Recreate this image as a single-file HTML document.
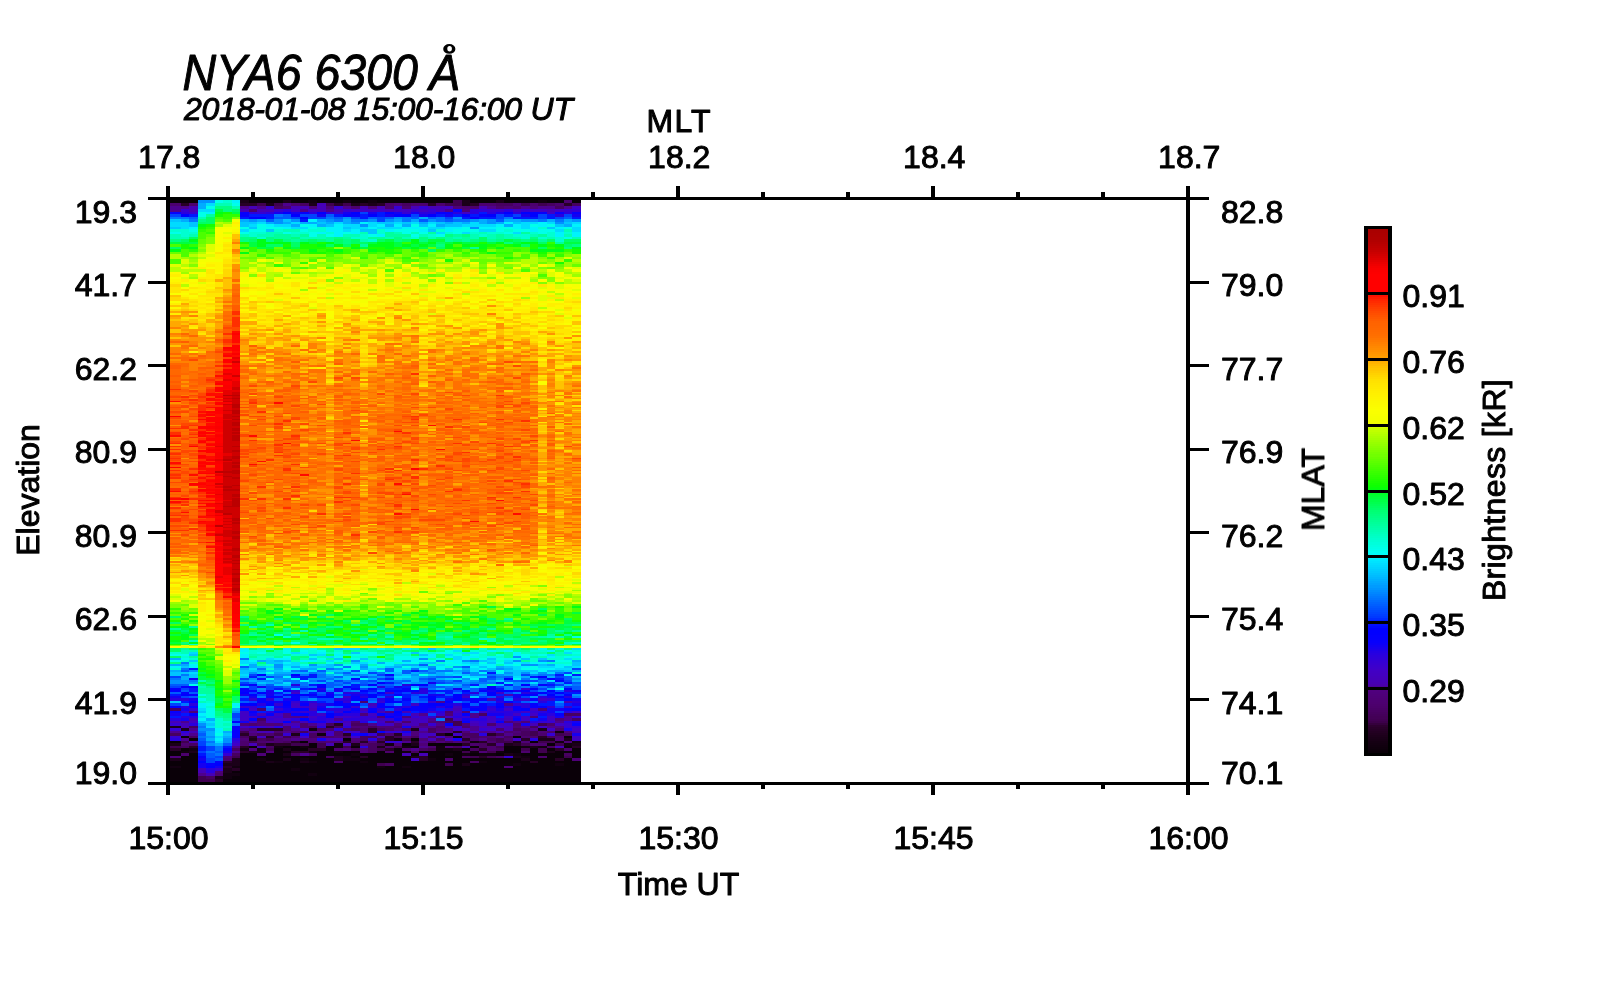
<!DOCTYPE html>
<html><head><meta charset="utf-8"><title>NYA6 6300 keogram</title>
<style>
html,body{margin:0;padding:0;background:#fff;}
body{width:1600px;height:1000px;overflow:hidden;}
svg{display:block;font-family:"Liberation Sans",sans-serif;}
text{fill:#000;stroke:#000;stroke-width:1px;stroke-linejoin:round;}
</style></head><body>
<svg width="1600" height="1000" viewBox="0 0 1600 1000">
<rect width="1600" height="1000" fill="#fff"/>
<g shape-rendering="crispEdges">
<clipPath id="hc"><rect x="170" y="200" width="411" height="582"/></clipPath>
<g clip-path="url(#hc)"><g transform="translate(168,200) scale(0.250441,0.5)" fill="none" stroke-width="34.2">
<path stroke="#0a0008" d="M34 0v6M0 0v6M34 1081v5M0 1081v5M34 1101v10M0 1101v10M34 1121v10M0 1121v10M34 1136v28M0 1136v28M68 0v6M68 1071v5M68 1096v5M68 1111v53M102 0v6M102 1076v5M102 1106v58M238 1157v7M272 1141v5M272 1151v13M306 1106v58M340 0v6M340 1091v5M340 1106v58M374 0v6M374 1111v5M374 1121v43M408 0v6M408 1106v15M408 1126v38M442 0v6M442 1096v25M442 1126v38M476 1091v5M476 1101v5M476 1111v5M476 1121v43M510 0v6M510 1091v10M510 1111v25M510 1141v23M544 0v6M544 1081v5M544 1096v5M544 1111v5M544 1126v38M578 1086v10M578 1111v10M578 1126v20M578 1151v13M612 0v6M612 1101v63M646 0v6M646 1091v20M646 1116v48M680 0v6M680 1106v5M680 1126v38M714 1076v5M714 1101v10M714 1121v43M748 0v6M748 1091v5M748 1101v5M748 1111v5M748 1121v43M782 0v6M782 1106v5M782 1116v5M782 1126v38M816 1106v58M850 0v6M850 1101v25M850 1136v28M884 0v6M884 1106v20M884 1131v33M918 0v6M918 1096v68M952 0v6M952 1086v5M952 1111v20M952 1136v28M986 0v6M986 1076v5M986 1091v5M986 1106v5M986 1121v43M1020 0v6M1020 1101v5M1020 1121v43M1054 0v6M1054 1086v5M1054 1101v15M1054 1121v43M1088 0v6M1088 1086v5M1088 1101v63M1122 0v6M1122 1066v5M1122 1086v5M1122 1101v5M1122 1111v5M1122 1121v5M1122 1131v33M1156 1071v5M1156 1086v5M1156 1101v63M1190 1096v5M1190 1116v10M1190 1131v33M1224 0v6M1224 1091v5M1224 1106v5M1224 1116v5M1224 1126v38M1258 0v6M1258 1116v5M1258 1126v38M1292 0v6M1292 1116v48M1326 1106v5M1326 1116v48M1360 0v6M1360 1091v15M1360 1116v15M1360 1136v28M1394 0v6M1394 1071v5M1394 1091v15M1394 1116v10M1394 1131v33M1428 0v6M1428 1106v5M1428 1121v43M1462 0v6M1462 1081v5M1462 1096v25M1462 1126v38M1496 1106v5M1496 1116v48M1530 0v6M1530 1086v5M1530 1096v5M1530 1106v58M1564 0v6M1564 1101v15M1564 1121v5M1564 1131v33M1598 1071v5M1598 1091v5M1598 1101v5M1598 1116v48M1632 0v6M1632 1096v20M1632 1121v43"/>
<path stroke="#120010" d="M34 1131v5M0 1131v5M68 1101v5M102 1096v5M238 1146v11M272 1131v5M272 1146v5M306 1096v5M374 1096v10M374 1116v5M442 1091v5M442 1121v5M510 1136v5M544 1091v5M544 1116v5M578 0v6M578 1056v5M578 1101v5M578 1121v5M578 1146v5M612 1066v5M680 1086v10M680 1101v5M714 0v6M714 1111v10M748 1106v5M748 1116v5M782 1121v5M816 0v6M850 1131v5M884 1086v5M918 1076v5M952 1091v5M952 1101v5M952 1131v5M1054 1116v5M1088 1091v10M1122 1096v5M1122 1106v5M1190 1106v5M1224 1081v5M1224 1101v5M1258 1106v5M1258 1121v5M1292 1106v5M1326 1101v5M1394 1106v5M1394 1126v5M1428 1091v5M1428 1111v5M1496 0v6M1496 1091v5M1564 1061v5M1564 1081v5M1564 1126v5M1598 1086v5M1632 1081v5"/>
<path stroke="#1b0019" d="M34 1051v5M0 1051v5M34 1086v5M0 1086v5M34 1116v5M0 1116v5M68 1056v5M102 1101v5M204 1151v6M238 1126v5M238 1136v10M272 1116v15M306 0v6M340 1076v5M340 1101v5M408 6v6M408 1086v5M408 1121v5M476 0v6M476 1096v5M476 1106v5M476 1116v5M510 1066v5M544 1121v5M578 6v6M680 1111v10M748 6v6M748 1086v5M816 6v6M850 1091v5M986 1056v5M986 1086v5M986 1111v5M1156 1096v5M1190 0v12M1190 1126v5M1326 0v6M1360 1086v5M1360 1106v5M1394 1081v5M1394 1111v5M1428 1116v5M1462 1091v5M1496 1056v5M1496 1076v5M1530 1076v5M1530 1101v5M1598 1076v5M1632 1086v5"/>
<path stroke="#280027" d="M34 1096v5M0 1096v5M68 6v6M102 1091v5M204 1157v7M238 1121v5M238 1131v5M272 1136v5M306 6v6M306 1066v5M306 1091v5M306 1101v5M340 6v6M340 1071v5M374 1056v5M408 1056v5M408 1071v5M442 1056v5M442 1086v5M476 1086v5M510 1081v5M510 1101v5M544 1101v5M578 1096v5M612 1096v5M646 1051v5M680 6v6M680 1046v5M714 1066v5M714 1081v5M782 6v6M782 1081v5M782 1111v5M816 1056v10M850 6v6M850 1081v5M884 1071v10M884 1096v5M918 1066v5M986 1081v5M1020 1111v10M1054 6v6M1088 1066v5M1156 1061v5M1190 1076v5M1190 1086v5M1224 6v6M1258 1081v5M1258 1096v5M1258 1111v5M1292 1066v5M1292 1086v5M1394 1086v5M1428 1076v5M1462 1121v5M1496 1071v5M1564 1096v5M1564 1116v5M1598 6v6M1632 1091v5"/>
<path stroke="#400050" d="M34 1091v5M0 1091v5M68 1081v5M136 1151v13M170 1157v7M272 1111v5M306 1061v5M340 1081v5M374 6v6M374 1086v5M408 1076v5M408 1096v5M442 6v6M442 1066v5M476 1071v5M510 1086v5M544 1086v5M612 1086v10M646 6v6M714 6v6M714 1091v5M748 1096v5M850 1066v5M850 1086v5M850 1096v5M850 1126v5M918 1071v5M918 1091v5M952 1076v5M1054 1096v5M1122 6v6M1122 1036v5M1122 1126v5M1156 0v12M1156 1041v10M1190 1101v5M1224 1111v5M1292 1101v5M1292 1111v5M1326 1066v5M1326 1076v10M1326 1091v5M1360 1081v5M1428 6v6M1428 1086v5M1428 1096v5M1462 1061v10M1496 6v6M1496 1046v5M1496 1081v5M1496 1096v10M1530 1081v5M1564 1066v5M1564 1086v5M1598 1111v5"/>
<path stroke="#470060" d="M34 1016v5M0 1016v5M34 1066v5M0 1066v5M68 1091v5M102 1051v5M102 1071v5M102 1086v5M170 1151v6M272 1096v5M272 1106v5M306 1071v5M374 1036v5M374 1066v5M374 1076v5M408 1091v5M442 12v6M476 1081v5M510 1106v5M544 6v6M544 1061v5M578 1051v5M578 1066v10M578 1106v5M612 1056v5M646 1046v5M646 1111v5M680 1051v5M680 1121v5M714 1071v5M748 1046v5M748 1056v5M782 1046v5M782 1071v10M816 1051v5M816 1071v5M816 1086v20M850 1056v5M850 1076v5M884 1126v5M952 6v6M986 1071v5M986 1101v5M1020 1096v5M1054 1056v10M1054 1081v5M1088 1076v5M1122 1041v5M1122 1081v5M1156 1091v5M1190 1066v5M1190 1081v5M1190 1111v5M1224 1066v10M1224 1096v5M1224 1121v5M1258 1026v5M1258 1086v10M1292 1076v5M1326 6v6M1326 1096v5M1326 1111v5M1360 6v6M1360 1071v5M1394 1056v5M1428 1061v10M1462 1051v5M1530 6v6M1530 1071v5M1530 1091v5M1564 12v6M1598 1026v5M1598 1066v5M1598 1106v5M1632 6v6M1632 1026v5M1632 1036v5"/>
<path stroke="#4c006e" d="M34 6v6M0 6v6M68 1086v5M68 1106v5M102 6v6M204 1146v5M238 1116v5M306 1081v10M340 18v5M340 1046v5M374 1016v5M374 1081v5M408 1066v5M442 1061v5M442 1076v10M476 12v6M476 1051v10M510 6v6M510 1061v5M510 1071v5M544 1046v10M578 1081v5M612 1071v5M612 1081v5M646 1056v5M646 1071v5M680 1061v10M680 1096v5M714 1056v5M748 12v6M748 1041v5M748 1081v5M782 1001v5M782 1056v5M884 6v12M884 1041v5M884 1056v5M884 1066v5M884 1091v5M884 1101v5M918 1051v5M952 12v6M952 1041v5M952 1056v5M952 1096v5M986 6v6M1020 6v6M1054 1071v5M1054 1091v5M1088 6v6M1088 1051v5M1122 1021v5M1122 1116v5M1190 12v6M1190 1051v5M1190 1071v5M1224 12v6M1224 1076v5M1224 1086v5M1258 6v6M1258 1071v5M1292 6v6M1292 1046v5M1292 1071v5M1292 1081v5M1292 1091v10M1326 12v6M1326 1056v5M1360 1061v5M1360 1076v5M1394 12v6M1394 1046v5M1394 1066v5M1428 1056v5M1428 1071v5M1428 1101v5M1462 6v6M1462 1071v5M1462 1086v5M1496 1066v5M1496 1086v5M1496 1111v5M1530 1046v5M1530 1061v5M1564 6v6M1564 1056v5M1564 1071v5M1598 0v6M1598 1096v5"/>
<path stroke="#4e0078" d="M34 1111v5M0 1111v5M102 1021v5M204 1141v5M238 1111v5M306 1046v5M306 1076v5M340 1056v5M340 1066v5M340 1096v5M374 1041v10M374 1106v5M408 1046v5M408 1081v5M408 1101v5M442 1046v5M476 1076v5M544 1076v5M578 12v6M578 1076v5M612 1061v5M646 12v6M646 1081v5M680 1071v5M680 1081v5M714 1096v5M748 1051v5M748 1076v5M782 1026v5M782 1051v5M782 1061v5M782 1086v5M782 1096v10M816 12v6M816 1081v5M850 1031v5M850 1051v5M884 1051v5M918 6v6M918 1046v5M918 1086v5M952 1031v5M952 1071v5M986 1061v10M1020 1046v5M1020 1076v5M1020 1086v5M1054 1041v5M1088 1031v5M1088 1041v5M1088 1056v5M1088 1081v5M1122 1026v5M1122 1056v5M1122 1071v5M1122 1091v5M1156 12v6M1156 1081v5M1190 18v5M1190 1021v5M1190 1046v5M1190 1061v5M1258 1101v5M1360 12v6M1360 1041v5M1360 1131v5M1394 6v6M1394 1051v5M1394 1061v5M1428 1041v5M1428 1081v5M1462 12v6M1462 1031v5M1496 1016v5M1496 1061v5M1564 1036v5M1564 1076v5M1598 1061v5M1598 1081v5M1632 1116v5"/>
<path stroke="#4e008e" d="M34 12v11M0 12v11M34 1061v5M0 1061v5M68 12v6M68 1041v5M68 1076v5M102 1056v5M102 1066v5M136 1146v5M272 1091v5M272 1101v5M306 12v6M306 1056v5M340 1061v5M374 12v6M442 1071v5M476 6v6M476 1026v10M476 1061v5M510 1031v5M510 1041v5M510 1056v5M510 1076v5M544 18v5M544 1031v5M544 1106v5M578 1046v5M578 1061v5M646 18v5M680 1036v5M714 12v6M816 1046v5M884 1021v5M918 1056v5M952 1081v5M986 1051v5M986 1096v5M1020 1026v5M1020 1051v5M1020 1061v5M1020 1081v5M1020 1091v5M1054 1036v5M1054 1051v5M1088 1001v5M1088 1046v5M1088 1061v5M1122 18v5M1122 1061v5M1224 1026v10M1224 1051v10M1258 1061v5M1258 1076v5M1292 12v6M1292 1061v5M1326 1071v5M1326 1086v5M1360 1006v5M1360 1066v5M1394 1041v5M1428 12v6M1428 1051v5M1462 1056v5M1496 12v6M1530 12v6M1530 1051v5M1564 1041v5M1564 1051v5M1598 12v6M1598 1031v10"/>
<path stroke="#4600b7" d="M34 1041v5M0 1041v5M68 1046v10M102 12v11M102 1036v5M102 1061v5M102 1081v5M136 1136v10M170 1146v5M306 18v5M340 12v6M340 1041v5M340 1086v5M374 18v5M374 1026v5M374 1061v5M374 1091v5M408 18v5M408 1051v5M408 1061v5M476 1046v5M510 12v6M510 1046v5M544 12v6M544 1041v5M578 1016v5M612 6v17M646 1076v5M646 1086v5M680 18v5M680 1076v5M714 1041v5M714 1086v5M782 12v6M782 1016v5M816 1006v5M850 12v6M850 1021v5M850 1036v5M850 1071v5M884 18v5M918 1041v5M952 1021v5M952 1036v5M952 1046v5M952 1106v5M986 12v6M986 1026v5M986 1036v15M1020 1056v5M1020 1066v10M1020 1106v5M1054 12v6M1054 1076v5M1088 12v11M1122 1076v5M1156 1016v5M1190 1056v5M1190 1091v5M1224 1046v5M1224 1061v5M1258 12v6M1258 1051v5M1292 996v5M1292 1051v5M1326 1046v5M1326 1061v5M1360 988v4M1360 1036v5M1360 1051v10M1462 1046v5M1530 18v5M1564 1091v5M1598 1001v5M1632 1061v5"/>
<path stroke="#4100c5" d="M68 1066v5M102 1041v5M272 1086v5M306 1021v20M306 1051v5M340 1016v5M340 1031v5M374 1071v5M408 1031v5M408 1041v5M442 1026v5M442 1036v5M476 1036v5M510 18v5M510 984v4M510 1006v10M544 1056v5M544 1071v5M578 18v5M578 1006v10M578 1031v5M612 1026v5M612 1046v5M646 1061v10M680 1031v5M714 992v4M714 1031v5M714 1046v5M748 18v5M748 1061v5M748 1071v5M782 18v5M816 18v5M816 1026v5M816 1036v5M850 18v5M850 1041v5M884 984v4M884 1046v5M918 18v5M952 18v5M986 1006v5M986 1116v5M1020 18v5M1020 1031v15M1054 1021v5M1054 1066v5M1088 1071v5M1122 12v6M1122 1031v5M1156 1011v5M1156 1021v5M1156 1036v5M1156 1056v5M1156 1066v5M1190 23v5M1190 992v4M1224 1041v5M1258 1021v5M1292 1031v15M1292 1056v5M1326 984v4M1326 1051v5M1360 1016v5M1360 1031v5M1394 18v5M1394 1026v5M1394 1076v5M1428 1021v5M1428 1031v10M1462 18v5M1462 1016v5M1462 1026v5M1496 18v5M1496 996v5M1496 1051v5M1530 23v5M1530 1031v10M1530 1056v5M1564 18v5M1564 1046v5M1598 1011v5M1632 12v6M1632 1021v5M1632 1056v5M1632 1071v10"/>
<path stroke="#3600d2" d="M34 1046v5M0 1046v5M34 1056v5M0 1056v5M34 1071v5M0 1071v5M68 18v5M68 1021v5M102 23v5M102 1016v5M204 1136v5M238 1106v5M272 1081v5M306 1011v5M340 996v5M340 1011v5M374 23v5M374 1051v5M408 12v6M408 996v5M408 1036v5M442 18v5M442 1006v5M442 1016v5M442 1031v5M442 1041v5M476 1066v5M510 1001v5M510 1051v5M544 1011v5M544 1021v5M578 1036v5M646 1036v10M680 12v6M680 23v5M680 1021v5M714 18v5M714 1001v5M714 1061v5M748 1011v5M748 1031v5M782 1021v5M782 1031v10M816 1011v5M816 1031v5M816 1066v5M850 1001v5M850 1046v5M884 1036v5M884 1061v5M884 1081v5M918 12v6M918 1061v5M918 1081v5M952 23v5M952 1066v5M986 18v5M986 1031v5M1020 12v6M1054 18v5M1054 1001v5M1054 1031v5M1054 1046v5M1088 1026v5M1122 1051v5M1156 1026v5M1156 1051v5M1190 1031v5M1258 18v5M1258 1031v5M1258 1041v10M1258 1056v5M1292 18v5M1292 1016v5M1326 18v5M1326 992v4M1360 1046v5M1360 1111v5M1394 1006v5M1428 18v5M1428 976v4M1428 996v5M1462 1021v5M1496 1041v5M1530 996v5M1530 1011v5M1530 1041v5M1530 1066v5M1598 18v5M1598 1046v10M1632 18v5M1632 1031v5M1632 1051v5"/>
<path stroke="#2a00de" d="M34 996v5M0 996v5M34 1036v5M0 1036v5M34 1076v5M0 1076v5M68 23v5M68 996v5M68 1011v5M68 1031v5M68 1061v5M102 1006v5M102 1031v5M102 1046v5M170 1136v10M272 1076v5M340 23v5M340 1051v5M374 1006v5M408 23v5M408 1021v5M442 1051v5M476 18v5M510 968v4M510 980v4M510 1021v5M510 1036v5M578 23v5M578 1001v5M578 1021v10M612 976v4M612 1006v5M612 1031v10M612 1051v5M646 23v5M646 1016v5M680 996v5M680 1016v5M680 1041v5M680 1056v5M714 984v4M714 996v5M714 1016v5M714 1026v5M714 1036v5M714 1051v5M748 984v4M748 1026v5M748 1036v5M782 992v4M782 1041v5M782 1091v5M816 1076v5M850 972v4M850 996v5M850 1016v5M884 992v4M918 1016v5M952 968v4M952 1011v5M986 984v4M1020 23v5M1020 976v12M1054 23v5M1088 1011v5M1088 1021v5M1122 1016v5M1156 23v5M1156 1006v5M1156 1031v5M1190 988v4M1224 18v10M1224 984v4M1224 1036v5M1258 1036v5M1258 1066v5M1292 23v5M1292 1011v5M1292 1021v5M1326 1001v5M1326 1021v5M1326 1036v5M1360 18v5M1360 1011v5M1360 1021v10M1394 23v5M1394 996v5M1394 1021v5M1428 984v4M1428 1006v10M1462 1041v5M1462 1076v5M1496 992v4M1496 1001v5M1496 1021v5M1530 1026v5M1564 28v5M1598 23v5M1598 980v4M1598 992v4M1598 1021v5M1598 1041v5M1632 1001v5"/>
<path stroke="#1500f1" d="M34 992v4M0 992v4M34 1026v5M0 1026v5M68 1016v5M68 1036v5M102 956v4M102 996v5M136 1116v5M136 1126v10M204 1131v5M238 1101v5M306 988v4M306 1041v5M340 992v4M340 1026v5M374 972v4M374 1031v5M408 980v12M442 23v5M442 1001v5M442 1011v5M476 996v5M476 1016v10M510 23v5M544 1001v5M544 1066v5M578 1041v5M612 28v5M612 980v4M612 1011v5M612 1041v5M612 1076v5M646 984v4M646 1006v5M680 976v8M680 1026v5M714 23v5M748 988v4M748 1021v5M748 1066v5M782 988v4M816 23v5M884 28v5M884 1026v5M918 23v5M918 972v4M918 1011v5M918 1031v5M952 1051v5M952 1061v5M986 23v5M1020 28v5M1020 1021v5M1054 964v4M1054 988v4M1054 1016v5M1088 988v4M1122 28v5M1122 996v5M1122 1006v5M1156 976v4M1156 1076v5M1190 996v5M1190 1036v5M1224 1011v5M1292 980v4M1292 1026v5M1326 23v5M1326 996v5M1326 1016v5M1326 1026v5M1394 980v4M1394 988v8M1394 1031v5M1428 28v5M1428 1046v5M1462 984v4M1496 1026v5M1496 1036v5M1530 992v4M1530 1016v10M1564 1016v5M1564 1031v5M1598 1056v5M1632 28v5M1632 980v4M1632 996v5M1632 1006v5M1632 1041v5M1632 1066v5"/>
<path stroke="#0600fd" d="M34 23v5M0 23v5M34 976v4M0 976v4M34 1021v5M0 1021v5M68 972v4M68 984v4M102 988v4M102 1011v5M136 1111v5M170 1126v5M204 1121v5M238 1096v5M272 1051v25M306 23v10M306 980v4M340 968v4M340 980v4M340 1021v5M374 996v10M408 992v4M408 1001v5M408 1026v5M442 992v4M442 1021v5M476 988v4M476 1011v5M510 992v9M510 1016v5M510 1026v5M544 23v5M544 1006v5M544 1016v5M578 976v4M578 988v4M612 968v4M612 1016v5M646 988v4M714 28v5M714 1006v5M748 28v5M748 976v4M748 992v9M748 1016v5M782 996v5M782 1066v5M816 1016v5M850 1006v10M850 1061v5M884 948v4M884 980v4M884 996v5M918 988v4M918 1026v5M918 1036v5M952 976v8M952 996v5M986 1011v10M1020 1006v15M1054 1011v5M1088 23v5M1122 23v5M1122 1011v5M1156 18v5M1190 1011v5M1190 1041v5M1224 33v5M1224 996v10M1258 28v5M1258 980v4M1258 996v5M1258 1006v15M1326 1006v5M1326 1041v5M1394 1011v10M1394 1036v5M1462 996v5M1462 1006v10M1496 23v5M1496 968v4M1496 1011v5M1530 956v4M1564 23v5M1564 1026v5M1598 1016v5M1632 23v5M1632 1046v5"/>
<path stroke="#00f" d="M34 980v4M0 980v4M34 1011v5M0 1011v5M68 28v5M68 988v4M102 972v4M102 1001v5M102 1026v5M136 1121v5M170 1131v5M204 1126v5M272 1041v5M306 976v4M306 984v4M306 1006v5M306 1016v5M340 33v5M340 988v4M340 1006v5M340 1036v5M374 33v5M374 948v4M374 984v4M408 1006v5M476 23v5M476 980v4M476 1001v10M476 1041v5M510 28v5M510 948v4M510 988v4M544 33v5M544 988v4M544 1026v5M544 1036v5M612 23v5M612 972v4M612 992v4M646 992v4M646 1026v10M680 1001v10M714 972v4M714 1011v5M714 1021v5M748 23v5M748 956v4M748 1006v5M782 980v4M816 28v5M816 968v4M816 976v4M816 988v8M816 1021v5M850 964v4M850 984v4M850 1026v5M884 23v5M884 1001v5M884 1011v5M884 1031v5M918 28v5M918 980v4M918 1001v5M918 1021v5M952 28v5M952 1016v5M986 968v4M986 980v4M1020 968v4M1054 28v5M1054 992v9M1054 1006v5M1088 1006v5M1122 1001v5M1122 1046v5M1156 988v13M1190 28v5M1190 980v4M1190 1006v5M1190 1026v5M1224 1016v5M1292 28v5M1292 972v8M1292 984v8M1326 980v4M1326 1011v5M1360 23v5M1360 956v4M1360 980v4M1360 1001v5M1428 23v5M1428 968v4M1428 980v4M1428 988v4M1428 1016v5M1462 23v10M1462 976v4M1462 988v4M1496 952v4M1496 984v4M1530 980v4M1530 988v4M1564 960v4M1564 984v4M1564 992v4M1598 976v4M1598 988v4M1598 996v5M1632 1016v5"/>
<path stroke="#0018ff" d="M34 988v4M0 988v4M34 1031v5M0 1031v5M68 1001v5M68 1026v5M102 28v5M102 936v4M102 976v8M136 1091v10M136 1106v5M238 1091v5M306 33v5M306 968v4M306 996v5M340 28v5M340 952v4M374 28v5M374 956v4M374 1011v5M374 1021v5M408 28v10M442 976v4M442 984v4M510 952v4M544 38v5M544 952v8M544 976v4M578 948v8M578 968v4M578 984v4M578 992v4M612 1001v5M646 1021v5M680 28v5M714 988v4M748 968v8M782 28v10M782 984v4M816 980v4M850 23v10M850 988v4M884 956v4M884 964v4M884 976v4M884 988v4M918 976v4M918 984v4M952 972v4M952 988v8M952 1001v10M952 1026v5M986 940v4M986 1021v5M1020 992v4M1054 980v4M1088 28v5M1088 980v4M1088 992v4M1088 1016v5M1122 980v8M1122 992v4M1156 28v5M1190 33v5M1190 984v4M1190 1016v5M1224 28v5M1224 968v4M1258 23v5M1258 33v5M1258 976v4M1292 33v5M1292 944v4M1292 1006v5M1326 964v4M1326 976v4M1326 988v4M1326 1031v5M1360 28v5M1360 968v4M1394 33v5M1394 1001v5M1428 33v5M1428 1026v5M1462 33v5M1462 952v4M1462 1036v5M1496 1006v5M1496 1031v5M1530 28v10M1530 968v4M1530 984v4M1530 1001v10M1564 948v4M1564 956v4M1564 996v5M1598 964v4M1598 984v4M1598 1006v5M1632 33v5M1632 948v4M1632 984v4M1632 1011v5"/>
<path stroke="#0043ff" d="M34 28v5M0 28v5M34 952v4M0 952v4M34 972v4M0 972v4M34 1006v5M0 1006v5M68 976v4M68 992v4M136 1081v10M136 1101v5M170 1091v10M170 1116v10M204 1111v5M272 1026v10M306 956v4M306 964v4M340 948v4M340 972v8M340 984v4M340 1001v5M374 988v4M408 952v4M408 972v8M442 972v4M442 988v4M442 996v5M476 976v4M510 33v5M510 972v4M544 28v5M544 992v4M578 28v10M612 33v5M612 960v4M612 988v4M612 996v5M646 996v10M680 960v4M680 988v4M714 964v4M714 976v4M748 33v5M748 940v4M782 23v5M782 952v4M782 968v4M782 976v4M782 1006v5M816 944v4M816 960v4M816 984v4M816 1041v5M850 33v10M850 948v4M850 956v4M850 976v4M884 972v4M884 1006v5M884 1016v5M918 996v5M952 984v4M986 28v5M986 988v4M1020 972v4M1020 996v5M1054 956v4M1054 984v4M1054 1026v5M1088 964v4M1122 33v5M1156 952v4M1156 960v4M1156 980v4M1190 1001v5M1224 988v4M1258 992v4M1292 952v4M1292 1001v5M1326 28v10M1326 972v4M1360 984v4M1360 992v4M1394 28v5M1428 948v4M1428 960v4M1428 992v4M1462 960v4M1462 972v4M1462 980v4M1496 28v10M1496 956v4M1496 976v4M1530 964v4M1530 972v4M1564 33v5M1564 952v4M1564 968v4M1564 988v4M1564 1011v5M1564 1021v5M1598 28v5M1598 944v4M1598 960v4M1598 972v4M1632 936v4"/>
<path stroke="#005cff" d="M34 968v4M0 968v4M34 984v4M0 984v4M68 940v4M68 968v4M68 980v4M102 33v5M102 984v4M102 992v4M136 1066v5M136 1076v5M170 1106v10M204 1101v5M204 1116v5M238 1086v5M272 1036v5M306 932v4M306 992v4M306 1001v5M408 38v5M408 968v4M408 1016v5M442 33v5M476 28v10M476 992v4M544 940v4M544 972v4M544 980v4M544 996v5M612 940v4M612 984v4M612 1021v5M646 28v5M646 964v12M680 33v5M680 952v4M680 968v4M680 1011v5M714 944v4M714 980v4M748 960v4M782 960v8M816 33v5M816 996v5M850 968v4M850 992v4M884 33v5M884 936v8M884 952v4M884 968v4M918 964v4M952 940v8M952 960v4M986 33v5M986 992v9M1020 38v5M1020 928v4M1020 940v4M1020 956v4M1020 988v4M1020 1001v5M1054 33v5M1054 960v4M1054 968v8M1088 952v4M1088 960v4M1088 972v4M1088 996v5M1122 38v5M1122 952v4M1122 964v4M1122 976v4M1122 988v4M1190 932v4M1190 944v4M1190 968v4M1224 976v8M1224 1006v5M1224 1021v5M1258 956v8M1258 984v4M1258 1001v5M1292 956v4M1292 992v4M1326 38v5M1360 952v4M1360 960v4M1394 960v4M1394 972v8M1428 1001v5M1496 988v4M1564 980v4M1564 1006v5M1598 33v5M1598 952v8M1632 964v4M1632 972v8"/>
<path stroke="#0076ff" d="M34 33v5M0 33v5M34 956v4M0 956v4M68 33v5M68 924v4M68 936v4M68 948v4M68 1006v5M102 38v5M102 960v4M136 1051v5M136 1061v5M136 1071v5M170 1081v5M170 1101v5M204 1091v10M204 1106v5M272 1046v5M306 916v4M340 964v4M374 936v4M374 980v4M374 992v4M408 1011v5M442 28v5M442 952v4M476 960v4M476 972v4M476 984v4M510 940v4M510 960v8M544 948v4M544 964v8M544 984v4M578 944v4M578 960v4M578 972v4M612 948v8M646 33v5M646 936v4M646 956v4M646 980v4M646 1011v5M680 38v5M680 964v4M714 932v4M714 960v4M748 38v5M748 948v4M748 980v4M782 38v5M782 1011v5M816 952v4M816 964v4M816 1001v5M850 944v4M850 980v4M884 960v4M918 960v4M952 33v10M986 936v4M986 1001v5M1020 960v4M1054 936v4M1054 944v4M1054 952v4M1054 976v4M1088 33v10M1088 920v4M1088 940v4M1088 984v4M1088 1036v5M1122 940v4M1122 960v4M1122 972v4M1156 38v5M1156 964v4M1156 984v4M1156 1001v5M1190 38v5M1190 972v4M1224 920v4M1224 964v4M1258 940v4M1258 964v4M1258 988v4M1292 948v4M1292 964v4M1326 952v4M1360 33v5M1360 996v5M1394 984v4M1428 956v4M1428 972v4M1462 1001v5M1496 38v5M1496 948v4M1496 960v8M1496 972v4M1496 980v4M1530 920v4M1530 948v4M1564 38v5M1564 944v4M1632 968v4M1632 992v4"/>
<path stroke="#0091ff" d="M34 960v8M0 960v8M68 960v8M102 940v4M102 964v4M136 0v6M136 1046v5M136 1056v5M170 0v6M170 1056v5M170 1071v5M170 1086v5M238 1076v10M272 1021v5M306 960v4M340 38v5M340 944v4M340 956v4M374 952v4M374 960v4M374 968v4M374 976v4M408 960v4M442 38v10M442 928v8M442 948v4M442 956v4M442 964v4M476 948v4M476 956v4M510 38v5M578 928v4M578 956v4M578 980v4M578 996v5M612 944v4M612 956v4M646 38v5M646 952v4M646 976v4M680 928v4M680 936v4M680 944v4M680 972v4M680 984v4M680 992v4M714 33v5M714 948v4M714 968v4M748 43v5M748 920v4M748 964v4M748 1001v5M782 48v5M782 932v4M782 948v4M816 38v5M816 972v4M850 952v4M850 960v4M884 38v5M918 33v5M918 968v4M918 1006v5M986 948v4M986 964v4M1020 916v4M1020 944v4M1020 952v4M1020 964v4M1054 38v5M1054 932v4M1054 940v4M1156 33v5M1156 932v4M1156 972v4M1190 920v4M1190 940v4M1190 956v4M1190 964v4M1190 976v4M1224 38v5M1224 53v5M1224 944v8M1224 960v4M1258 948v4M1292 38v10M1292 940v4M1292 960v4M1326 936v4M1326 948v4M1326 956v4M1360 944v4M1360 972v8M1394 912v4M1394 920v4M1394 964v8M1428 38v5M1428 928v4M1428 944v4M1428 964v4M1462 38v5M1462 928v4M1462 948v4M1462 968v4M1462 992v4M1496 920v4M1496 944v4M1564 43v5M1564 964v4M1564 1001v5M1632 38v5M1632 956v4M1632 988v4"/>
<path stroke="#00acff" d="M34 916v4M0 916v4M34 928v4M0 928v4M34 940v4M0 940v4M68 38v5M68 928v4M68 952v8M136 6v12M170 1036v5M170 1061v10M170 1076v5M204 1086v5M238 1061v5M238 1071v5M272 1016v5M306 38v5M306 936v4M306 972v4M340 928v8M340 960v4M374 38v5M374 920v4M374 940v4M408 43v5M408 948v4M408 964v4M442 920v4M442 936v4M442 944v4M442 960v4M442 980v4M476 43v5M476 944v4M510 48v5M510 932v4M510 944v4M544 43v5M544 936v4M544 944v4M578 43v5M578 936v4M578 964v4M612 38v5M612 48v5M612 964v4M646 43v5M646 948v4M646 960v4M680 956v4M714 38v10M782 928v4M782 936v4M782 972v4M816 948v4M816 956v4M850 924v4M850 936v4M884 48v5M918 38v5M918 932v4M918 948v4M952 48v5M952 920v4M952 928v4M952 956v4M952 964v4M986 38v5M986 928v4M986 944v4M986 952v12M986 972v4M1020 33v5M1020 43v5M1088 48v5M1088 944v8M1088 956v4M1088 976v4M1122 43v5M1122 936v4M1156 940v4M1156 968v4M1190 43v5M1190 936v4M1190 960v4M1258 38v10M1258 968v8M1326 43v5M1326 932v4M1360 38v5M1360 48v5M1360 936v4M1360 948v4M1394 38v5M1428 952v4M1530 38v5M1530 928v4M1530 940v4M1530 952v4M1530 976v4M1564 940v4M1564 972v4M1598 38v5M1598 48v5M1598 968v4M1632 920v4M1632 940v4M1632 960v4"/>
<path stroke="#00c5ff" d="M34 38v5M0 38v5M34 53v5M0 53v5M34 944v8M0 944v8M34 1001v5M0 1001v5M68 932v4M68 944v4M102 43v10M102 908v4M102 920v4M102 948v8M136 1021v5M136 1041v5M170 1046v5M238 1066v5M306 43v10M306 940v8M306 952v4M340 43v5M340 53v5M340 940v4M374 932v4M374 944v4M374 964v4M408 58v5M408 920v8M408 940v4M442 924v4M442 940v4M442 968v4M476 38v5M476 920v4M476 968v4M510 976v4M578 908v4M578 916v4M578 932v4M612 43v5M612 932v4M646 48v5M646 928v8M646 940v4M680 896v4M680 916v4M680 940v4M714 53v5M714 940v4M714 952v8M748 904v4M748 924v4M748 944v4M748 952v4M782 58v5M782 916v4M816 58v10M816 940v4M850 43v5M884 43v5M884 932v4M884 944v4M918 928v4M918 944v4M918 956v4M918 992v4M952 43v5M952 948v4M986 904v4M1020 48v5M1020 908v4M1020 924v4M1020 932v4M1054 58v5M1054 896v4M1054 924v4M1054 948v4M1088 43v5M1122 48v5M1122 948v4M1122 956v4M1156 43v10M1156 944v4M1190 948v4M1224 924v4M1224 992v4M1258 920v4M1258 932v4M1292 916v4M1292 924v4M1292 936v4M1326 960v4M1326 968v4M1360 924v4M1360 932v4M1360 940v4M1394 43v5M1394 940v12M1428 916v4M1428 940v4M1462 940v4M1462 956v4M1496 916v4M1496 928v4M1530 53v5M1564 48v5M1598 43v5M1598 932v4M1598 940v4M1632 924v8M1632 952v4"/>
<path stroke="#00dbff" d="M34 43v10M0 43v10M68 43v15M102 904v4M102 944v4M136 18v5M136 1016v5M136 1031v5M170 6v6M170 18v5M170 1041v5M170 1051v5M204 1071v5M204 1081v5M306 58v5M306 920v8M306 948v4M340 48v5M340 924v4M340 936v4M374 43v5M408 916v4M408 932v4M442 48v5M476 48v5M476 928v4M476 940v4M476 964v4M510 43v5M510 53v5M510 904v4M510 924v8M544 53v5M544 932v4M578 940v4M612 908v4M612 928v4M646 912v4M646 920v4M680 43v5M680 948v4M714 48v5M714 58v5M714 896v4M748 48v10M748 896v4M782 53v5M782 924v4M782 944v4M816 43v10M816 936v4M850 53v5M884 53v5M918 43v5M918 53v5M918 936v8M918 952v4M952 936v4M952 952v4M986 43v5M986 932v4M1054 43v5M1054 53v5M1088 53v5M1088 63v5M1088 928v4M1088 968v4M1122 908v4M1122 944v4M1122 968v4M1156 900v4M1156 912v8M1156 948v4M1156 956v4M1190 48v5M1190 63v5M1190 904v4M1190 924v4M1224 43v10M1224 904v4M1224 928v4M1224 936v8M1224 952v4M1224 972v4M1258 48v5M1258 58v5M1258 952v4M1292 48v5M1292 58v5M1292 920v4M1360 920v4M1360 964v4M1394 63v5M1394 932v8M1394 952v4M1428 43v15M1428 924v4M1462 43v5M1462 944v4M1462 964v4M1496 932v4M1530 43v5M1530 908v4M1530 932v4M1530 944v4M1530 960v4M1564 58v5M1564 936v4M1598 904v4M1598 916v4M1598 936v4M1632 43v5M1632 53v10M1632 896v4M1632 932v4"/>
<path stroke="#00f3fc" d="M34 932v4M0 932v4M102 53v5M102 928v8M136 1006v10M136 1026v5M136 1036v5M170 23v5M204 1056v10M204 1076v5M272 0v6M272 1006v5M306 896v8M306 908v8M340 920v4M408 48v5M408 956v4M442 916v4M476 53v5M476 896v4M476 916v4M476 924v4M476 932v4M476 952v4M510 936v4M510 956v4M544 904v4M544 920v4M544 960v4M578 38v5M578 48v5M578 920v4M612 63v5M612 904v4M646 53v10M680 48v25M680 908v4M748 58v10M748 928v4M782 43v5M782 908v4M782 956v4M816 53v5M816 920v8M816 932v4M850 48v5M850 68v5M884 58v5M884 924v8M918 48v5M918 920v4M952 53v5M952 896v4M952 924v4M986 53v5M986 916v8M986 976v4M1020 58v5M1020 912v4M1020 936v4M1054 48v5M1054 908v8M1088 932v8M1122 53v10M1122 912v4M1122 920v4M1122 928v4M1156 53v5M1156 920v8M1156 936v4M1190 912v8M1190 928v4M1190 952v4M1224 912v4M1224 932v4M1224 956v4M1258 53v5M1258 928v4M1258 936v4M1258 944v4M1292 53v5M1292 900v4M1292 912v4M1292 928v8M1326 48v5M1326 944v4M1360 43v5M1360 900v4M1360 916v4M1360 928v4M1394 48v10M1394 904v8M1394 924v4M1394 956v4M1428 932v4M1462 53v10M1462 924v4M1496 43v10M1496 924v4M1496 936v8M1530 900v4M1530 912v4M1530 936v4M1564 53v5M1564 63v10M1564 928v8M1598 948v4M1632 48v5M1632 63v10M1632 912v4"/>
<path stroke="#00ffea" d="M34 63v5M0 63v5M34 908v4M0 908v4M34 920v4M0 920v4M68 908v4M68 916v4M102 58v5M102 968v4M136 23v10M136 988v4M136 996v5M170 12v6M170 1006v5M170 1016v20M204 0v6M204 1066v5M272 6v6M272 1011v5M306 53v5M306 63v5M306 904v4M306 928v4M340 58v5M374 48v15M374 904v4M408 53v5M408 944v4M442 53v5M442 867v4M476 63v5M476 900v8M476 912v4M476 936v4M510 883v4M544 48v5M544 58v5M544 900v4M544 928v4M578 53v5M578 63v10M578 896v4M578 912v4M612 900v4M612 916v4M646 68v5M646 924v4M680 904v4M680 912v4M680 920v4M680 932v4M714 63v5M714 928v4M714 936v4M748 908v4M748 916v4M748 932v8M782 904v4M782 940v4M816 68v5M816 904v8M850 896v4M850 928v4M850 940v4M918 58v5M918 912v8M952 58v10M952 904v4M952 912v8M952 932v4M986 48v5M986 58v5M986 68v5M986 924v4M1020 53v5M1020 63v5M1020 904v4M1020 920v4M1020 948v4M1054 920v4M1088 68v5M1088 904v4M1088 916v4M1122 900v8M1122 924v4M1156 58v10M1156 908v4M1156 928v4M1190 53v10M1224 58v5M1224 908v4M1258 904v4M1258 916v4M1258 924v4M1326 53v10M1326 908v4M1326 916v4M1326 924v4M1326 940v4M1360 53v5M1360 63v5M1394 58v5M1394 916v4M1394 928v4M1428 58v5M1428 908v8M1428 936v4M1462 48v5M1462 932v8M1496 58v10M1496 896v4M1496 908v4M1530 48v5M1530 58v5M1564 920v4M1564 976v4M1598 53v5M1598 73v5M1598 900v4M1598 912v4M1598 920v4M1598 928v4M1632 871v4M1632 904v4"/>
<path stroke="#00ffd1" d="M34 58v5M0 58v5M34 904v4M0 904v4M34 936v4M0 936v4M68 58v15M68 912v4M68 920v4M102 63v5M102 887v2M102 916v4M102 924v4M170 1001v5M170 1011v5M204 1036v20M238 0v6M238 1041v5M238 1051v5M340 63v10M340 900v8M340 916v4M374 63v5M374 73v5M374 900v4M374 912v8M408 896v4M408 912v4M408 928v4M408 936v4M442 58v5M476 871v4M510 63v5M510 908v4M544 63v5M544 896v4M544 908v4M578 58v5M578 900v8M612 53v10M612 920v4M612 936v4M646 63v5M646 944v4M680 900v4M714 908v4M748 73v5M748 912v4M782 68v10M782 912v4M782 920v4M816 78v5M816 916v4M850 58v10M850 908v4M850 916v4M850 932v4M884 904v4M918 908v4M918 924v4M952 908v4M986 73v5M986 912v4M1054 68v5M1054 904v4M1054 928v4M1088 58v5M1088 924v4M1122 63v5M1122 932v4M1156 904v4M1224 63v5M1224 900v4M1258 68v5M1258 875v4M1258 896v4M1258 908v8M1292 63v5M1326 63v5M1326 900v4M1326 912v4M1326 920v4M1360 58v5M1394 68v5M1428 68v10M1462 63v5M1462 900v4M1462 908v4M1462 916v8M1496 53v5M1496 73v5M1496 900v4M1530 63v10M1530 916v4M1530 924v4M1564 73v10M1564 896v4M1564 912v8M1564 924v4M1598 63v5M1598 924v4M1632 883v4M1632 900v4M1632 908v4M1632 916v4M1632 944v4"/>
<path stroke="#00ffb6" d="M34 68v10M0 68v10M68 73v5M68 900v8M102 68v5M102 879v4M102 900v4M136 33v5M136 960v4M136 972v4M136 1001v5M170 988v13M204 6v6M238 6v6M238 1046v5M238 1056v5M272 12v6M306 68v5M340 851v4M340 908v4M374 68v5M374 896v4M374 908v4M374 928v4M408 63v10M408 847v4M408 904v8M442 63v5M442 883v4M442 900v12M476 58v5M510 58v5M510 68v5M510 867v4M510 920v4M544 73v5M544 859v4M544 916v4M544 924v4M578 73v5M578 887v2M612 68v10M612 875v4M612 912v4M646 867v4M646 875v4M646 904v4M714 68v5M714 916v4M714 924v4M748 68v5M782 63v5M782 78v5M782 875v4M782 900v4M816 883v4M816 928v4M850 887v2M850 920v4M884 73v5M884 871v4M884 883v4M884 896v4M884 920v4M918 63v5M918 887v2M918 900v4M952 73v5M986 63v5M986 883v4M986 896v4M1020 68v5M1054 73v5M1054 916v4M1088 896v4M1122 871v4M1122 887v2M1156 73v5M1156 896v4M1190 887v2M1190 908v4M1224 68v10M1224 916v4M1258 63v5M1258 900v4M1292 68v10M1292 875v8M1292 968v4M1326 896v4M1326 928v4M1360 68v10M1360 896v4M1394 73v5M1394 887v2M1428 904v4M1462 68v5M1462 904v4M1496 904v4M1496 912v4M1530 73v5M1530 871v4M1564 871v4M1564 904v8M1598 58v5M1598 68v5M1598 883v4M1598 908v4M1632 73v5"/>
<path stroke="#00ff9c" d="M34 855v4M0 855v4M68 896v4M102 851v4M102 912v4M136 976v12M136 992v4M170 28v5M170 976v12M204 1031v5M238 1036v5M340 867v4M340 887v2M340 912v4M442 68v10M442 912v4M476 68v10M476 855v4M476 908v4M510 78v5M510 896v4M544 68v5M544 851v4M612 896v4M612 924v4M646 73v10M646 887v2M646 916v4M680 875v4M680 887v2M680 924v4M714 73v5M748 900v4M782 88v5M782 883v4M816 73v5M816 867v4M816 896v8M816 912v4M850 73v5M850 904v4M884 63v10M884 879v4M884 912v4M918 68v5M918 904v4M952 68v5M1020 900v4M1054 63v5M1054 879v4M1088 871v4M1122 73v10M1122 875v4M1156 68v5M1190 73v10M1224 93v5M1258 887v2M1292 78v5M1292 855v4M1292 904v8M1326 68v10M1360 835v4M1360 875v4M1360 904v12M1394 896v8M1428 63v5M1428 900v4M1428 920v4M1462 896v4M1462 912v4M1496 68v5M1496 78v5M1496 871v4M1530 867v4M1564 83v5M1564 859v4M1598 867v4M1598 887v2M1632 859v4"/>
<path stroke="#00ff82" d="M34 78v5M0 78v5M34 924v4M0 924v4M68 883v4M136 38v5M136 968v4M170 964v4M170 972v4M204 12v6M204 1021v10M238 12v11M238 1026v10M272 1001v5M306 73v10M306 831v4M306 847v4M306 887v2M340 73v5M340 863v4M340 879v8M340 896v4M374 867v4M374 883v6M374 924v4M408 73v10M408 871v4M442 835v4M442 879v4M442 887v2M476 78v5M476 863v4M476 883v4M510 73v5M510 871v4M510 879v4M510 900v4M510 912v8M544 78v5M544 847v4M544 879v10M544 912v4M578 871v4M578 924v4M612 78v5M646 851v4M646 896v8M680 73v5M680 851v4M714 78v10M714 904v4M714 920v4M748 847v4M748 863v4M748 883v4M782 843v4M816 835v4M850 855v4M850 879v4M850 900v4M884 867v4M884 900v4M884 908v4M884 916v4M918 73v10M918 883v4M918 896v4M952 887v2M952 900v4M986 863v4M986 879v4M1020 73v10M1020 859v4M1020 879v4M1088 73v5M1088 88v5M1088 867v4M1088 875v4M1088 900v4M1088 908v8M1122 68v5M1122 863v8M1122 896v4M1156 78v5M1156 879v4M1190 68v5M1190 859v4M1190 883v4M1190 896v4M1224 78v5M1258 863v4M1292 896v4M1326 78v5M1326 883v4M1360 83v5M1394 855v8M1394 875v4M1428 78v5M1428 863v4M1428 883v4M1462 73v5M1462 871v4M1462 883v4M1496 879v4M1530 896v4M1564 887v2M1564 900v4M1598 93v5M1598 896v4M1632 88v5M1632 847v4"/>
<path stroke="#00ff65" d="M34 93v5M0 93v5M34 831v4M0 831v4M34 843v4M0 843v4M34 896v8M0 896v8M34 912v4M0 912v4M68 78v5M68 859v4M68 887v2M102 73v5M102 867v4M102 896v4M136 43v5M170 33v15M170 960v4M204 1016v5M272 18v5M272 992v9M306 867v4M340 78v5M374 847v8M374 859v4M374 875v4M408 88v5M408 843v4M408 855v4M408 879v4M442 88v5M442 863v4M476 843v4M476 859v4M476 867v4M510 83v10M510 887v2M544 867v4M544 875v4M578 78v5M578 855v4M578 863v4M578 875v8M612 831v4M612 855v8M612 871v4M612 879v4M646 88v5M646 827v4M646 879v8M646 908v4M680 78v10M714 88v5M714 839v4M714 875v8M714 900v4M748 78v10M748 855v4M782 83v5M782 839v4M782 863v4M782 871v4M782 887v2M782 896v4M816 847v4M816 855v4M816 871v4M850 78v5M850 831v4M850 851v4M850 863v4M850 875v4M884 859v4M918 847v4M952 78v5M952 879v8M986 859v4M986 871v4M986 900v4M986 908v4M1020 831v4M1020 855v4M1020 875v4M1020 896v4M1054 98v5M1088 83v5M1088 93v5M1088 855v4M1088 863v4M1088 879v4M1122 839v4M1122 879v8M1122 916v4M1156 843v4M1156 863v4M1156 875v4M1156 883v4M1224 855v4M1224 871v4M1258 73v10M1258 851v4M1258 867v8M1292 835v4M1292 843v4M1326 867v8M1326 904v4M1360 839v4M1360 867v8M1394 78v5M1394 863v8M1394 879v8M1428 88v5M1428 871v12M1428 896v4M1462 78v5M1462 851v4M1496 83v5M1496 93v5M1496 815v4M1496 883v4M1530 78v5M1530 847v4M1530 855v12M1530 904v4M1564 863v4M1598 78v5M1598 88v5M1598 835v4M1598 847v4M1598 855v8M1598 879v4M1632 78v5M1632 879v4"/>
<path stroke="#00ff41" d="M34 83v5M0 83v5M34 859v4M0 859v4M34 867v4M0 867v4M34 883v4M0 883v4M68 83v5M68 855v4M68 863v4M102 83v5M102 875v4M136 944v4M136 952v8M136 964v4M170 956v4M170 968v4M204 18v5M204 996v10M238 1016v10M272 23v5M272 976v4M306 835v8M306 871v16M340 83v10M340 839v4M340 859v4M340 875v4M374 93v5M374 871v4M408 93v5M408 859v8M408 883v6M408 900v4M442 78v5M442 896v4M476 887v2M510 93v5M510 831v4M510 843v4M510 859v4M544 831v8M544 871v4M578 83v5M612 843v4M612 851v4M612 863v4M612 883v4M646 835v4M646 843v4M646 855v4M680 871v4M680 883v4M714 843v4M714 859v4M714 883v4M748 887v2M782 93v5M782 859v4M816 83v5M816 839v8M816 879v4M816 887v2M850 867v8M884 78v5M884 839v4M884 855v4M884 875v4M918 83v10M918 859v4M918 879v4M952 93v5M952 827v4M952 839v8M952 875v4M986 88v5M986 887v2M1020 83v5M1020 93v5M1020 863v4M1020 887v2M1054 78v5M1054 88v5M1054 843v4M1054 851v4M1054 900v4M1088 78v5M1088 831v4M1088 887v2M1122 83v5M1156 855v4M1156 867v4M1156 887v2M1190 83v5M1190 93v5M1190 843v8M1190 863v4M1190 875v8M1224 83v5M1224 859v4M1224 867v4M1224 875v12M1224 896v4M1258 831v4M1258 855v4M1292 83v5M1292 811v4M1292 839v4M1292 851v4M1292 863v4M1326 839v4M1326 863v4M1326 875v8M1360 78v5M1360 879v10M1394 83v5M1394 871v4M1428 847v4M1428 859v4M1428 887v2M1462 847v4M1462 863v4M1462 875v4M1462 887v2M1496 827v4M1496 847v4M1496 855v4M1496 875v4M1496 887v2M1530 875v12M1564 847v12M1564 879v4M1598 83v5M1598 839v8M1598 851v4M1598 871v4M1632 83v5M1632 823v4M1632 843v4M1632 855v4M1632 887v2"/>
<path stroke="#00ff16" d="M34 98v5M0 98v5M34 851v4M0 851v4M34 879v4M0 879v4M68 851v4M68 867v12M102 78v5M102 93v5M102 855v4M102 863v4M102 883v4M136 48v5M136 936v4M136 948v4M170 948v4M204 23v5M204 960v4M204 976v4M204 992v4M204 1006v5M272 960v4M272 980v4M272 988v4M306 93v5M306 103v5M340 843v4M340 871v4M374 78v15M374 863v4M374 879v4M408 83v5M408 819v8M408 867v4M442 83v5M442 815v4M442 823v4M442 831v4M442 847v4M442 859v4M442 871v4M476 83v5M476 93v5M476 875v4M510 875v4M544 83v5M544 819v4M578 98v5M578 827v4M578 843v4M578 859v4M578 883v4M612 88v5M646 83v5M646 847v4M646 863v4M646 871v4M680 88v5M680 98v5M680 827v4M680 839v4M680 855v4M714 867v4M714 887v2M748 93v5M748 835v4M748 871v4M782 835v4M782 847v4M782 855v4M816 88v5M816 98v5M816 863v4M850 83v10M850 847v4M850 859v4M884 83v15M884 831v4M884 887v2M918 839v4M918 851v4M918 863v4M952 88v5M952 863v8M986 78v10M986 93v5M986 823v4M986 843v4M986 851v4M986 867v4M986 875v4M1020 88v5M1020 819v4M1020 843v8M1020 871v4M1020 883v4M1054 83v5M1054 835v4M1054 847v4M1054 855v8M1054 883v6M1088 843v12M1122 88v10M1122 859v4M1156 83v5M1190 88v5M1190 851v8M1190 871v4M1190 900v4M1224 831v4M1224 843v4M1224 863v4M1258 88v10M1258 835v4M1258 859v4M1258 883v4M1292 103v5M1292 883v6M1326 83v5M1326 93v5M1360 815v4M1394 88v5M1394 815v4M1394 827v4M1394 843v4M1428 83v5M1462 83v5M1462 98v5M1496 88v5M1496 98v5M1496 819v4M1496 843v4M1496 867v4M1530 98v5M1564 88v5M1564 98v5M1564 827v8M1598 863v4M1632 93v5M1632 811v4M1632 867v4"/>
<path stroke="#18ff00" d="M34 839v4M0 839v4M34 863v4M0 863v4M34 871v8M0 871v8M34 887v2M0 887v2M68 88v10M68 827v4M68 835v4M68 847v4M102 839v4M102 859v4M136 53v5M136 908v4M136 916v4M136 924v12M136 940v4M170 48v5M170 916v4M170 932v4M170 940v8M170 952v4M204 28v5M204 964v12M204 980v12M204 1011v5M238 23v5M238 992v4M238 1001v5M238 1011v5M272 984v4M306 83v5M306 859v8M340 847v4M374 843v4M374 855v4M408 98v5M408 851v4M408 875v4M442 875v4M476 88v5M476 835v8M476 851v4M510 835v4M510 847v4M510 855v4M544 88v10M544 855v4M578 88v10M578 103v5M578 835v4M578 847v4M578 867v4M612 83v5M612 93v5M612 103v5M612 835v4M612 867v4M612 887v2M646 98v5M646 819v4M646 859v4M680 103v5M680 823v4M680 843v4M680 859v8M680 879v4M714 819v4M714 835v4M714 847v8M714 863v4M714 912v4M748 88v5M748 851v4M748 859v4M748 867v4M748 879v4M782 851v4M782 867v4M782 879v4M816 93v5M816 831v4M816 851v4M850 93v10M850 843v4M850 912v4M884 98v10M884 823v4M884 843v4M918 93v5M918 103v5M918 819v4M918 867v4M952 851v4M952 859v4M952 871v4M986 835v4M986 847v4M986 855v4M1020 827v4M1020 835v4M1020 867v4M1054 831v4M1054 871v8M1088 883v4M1122 118v5M1122 831v8M1122 843v4M1122 855v4M1156 93v5M1156 831v4M1156 839v4M1156 847v4M1156 871v4M1190 839v4M1190 867v4M1224 88v5M1224 887v2M1258 83v5M1258 98v5M1258 811v4M1258 839v4M1258 847v4M1292 88v5M1292 847v4M1292 867v4M1326 843v4M1326 859v4M1360 88v5M1360 113v5M1360 819v4M1360 859v4M1394 847v4M1428 835v4M1462 88v10M1462 819v8M1462 843v4M1462 855v4M1496 103v5M1496 839v4M1496 851v4M1496 859v8M1530 88v5M1530 839v4M1530 851v4M1564 93v5M1564 123v5M1564 811v4M1564 835v4M1564 867v4M1564 883v4M1598 875v4M1632 98v10M1632 839v4"/>
<path stroke="#32ff00" d="M34 815v4M0 815v4M34 823v4M0 823v4M102 88v5M102 98v5M102 823v4M102 831v4M136 58v5M136 896v4M170 53v5M170 63v5M170 912v4M170 936v4M204 944v16M238 28v10M238 976v4M238 988v4M238 1006v5M272 28v5M272 972v4M306 851v8M340 93v10M374 108v5M374 815v8M374 827v8M374 839v4M408 103v5M408 827v4M408 835v8M442 103v5M442 128v5M442 843v4M442 855v4M442 889v2M476 103v5M476 827v8M476 879v4M510 98v5M510 815v4M510 823v4M510 839v4M544 98v10M544 123v5M544 839v8M544 863v4M578 819v4M578 851v4M612 98v5M612 827v4M612 839v4M646 93v5M646 103v5M646 823v4M646 839v4M680 847v4M680 867v4M714 98v10M714 827v4M714 855v4M714 871v4M748 819v4M748 831v4M748 875v4M782 113v5M782 811v4M782 827v4M816 103v5M816 819v4M816 875v4M850 835v8M850 883v4M884 835v4M918 98v5M918 831v4M918 855v4M918 871v8M952 83v5M952 113v5M952 831v4M986 98v5M1020 103v10M1020 823v4M1020 889v2M1054 839v4M1054 863v4M1088 98v5M1088 827v4M1088 835v8M1122 847v4M1156 98v5M1156 807v4M1156 851v4M1190 103v5M1190 835v4M1224 98v5M1224 823v4M1224 847v4M1258 103v5M1258 819v4M1258 827v4M1258 843v4M1258 879v4M1292 93v5M1292 859v4M1326 88v5M1326 103v5M1326 819v8M1326 847v4M1326 855v4M1326 887v2M1360 103v5M1360 847v4M1360 855v4M1360 863v4M1394 98v5M1394 819v4M1394 831v4M1394 839v4M1428 823v4M1428 855v4M1428 867v4M1462 839v4M1462 867v4M1462 879v4M1496 108v5M1496 811v4M1496 823v4M1530 83v5M1530 93v5M1530 113v5M1530 835v4M1530 843v4M1530 887v2M1564 108v5M1564 815v12M1564 839v4M1564 889v2M1598 98v5M1598 118v5M1598 823v8M1632 827v12M1632 851v4M1632 863v4"/>
<path stroke="#4cff00" d="M34 88v5M0 88v5M34 118v10M0 118v10M34 835v4M0 835v4M34 847v4M0 847v4M68 98v15M68 823v4M68 831v4M68 843v4M68 879v4M102 843v4M136 63v15M136 904v4M136 912v4M136 920v4M170 58v5M170 896v4M170 904v4M170 924v8M204 33v5M204 936v8M238 38v5M238 972v4M238 984v4M238 996v5M272 944v4M272 964v8M306 88v5M306 819v4M306 827v4M340 831v8M374 823v4M408 113v5M408 807v4M408 831v4M442 98v5M442 807v4M442 819v4M442 839v4M476 98v5M476 108v5M476 819v4M510 827v4M544 133v5M544 815v4M578 118v5M612 113v5M612 811v4M612 823v4M612 847v4M612 889v2M646 108v5M646 133v5M680 811v4M680 831v8M714 93v5M714 823v4M714 889v2M748 98v5M748 823v8M782 103v10M782 807v4M782 815v4M782 831v4M850 103v5M850 113v5M850 823v8M884 108v5M884 138v5M884 819v4M884 863v4M918 843v4M952 118v5M952 823v4M952 835v4M952 847v4M952 855v4M986 108v5M986 118v5M986 811v4M986 827v4M986 839v4M1020 839v4M1020 851v4M1054 827v4M1054 867v4M1054 889v2M1088 859v4M1156 88v5M1156 819v4M1156 859v4M1190 108v5M1190 803v4M1190 815v12M1190 831v4M1224 839v4M1224 851v4M1258 799v4M1258 807v4M1292 823v12M1292 871v4M1326 98v5M1326 108v5M1326 827v12M1326 851v4M1326 889v2M1360 93v10M1360 108v5M1360 823v4M1360 831v4M1394 93v5M1394 113v5M1394 823v4M1394 851v4M1428 93v10M1428 108v10M1428 138v5M1428 831v4M1428 839v8M1428 851v4M1428 889v2M1462 103v5M1462 811v8M1462 831v8M1496 148v5M1496 831v4M1530 811v4M1530 823v4M1530 831v4M1564 103v5M1564 843v4M1598 831v4M1632 807v4M1632 815v8M1632 875v4"/>
<path stroke="#67ff00" d="M34 103v5M0 103v5M34 819v4M0 819v4M34 827v4M0 827v4M68 807v4M102 815v4M102 871v4M136 78v10M136 900v4M170 68v5M170 900v4M170 908v4M170 920v4M204 38v5M204 908v4M204 928v8M238 968v4M272 948v4M272 956v4M306 113v5M306 803v4M306 823v4M306 843v4M306 889v2M340 113v5M340 803v4M340 815v4M340 823v8M340 855v4M340 889v2M374 98v10M442 93v5M476 128v5M476 811v4M476 823v4M510 108v10M510 133v5M510 143v5M510 851v4M510 863v4M544 807v8M578 113v5M578 799v4M578 823v4M578 839v4M578 889v2M612 815v4M646 113v10M646 811v8M646 889v2M680 113v5M680 807v4M714 815v4M714 831v4M748 103v10M748 811v4M748 843v4M748 889v2M782 128v5M782 785v3M782 823v4M782 889v2M816 795v4M816 823v8M816 889v2M850 108v5M850 815v4M850 889v2M884 803v8M884 815v4M884 889v2M918 113v5M918 807v8M918 827v4M952 98v15M952 123v5M986 103v5M986 831v4M1020 98v5M1020 113v5M1020 128v5M1020 782v3M1054 93v5M1054 108v5M1054 148v5M1088 113v5M1088 889v2M1122 98v5M1122 811v4M1122 819v8M1122 889v2M1156 108v5M1156 811v4M1190 98v5M1224 108v5M1224 118v5M1224 815v4M1224 889v2M1258 118v10M1258 133v5M1258 823v4M1292 118v5M1292 815v4M1326 118v5M1326 811v4M1360 118v5M1360 133v5M1360 827v4M1360 843v4M1394 889v2M1428 819v4M1462 795v8M1462 859v4M1462 889v2M1496 123v5M1496 799v4M1496 807v4M1496 889v2M1530 103v5M1530 133v5M1530 815v4M1530 827v4M1564 128v5M1564 803v4M1564 875v4M1598 103v5M1598 811v4M1632 128v5"/>
<path stroke="#81ff00" d="M34 807v8M0 807v8M34 889v2M0 889v2M68 819v4M68 839v4M102 103v5M102 113v5M102 128v5M102 819v4M102 835v4M136 88v5M136 98v5M170 73v15M170 887v2M204 920v8M272 33v5M272 940v4M272 952v4M306 98v5M306 133v5M306 811v4M340 103v10M340 118v5M340 148v5M340 791v4M340 819v4M374 807v8M374 835v4M374 889v2M408 108v5M408 123v5M408 785v3M408 791v4M408 803v4M408 811v8M442 108v5M442 811v4M442 827v4M442 851v4M476 113v15M476 807v4M476 847v4M476 889v2M510 103v5M510 819v4M544 113v5M544 791v4M578 128v10M578 811v4M578 831v4M612 123v5M612 807v4M646 128v5M646 158v5M646 803v4M646 831v4M680 108v5M680 118v5M680 153v5M680 815v4M714 118v10M714 811v4M748 123v5M782 98v5M782 118v10M782 799v4M816 108v20M816 776v3M816 807v8M816 859v4M850 807v4M884 827v4M884 847v8M918 133v5M918 815v4M918 835v4M952 803v4M986 128v5M986 803v4M986 819v4M986 889v2M1020 118v5M1020 133v5M1020 803v4M1020 815v4M1054 103v5M1054 113v5M1054 133v5M1054 158v5M1054 807v20M1088 103v5M1088 148v5M1088 811v4M1088 819v4M1122 103v5M1122 163v5M1122 785v3M1122 799v4M1122 851v4M1156 103v5M1156 823v4M1190 128v5M1190 811v4M1190 827v4M1224 103v5M1224 807v8M1224 827v4M1224 835v4M1258 108v10M1258 128v5M1258 143v5M1292 98v5M1292 108v5M1292 153v5M1292 791v4M1292 803v4M1292 889v2M1326 113v5M1326 123v10M1326 788v3M1360 128v5M1394 118v5M1394 811v4M1394 835v4M1428 103v5M1428 133v5M1428 807v4M1428 815v4M1428 827v4M1462 827v4M1496 113v5M1496 133v5M1496 153v5M1496 163v5M1496 770v3M1496 788v3M1496 835v4M1530 118v5M1530 153v10M1530 803v4M1530 889v2M1564 133v5M1564 163v5M1598 108v5M1598 788v7M1598 807v4M1598 815v8M1632 113v5M1632 889v2"/>
<path stroke="#9bff00" d="M34 803v4M0 803v4M68 113v5M68 143v5M68 799v4M68 811v8M102 118v5M102 153v5M102 847v4M102 889v2M136 93v5M136 883v4M204 48v5M238 43v5M238 952v16M238 980v4M272 936v4M306 108v5M306 118v15M340 128v5M340 811v4M374 113v5M374 123v5M374 803v4M408 128v5M408 158v5M408 788v3M408 889v2M442 113v5M442 148v5M510 118v5M510 811v4M510 889v2M544 108v5M544 177v4M544 803v4M544 823v4M544 889v2M578 108v5M578 143v5M612 108v5M612 128v5M612 791v4M646 123v5M646 776v3M646 785v3M680 93v5M680 889v2M714 108v10M714 795v4M714 803v4M748 118v5M748 133v5M748 803v4M748 815v4M748 839v4M782 143v5M782 788v3M782 819v4M816 148v5M816 815v4M850 123v5M850 803v4M884 113v5M884 128v5M884 148v5M884 158v5M918 108v5M918 118v5M918 128v5M918 795v4M918 803v4M918 823v4M952 795v4M952 815v8M986 143v5M986 807v4M1020 148v10M1054 118v10M1054 795v4M1054 803v4M1088 108v5M1088 123v5M1088 799v4M1088 815v4M1088 823v4M1122 113v5M1122 123v5M1122 133v5M1122 782v3M1122 807v4M1122 827v4M1156 118v5M1156 133v5M1156 782v3M1156 815v4M1156 835v4M1190 113v5M1190 889v2M1224 799v4M1224 819v4M1258 138v5M1258 815v4M1258 889v2M1292 113v5M1292 773v3M1292 807v4M1292 819v4M1326 163v5M1360 143v5M1360 803v4M1360 851v4M1360 889v2M1394 103v10M1394 128v5M1428 193v4M1428 803v4M1462 108v5M1462 128v5M1462 158v5M1496 118v5M1496 143v5M1496 795v4M1530 108v5M1530 123v5M1530 799v4M1530 807v4M1530 819v4M1564 113v5M1564 138v5M1564 795v4M1598 123v10M1598 143v5M1598 803v4M1598 889v2M1632 108v5M1632 123v5M1632 148v5M1632 779v3M1632 791v4M1632 799v4"/>
<path stroke="#b6ff00" d="M34 108v10M0 108v10M34 133v10M0 133v10M34 791v4M0 791v4M68 128v5M68 138v5M68 168v5M68 803v4M102 108v5M102 123v5M102 138v5M102 148v5M102 791v4M102 799v8M136 103v5M136 113v5M136 138v5M136 875v4M136 887v2M170 875v8M204 43v5M204 900v8M238 932v4M306 138v5M306 799v4M306 815v4M340 782v3M340 799v4M374 133v10M374 791v4M408 143v15M408 779v3M442 118v5M442 143v5M442 770v3M442 791v4M442 803v4M476 153v5M476 788v3M476 815v4M510 123v10M510 138v5M510 773v3M510 795v4M544 118v5M544 143v5M544 785v3M578 148v5M578 785v3M578 795v4M578 807v4M578 815v4M612 143v5M612 819v4M646 143v5M646 193v4M646 779v6M646 788v3M646 807v4M680 123v10M680 163v5M680 791v8M714 807v4M748 138v5M748 158v5M748 779v3M748 791v4M748 807v4M782 767v3M782 795v4M782 803v4M816 128v5M816 138v10M816 158v10M816 177v4M816 779v3M816 788v3M816 799v8M850 118v5M850 133v5M850 799v4M850 819v4M884 811v4M918 889v2M952 138v5M952 163v5M952 764v3M952 811v4M952 889v2M986 113v5M986 148v5M986 799v4M986 815v4M1020 123v5M1020 168v5M1020 807v8M1020 895v1M1054 128v5M1054 138v5M1054 785v3M1088 133v5M1088 143v5M1088 770v3M1088 791v4M1122 108v5M1122 138v5M1122 153v5M1156 113v5M1156 128v5M1156 138v5M1156 889v2M1190 123v5M1190 163v5M1190 185v4M1224 113v5M1224 133v5M1224 153v5M1224 795v4M1258 153v5M1258 803v4M1292 123v5M1292 133v5M1292 168v5M1292 788v3M1326 133v10M1326 803v8M1326 815v4M1360 138v5M1360 153v5M1360 770v3M1360 788v3M1360 795v4M1394 138v5M1394 153v5M1394 799v12M1428 118v10M1428 799v4M1462 113v15M1462 138v5M1462 153v5M1462 770v3M1462 788v3M1462 803v4M1496 138v5M1496 213v4M1496 785v3M1496 803v4M1530 181v4M1530 785v3M1530 791v4M1564 118v5M1564 185v4M1564 197v4M1564 752v3M1564 773v3M1564 788v3M1564 799v4M1564 807v4M1598 138v5M1598 158v10M1598 785v3M1632 118v5M1632 143v5M1632 163v5M1632 764v3M1632 788v3M1632 795v4"/>
<path stroke="#deff00" d="M34 128v5M0 128v5M34 788v3M0 788v3M34 795v4M0 795v4M34 895v1M0 895v1M68 118v10M68 153v5M68 776v6M68 795v4M68 889v6M102 133v5M102 782v3M102 807v8M102 827v4M136 108v5M136 163v5M136 871v4M170 88v15M170 108v5M170 839v4M170 855v4M170 867v4M170 883v4M204 896v4M204 912v8M238 48v5M238 63v5M238 940v12M272 928v4M306 168v5M306 779v3M306 791v4M306 807v4M340 123v5M340 133v5M340 143v5M340 795v4M340 807v4M374 128v5M374 761v3M374 795v8M408 118v5M408 133v10M408 761v3M408 773v3M408 895v1M442 197v4M442 776v3M442 785v3M442 799v4M476 133v5M476 143v5M476 799v4M476 891v4M510 153v5M510 785v3M510 807v4M544 128v5M544 138v5M544 153v5M544 779v3M544 788v3M544 799v4M578 158v5M578 213v4M578 770v3M578 782v3M578 791v4M612 118v5M612 138v5M612 148v5M612 173v4M612 785v6M612 795v12M646 138v5M646 168v5M646 185v4M646 752v3M646 767v3M646 773v3M680 767v6M680 803v4M680 819v4M714 133v5M714 148v15M714 767v3M714 791v4M748 113v5M748 128v5M748 788v3M748 799v4M782 138v5M782 153v5M782 737v3M782 764v3M782 773v6M816 782v3M850 128v5M850 776v3M850 788v3M850 895v1M884 118v5M884 133v5M884 143v5M884 163v10M884 773v3M884 891v4M918 123v5M918 173v4M918 782v3M918 799v4M918 895v1M952 133v5M952 153v5M952 177v4M952 788v7M952 799v4M952 807v4M952 895v1M986 791v4M1020 138v5M1020 173v4M1020 181v4M1020 189v4M1020 767v3M1020 773v6M1020 795v4M1054 163v5M1054 181v4M1054 225v4M1054 746v3M1054 782v3M1054 799v4M1088 118v5M1088 128v5M1088 197v4M1088 767v3M1088 776v3M1088 785v3M1088 803v8M1088 891v5M1122 128v5M1122 158v5M1122 173v4M1122 773v3M1122 788v11M1122 803v4M1122 815v4M1156 123v5M1156 795v4M1156 803v4M1156 827v4M1190 118v5M1190 133v5M1190 153v5M1190 791v4M1190 799v4M1190 807v4M1224 128v5M1224 177v4M1224 782v6M1224 791v4M1224 803v4M1258 158v5M1258 779v3M1258 791v8M1292 148v5M1292 795v8M1326 158v5M1360 123v5M1360 168v5M1360 773v3M1360 791v4M1360 799v4M1360 811v4M1394 123v5M1394 143v5M1394 779v3M1394 791v8M1394 891v4M1428 128v5M1428 779v3M1428 791v4M1428 811v4M1462 133v5M1462 148v5M1462 782v6M1462 895v1M1496 173v4M1496 189v12M1496 776v3M1496 791v4M1530 128v5M1530 143v10M1530 163v5M1530 193v4M1530 795v4M1564 153v5M1564 168v9M1564 189v4M1564 217v4M1564 225v4M1564 782v3M1564 791v4M1598 113v5M1598 148v5M1598 233v4M1598 731v3M1598 773v3M1598 782v3M1598 799v4M1632 133v5M1632 158v5M1632 177v4M1632 193v4M1632 758v3M1632 776v3M1632 782v3M1632 803v4"/>
<path stroke="#f5ff00" d="M34 767v3M0 767v3M68 133v5M68 163v5M68 764v3M68 773v3M68 785v3M68 791v4M68 895v1M102 891v5M136 118v5M136 128v5M136 148v5M136 185v4M136 831v4M136 855v8M136 867v4M136 879v4M170 103v5M170 113v10M170 819v4M170 871v4M204 53v5M204 88v5M204 118v5M238 53v5M238 68v5M238 78v5M238 924v4M272 38v5M272 53v5M272 920v8M272 932v4M306 153v15M306 773v3M306 782v3M306 788v3M306 795v4M306 891v4M340 138v5M340 153v5M340 168v5M340 764v3M340 773v3M340 891v5M374 118v5M374 153v10M374 181v8M374 749v3M374 767v3M374 788v3M374 891v4M408 205v8M408 782v3M408 795v8M442 123v5M442 133v5M442 168v5M442 758v3M442 891v4M476 138v5M476 148v5M476 746v3M476 767v3M476 785v3M476 803v4M510 148v5M510 158v5M510 761v3M510 767v3M510 779v6M510 891v4M544 148v5M544 158v5M544 173v4M544 181v4M544 189v4M544 746v3M544 782v3M544 795v4M544 827v4M544 891v5M578 123v5M578 138v5M578 185v4M578 205v4M578 779v3M578 803v4M578 891v5M612 168v5M612 177v4M612 761v3M612 767v3M612 776v3M646 153v5M646 205v4M646 233v4M646 749v3M646 764v3M646 791v4M646 799v4M646 891v4M680 133v10M680 148v5M680 177v4M680 782v3M680 788v3M680 799v4M680 895v1M714 128v5M714 143v5M714 181v4M714 761v3M714 891v5M748 143v10M748 185v4M748 201v4M748 776v3M748 782v3M748 795v4M748 891v5M782 133v5M782 158v10M782 177v4M782 185v4M782 197v8M782 217v4M782 752v3M782 779v3M782 895v1M816 133v5M816 153v5M816 173v4M816 181v4M816 193v8M816 764v3M816 895v1M850 138v10M850 177v4M850 785v3M850 891v4M884 123v5M884 181v4M884 788v3M884 795v4M884 895v1M918 148v5M918 163v5M918 755v3M918 791v4M952 776v3M952 785v3M952 891v4M986 138v5M986 177v4M986 779v3M986 895v1M1020 143v5M1020 158v10M1020 779v3M1020 791v4M1054 177v4M1054 197v4M1054 776v3M1054 788v7M1054 895v1M1088 153v5M1088 168v5M1088 177v4M1088 782v3M1088 795v4M1122 148v5M1122 181v4M1122 764v3M1122 891v4M1156 143v5M1156 158v5M1156 168v9M1156 181v4M1156 779v3M1190 143v5M1190 158v5M1190 168v9M1190 189v4M1224 158v5M1224 213v4M1224 779v3M1224 788v3M1224 895v1M1258 163v5M1258 752v3M1258 773v3M1258 788v3M1258 891v4M1292 177v4M1292 201v4M1292 761v3M1292 770v3M1292 782v3M1326 185v4M1326 193v4M1326 755v3M1326 782v3M1326 895v1M1360 148v5M1360 163v5M1360 173v12M1360 189v4M1360 205v4M1360 740v3M1360 761v3M1360 785v3M1394 163v5M1394 181v4M1394 734v3M1394 761v3M1394 770v3M1394 782v3M1394 895v1M1428 153v5M1428 181v4M1428 788v3M1462 168v9M1462 758v3M1462 776v6M1462 807v4M1496 177v4M1496 185v4M1496 205v4M1496 217v4M1496 245v4M1496 728v6M1496 755v3M1496 764v6M1496 779v3M1496 891v4M1530 138v5M1530 213v4M1530 782v3M1530 895v1M1564 158v5M1564 177v4M1564 755v3M1564 779v3M1564 785v3M1598 133v5M1598 153v5M1598 177v4M1598 185v4M1598 229v4M1598 746v3M1598 776v6M1598 891v5M1632 138v5M1632 168v5M1632 217v4M1632 785v3M1632 895v1"/>
<path stroke="#fafe00" d="M34 153v5M0 153v5M34 185v4M0 185v4M34 201v4M0 201v4M34 785v3M0 785v3M34 799v4M0 799v4M34 891v4M0 891v4M68 148v5M68 173v4M68 185v4M68 788v3M102 143v5M102 158v5M102 168v5M102 189v4M102 770v3M102 788v3M102 795v4M136 123v5M136 143v5M136 823v8M136 835v8M136 851v4M136 863v4M170 133v5M170 799v4M170 823v4M170 831v4M170 843v8M170 859v8M170 889v2M204 58v30M204 93v10M204 143v5M204 867v4M238 58v5M238 912v8M238 936v4M272 912v8M306 185v8M306 785v3M306 895v1M340 158v10M340 181v8M340 193v8M340 221v4M340 785v3M374 143v5M374 168v5M374 205v4M374 770v3M408 213v4M408 734v3M408 743v6M408 770v3M408 891v4M442 153v10M442 173v4M442 221v4M442 734v3M442 761v3M442 795v4M442 895v1M476 158v5M476 173v4M476 233v4M476 761v6M476 791v8M476 895v1M510 185v4M510 197v4M510 764v3M510 788v3M510 799v8M510 895v1M544 163v10M544 201v4M544 225v4M544 265v4M544 749v9M544 767v6M578 168v5M578 177v4M578 189v8M578 209v4M578 788v3M612 133v5M612 153v5M612 181v4M612 189v4M612 197v8M612 221v4M612 277v4M612 746v3M612 782v3M612 891v5M646 173v4M646 189v4M646 221v12M646 257v4M646 731v3M646 758v3M646 770v3M646 895v1M680 189v4M680 201v4M680 249v4M680 743v3M680 773v3M680 891v4M714 163v5M714 189v4M714 197v4M714 749v3M714 773v3M714 782v3M714 788v3M748 163v5M748 173v4M748 764v3M748 770v6M748 785v3M782 148v5M782 173v4M782 189v4M782 205v8M782 749v3M782 761v3M782 770v3M782 782v3M782 791v4M782 891v4M816 189v4M816 233v4M816 758v3M816 767v9M816 785v3M850 148v10M850 163v14M850 193v4M850 205v4M850 225v8M850 737v3M850 764v6M850 773v3M850 779v3M850 791v8M850 811v4M884 153v5M884 193v4M884 245v4M884 767v3M884 776v3M884 785v3M884 799v4M918 138v10M918 185v4M918 193v4M918 221v4M918 773v3M952 128v5M952 185v4M952 767v3M952 773v3M952 779v3M986 153v15M986 193v4M986 767v6M986 785v3M986 795v4M986 891v4M1020 201v8M1020 213v4M1020 746v6M1020 758v3M1020 770v3M1020 785v6M1020 799v4M1020 891v4M1054 173v4M1054 193v4M1054 758v3M1054 764v3M1054 770v3M1054 779v3M1088 158v10M1088 173v4M1088 181v4M1088 209v4M1088 761v6M1088 779v3M1088 788v3M1122 143v5M1122 168v5M1122 185v8M1122 197v8M1122 767v3M1122 776v3M1122 895v1M1156 197v4M1156 749v3M1156 764v3M1156 776v3M1156 785v3M1156 891v4M1190 138v5M1190 148v5M1190 193v4M1190 749v3M1190 761v3M1190 776v6M1190 785v3M1190 895v1M1224 123v5M1224 201v4M1258 148v5M1258 168v5M1258 185v4M1258 197v4M1258 205v4M1258 245v4M1258 755v3M1258 764v3M1258 782v6M1258 895v1M1292 128v5M1292 138v10M1292 173v4M1292 193v4M1292 237v4M1292 752v3M1292 758v3M1292 764v6M1292 785v3M1292 891v5M1326 148v10M1326 173v4M1326 197v4M1326 764v3M1326 795v8M1326 891v4M1360 197v4M1360 209v4M1360 221v4M1360 749v3M1360 764v3M1360 782v3M1360 807v4M1360 891v5M1394 133v5M1394 158v5M1428 158v5M1428 173v8M1428 205v4M1428 773v6M1428 785v3M1428 795v4M1428 891v5M1462 143v5M1462 189v4M1462 197v4M1462 755v3M1462 773v3M1462 791v4M1496 128v5M1496 158v5M1496 229v4M1496 253v4M1496 361v8M1496 734v3M1496 740v3M1496 761v3M1496 895v1M1530 201v4M1530 217v4M1530 743v3M1530 891v4M1564 143v10M1564 181v4M1564 201v4M1564 221v4M1564 293v4M1564 731v3M1564 758v6M1564 767v3M1564 891v5M1598 168v5M1598 189v4M1598 245v4M1598 743v3M1598 752v3M1598 761v3M1598 767v6M1598 795v4M1632 153v5M1632 173v4M1632 181v4M1632 249v4M1632 257v4M1632 265v4M1632 731v6M1632 755v3M1632 770v3M1632 891v4"/>
<path stroke="#fdf700" d="M34 143v5M0 143v5M34 158v5M0 158v5M34 213v4M0 213v4M34 758v3M0 758v3M34 770v3M0 770v3M34 779v3M0 779v3M68 181v4M68 189v4M68 758v3M102 163v5M102 177v8M102 193v4M102 767v3M102 773v3M102 779v3M102 785v3M136 168v5M136 177v4M136 221v4M136 799v4M136 843v8M136 889v2M170 123v5M170 163v5M170 173v4M170 201v4M170 788v7M170 803v16M170 835v4M170 851v4M204 108v10M204 123v20M204 855v4M204 887v2M238 108v5M238 908v4M238 928v4M272 48v5M272 58v5M272 908v4M306 143v10M306 181v4M306 201v4M306 209v4M306 217v4M306 743v3M306 749v3M306 761v3M306 770v3M306 776v3M340 177v4M340 237v4M340 740v3M340 746v3M340 761v3M340 767v6M340 788v3M374 163v5M374 189v4M374 764v3M374 773v3M374 779v9M374 895v1M408 163v5M408 177v8M408 193v4M408 261v4M408 719v3M408 752v3M442 138v5M442 163v5M442 177v4M442 193v4M442 213v4M442 773v3M442 788v3M476 163v10M476 177v8M476 197v4M476 225v4M476 755v3M476 773v12M510 173v12M510 189v4M510 201v4M510 217v4M510 229v4M510 728v3M510 746v6M510 755v6M510 770v3M510 791v4M544 197v4M544 229v4M544 253v4M544 761v6M544 773v6M578 153v5M578 181v4M578 197v4M578 257v4M578 731v3M578 737v3M578 743v3M578 749v3M578 755v6M612 163v5M612 185v4M612 749v3M612 755v6M612 764v3M646 148v5M646 163v5M646 181v4M646 197v8M646 755v3M646 795v4M680 143v5M680 173v4M680 181v4M680 197v4M680 205v4M680 237v4M680 746v3M680 764v3M680 776v6M680 785v3M714 138v5M714 168v5M714 177v4M714 185v4M714 201v12M714 225v4M714 740v3M714 770v3M748 177v4M748 197v4M748 205v4M748 225v4M748 761v3M782 168v5M782 181v4M782 229v4M782 237v4M816 168v5M816 213v4M816 249v4M816 734v3M816 746v3M816 791v4M816 891v4M850 158v5M850 181v4M850 752v3M850 782v3M884 173v4M884 189v4M884 743v3M884 761v6M884 770v3M884 779v6M884 791v4M918 168v5M918 177v4M918 225v4M918 740v3M918 767v3M918 891v4M952 143v5M952 158v5M952 168v5M952 181v4M952 189v4M952 249v4M952 746v3M952 770v3M986 123v5M986 133v5M986 168v9M986 181v4M986 189v4M986 743v3M986 755v3M986 776v3M986 788v3M1020 241v4M1020 257v4M1020 301v4M1020 740v3M1054 153v5M1054 185v8M1054 249v4M1054 740v3M1054 891v4M1088 138v5M1088 185v4M1088 221v4M1088 755v6M1122 177v4M1122 205v4M1122 241v4M1122 737v12M1122 758v3M1122 770v3M1122 779v3M1156 229v4M1156 245v4M1156 758v3M1156 788v7M1156 799v4M1156 895v1M1190 177v4M1190 205v8M1190 752v3M1190 788v3M1190 795v4M1190 891v4M1224 143v5M1224 163v5M1224 173v4M1224 185v4M1224 193v8M1224 209v4M1224 233v4M1224 273v4M1224 285v4M1224 731v3M1224 770v3M1224 776v3M1258 173v4M1258 767v6M1292 158v5M1292 181v8M1292 249v4M1292 261v4M1292 779v3M1326 168v5M1326 181v4M1326 189v4M1326 241v4M1326 743v3M1326 761v3M1326 767v12M1360 158v5M1360 245v4M1360 293v4M1360 728v3M1360 737v3M1360 767v3M1394 148v5M1394 168v5M1394 189v4M1394 213v4M1394 221v4M1394 731v3M1394 746v9M1394 758v3M1394 764v3M1394 773v3M1394 788v3M1428 143v10M1428 163v5M1428 201v4M1428 213v4M1428 233v4M1428 758v3M1428 764v3M1428 770v3M1462 177v4M1462 201v4M1462 257v4M1462 719v3M1462 731v3M1462 749v3M1462 764v3M1462 891v4M1496 181v4M1496 201v4M1496 209v4M1496 225v4M1496 237v4M1496 269v4M1496 281v4M1496 289v4M1496 317v4M1496 623v3M1496 704v3M1496 737v3M1496 743v3M1496 752v3M1496 782v3M1530 168v13M1530 185v4M1530 725v9M1530 740v3M1530 746v6M1530 770v3M1530 776v3M1564 209v8M1564 245v4M1564 737v9M1564 764v3M1564 776v3M1598 173v4M1598 181v4M1598 193v4M1598 205v4M1598 221v4M1598 237v8M1598 277v4M1598 755v3M1598 764v3M1632 189v4M1632 209v4M1632 221v8M1632 237v4M1632 740v3M1632 761v3M1632 773v3"/>
<path stroke="#ffef00" d="M34 148v5M0 148v5M34 163v5M0 163v5M34 205v4M0 205v4M34 225v4M0 225v4M34 761v3M0 761v3M34 782v3M0 782v3M68 158v5M68 761v3M68 782v3M102 213v4M102 253v4M102 301v4M102 755v6M102 764v3M102 776v3M136 133v5M136 153v5M136 173v4M136 181v4M136 193v12M136 209v4M136 217v4M136 785v3M136 807v16M170 128v5M170 148v10M170 168v5M170 193v4M170 213v4M170 827v4M170 891v5M204 859v8M238 73v5M238 83v5M238 93v5M238 103v5M238 113v5M238 879v4M238 896v8M238 920v4M272 43v5M272 63v5M306 177v4M306 221v4M306 237v4M306 752v6M306 764v3M340 189v4M340 749v6M340 776v3M374 173v8M374 197v4M374 213v4M374 225v4M374 233v4M374 241v4M374 752v3M374 758v3M408 168v5M408 185v8M408 197v4M408 225v4M408 241v4M408 317v4M408 740v3M408 758v3M408 764v3M442 181v4M442 189v4M442 205v8M442 253v4M442 740v3M442 767v3M442 782v3M476 189v8M476 209v4M476 758v3M476 770v3M510 740v3M510 776v3M544 185v4M544 193v4M544 213v8M544 241v8M544 737v3M544 758v3M578 221v8M578 265v4M578 707v3M578 734v3M578 764v6M578 773v3M612 213v4M612 265v4M612 333v4M612 731v3M612 737v3M612 770v3M612 779v3M646 209v12M646 237v8M646 253v4M646 273v8M646 285v4M646 301v4M646 710v3M646 725v6M646 746v3M646 761v3M680 158v5M680 168v5M680 193v4M680 740v3M680 755v6M714 173v4M714 193v4M714 213v4M714 221v4M714 722v3M714 743v3M714 776v6M714 785v3M714 799v4M748 153v5M748 168v5M748 189v4M748 728v3M748 758v3M782 233v4M782 722v3M782 728v3M782 755v6M816 205v8M816 229v4M816 277v8M816 309v4M816 740v3M816 749v6M816 761v3M850 197v4M850 740v6M850 749v3M850 758v3M884 177v4M884 197v8M884 221v4M884 233v12M884 740v3M884 749v9M918 153v10M918 197v4M918 761v3M918 779v3M918 785v3M952 148v5M952 193v8M952 221v4M952 233v4M952 755v9M952 782v3M986 209v4M986 749v3M986 773v3M986 782v3M1020 185v4M1020 233v4M1020 273v4M1020 701v3M1020 737v3M1020 743v3M1020 752v6M1020 761v3M1054 143v5M1054 168v5M1054 201v4M1054 237v4M1054 253v4M1054 728v3M1054 749v3M1054 755v3M1054 761v3M1088 189v4M1088 734v6M1088 743v3M1088 749v3M1122 221v4M1122 229v4M1122 237v4M1122 245v4M1122 731v3M1122 761v3M1156 148v5M1156 189v4M1156 249v4M1156 743v3M1156 752v6M1156 767v3M1156 773v3M1190 197v4M1190 229v4M1190 253v4M1190 289v4M1190 755v3M1190 770v3M1190 782v3M1224 148v5M1224 168v5M1224 189v4M1224 249v4M1224 713v3M1224 725v3M1224 734v6M1224 749v3M1224 755v6M1224 764v3M1224 773v3M1224 891v4M1258 177v8M1258 193v4M1258 725v3M1258 743v3M1258 758v6M1258 776v3M1292 163v5M1292 205v4M1292 213v4M1292 221v4M1292 269v4M1292 728v3M1292 746v6M1326 205v4M1326 213v4M1326 221v4M1326 749v3M1326 779v3M1326 785v3M1326 791v4M1360 193v4M1360 225v12M1360 725v3M1360 755v6M1360 776v3M1394 177v4M1394 193v4M1394 201v4M1394 217v4M1394 237v4M1394 245v4M1394 743v3M1394 755v3M1394 776v3M1428 168v5M1428 189v4M1428 209v4M1428 217v8M1428 229v4M1428 241v4M1428 253v4M1428 269v4M1428 731v3M1428 752v3M1462 163v5M1462 185v4M1462 193v4M1462 205v8M1462 229v4M1462 237v8M1462 265v4M1462 722v3M1462 737v3M1462 743v3M1462 761v3M1462 767v3M1496 416v3M1496 692v3M1496 707v3M1496 716v3M1496 749v3M1496 758v3M1496 773v3M1530 197v4M1530 205v8M1530 225v4M1530 241v4M1530 269v4M1530 293v4M1530 737v3M1530 755v3M1530 761v9M1530 773v3M1530 779v3M1530 788v3M1564 205v4M1564 233v4M1564 241v4M1564 269v4M1564 407v3M1564 728v3M1564 746v6M1564 770v3M1598 197v4M1598 209v4M1598 225v4M1598 253v4M1598 269v4M1598 325v4M1598 725v3M1598 737v6M1598 749v3M1598 758v3M1632 185v4M1632 197v4M1632 205v4M1632 213v4M1632 233v4M1632 273v8M1632 701v3M1632 722v3M1632 737v3M1632 749v3M1632 767v3"/>
<path stroke="#ffe600" d="M34 173v12M0 173v12M34 719v3M0 719v3M34 755v3M0 755v3M34 773v6M0 773v6M68 193v4M68 201v4M68 233v4M68 746v3M68 752v3M102 173v4M102 185v4M102 197v4M102 205v4M102 225v4M102 233v4M102 249v4M102 731v3M102 749v3M136 189v4M136 205v4M136 213v4M136 225v4M136 237v4M136 265v4M136 776v3M136 803v4M170 138v10M170 158v5M170 177v4M170 185v8M170 197v4M170 209v4M170 217v8M170 233v4M170 785v3M204 103v5M204 148v10M204 163v10M204 185v8M204 847v8M204 871v16M204 889v2M238 88v5M238 98v5M238 118v10M238 133v5M238 863v4M238 904v4M272 904v4M306 197v4M306 257v4M306 265v4M306 704v3M306 722v3M306 728v9M306 758v3M340 173v4M340 249v4M340 725v3M340 755v3M340 779v3M374 193v4M374 209v4M374 217v8M374 229v4M374 245v4M374 253v4M374 313v4M374 725v3M374 743v3M374 776v3M408 173v4M408 217v4M408 233v8M408 245v8M408 293v4M408 710v3M408 716v3M408 737v3M408 749v3M408 767v3M408 776v3M442 743v3M442 752v3M442 779v3M476 185v4M476 217v8M476 241v4M476 719v3M476 743v3M476 752v3M510 163v10M510 205v4M510 221v8M510 237v4M510 249v4M510 277v4M510 731v3M544 257v4M544 281v8M544 293v4M544 722v3M544 731v3M578 201v4M578 229v4M578 237v4M578 245v8M578 269v4M578 333v4M578 710v3M578 761v3M578 776v3M612 158v5M612 205v8M612 237v4M612 305v4M612 725v3M612 734v3M612 752v3M646 177v4M646 249v4M646 265v8M646 313v8M646 361v4M646 734v3M646 740v6M680 185v4M680 217v12M680 245v4M680 257v4M714 229v4M714 261v4M714 707v3M714 758v3M714 764v3M748 193v4M748 209v8M748 245v4M748 722v3M748 731v3M748 737v3M748 749v3M782 193v4M782 213v4M782 241v8M782 261v4M782 269v4M782 289v4M782 297v8M782 317v4M782 325v4M782 357v4M782 440v3M782 449v3M782 455v3M782 569v3M782 677v3M782 719v3M782 725v3M782 740v3M782 746v3M816 201v4M816 217v4M816 225v4M816 261v4M816 701v3M816 719v3M816 725v6M816 737v3M816 743v3M816 755v3M850 185v8M850 201v4M850 209v8M850 221v4M850 237v4M850 253v4M850 722v3M850 728v3M850 746v3M850 761v3M850 770v3M884 205v8M884 725v3M884 737v3M884 758v3M918 189v4M918 289v4M918 743v3M918 752v3M918 770v3M918 776v3M952 205v4M952 229v4M952 740v3M952 749v6M986 197v4M986 213v12M986 249v4M986 710v3M986 719v3M986 731v3M986 746v3M986 752v3M1020 177v4M1020 193v4M1020 209v4M1020 217v4M1020 225v8M1020 249v8M1020 261v4M1020 281v8M1020 309v8M1020 369v4M1020 716v3M1020 728v3M1020 734v3M1020 764v3M1054 205v4M1054 213v4M1054 233v4M1054 261v4M1054 277v4M1054 285v4M1054 707v3M1054 737v3M1054 743v3M1054 767v3M1088 201v8M1088 213v8M1088 253v4M1088 719v3M1088 731v3M1088 740v3M1088 752v3M1088 773v3M1122 225v4M1122 233v4M1122 257v4M1122 734v3M1156 153v5M1156 177v4M1156 185v4M1156 193v4M1156 201v4M1156 209v4M1156 217v4M1156 225v4M1156 233v4M1156 241v4M1156 273v4M1156 728v3M1190 217v4M1190 237v8M1190 257v4M1190 734v3M1190 746v3M1190 764v6M1224 138v5M1224 181v4M1224 205v4M1224 217v8M1224 237v4M1224 698v3M1224 728v3M1224 752v3M1224 767v3M1258 189v4M1258 209v4M1258 217v12M1258 233v8M1258 253v4M1258 265v4M1258 277v4M1258 719v6M1258 734v3M1258 740v3M1292 189v4M1292 233v4M1292 253v4M1292 273v4M1292 297v4M1292 683v3M1292 737v9M1292 776v3M1326 143v5M1326 177v4M1326 217v4M1326 225v8M1326 725v3M1326 746v3M1326 758v3M1360 185v4M1360 201v4M1360 213v4M1360 257v4M1360 265v4M1360 285v4M1360 731v6M1360 746v3M1360 752v3M1360 779v3M1394 173v4M1394 185v4M1394 209v4M1394 737v6M1428 185v4M1428 197v4M1428 237v4M1428 257v4M1428 734v3M1428 749v3M1428 755v3M1428 767v3M1428 782v3M1462 181v4M1462 213v8M1462 233v4M1462 245v4M1462 253v4M1462 261v4M1462 277v4M1462 740v3M1462 746v3M1462 752v3M1496 168v5M1496 233v4M1496 249v4M1496 257v4M1496 273v8M1496 285v4M1496 301v4M1496 313v4M1496 325v8M1496 349v4M1496 431v3M1496 443v3M1496 620v3M1496 662v3M1496 671v3M1496 695v3M1496 746v3M1530 189v4M1530 233v4M1530 245v8M1530 257v4M1530 722v3M1530 734v3M1530 752v3M1530 758v3M1564 193v4M1564 237v4M1564 257v8M1564 277v8M1564 301v4M1564 309v4M1564 329v8M1564 349v4M1564 404v3M1564 425v3M1564 680v3M1564 719v3M1598 201v4M1598 217v4M1598 257v12M1598 329v4M1598 341v4M1598 704v3M1598 713v6M1632 253v4M1632 297v4M1632 321v8M1632 410v3M1632 707v3M1632 713v3M1632 719v3M1632 752v3"/>
<path stroke="#ffd800" d="M34 168v5M0 168v5M34 193v8M0 193v8M34 217v4M0 217v4M34 713v3M0 713v3M34 725v3M0 725v3M34 737v3M0 737v3M34 746v3M0 746v3M34 764v3M0 764v3M68 177v4M68 197v4M68 213v4M68 237v4M68 728v3M68 755v3M68 770v3M102 201v4M102 209v4M102 217v4M102 734v3M102 761v3M136 158v5M136 229v8M136 241v4M136 261v4M136 761v3M136 767v3M136 791v4M136 891v4M170 181v4M170 205v4M170 245v8M170 269v4M170 776v3M170 782v3M204 177v8M204 205v4M204 213v4M204 221v4M204 823v4M204 835v4M204 843v4M238 128v5M238 138v15M238 867v4M238 875v4M238 883v6M272 113v5M272 123v5M306 173v4M306 193v4M306 205v4M306 213v4M306 225v8M306 249v4M306 305v4M306 725v3M306 740v3M306 767v3M340 205v8M340 217v4M340 233v4M340 281v8M340 321v4M340 333v4M340 686v3M340 710v3M340 719v6M340 734v3M340 743v3M340 758v3M374 148v5M374 201v4M374 237v4M374 261v4M374 273v4M374 281v4M374 321v4M374 707v3M374 728v3M374 737v6M408 221v4M408 229v4M408 269v4M408 289v4M408 305v4M408 731v3M442 201v4M442 217v4M442 225v12M442 241v8M442 257v4M442 269v4M442 281v12M442 728v3M442 737v3M442 749v3M442 764v3M476 201v8M476 213v4M476 237v4M476 249v4M476 265v4M476 707v3M476 725v3M476 731v6M510 209v8M510 233v4M510 257v12M510 719v3M544 205v4M544 221v4M544 237v4M544 249v4M544 261v4M544 289v4M544 301v4M544 695v3M544 725v6M544 740v3M578 163v5M578 233v4M578 253v4M578 305v4M578 620v3M578 704v3M578 722v9M578 746v3M612 193v4M612 217v4M612 245v4M612 253v8M612 269v4M612 713v3M612 773v3M646 245v4M646 297v4M646 329v4M646 349v4M646 357v4M646 434v3M646 461v3M646 497v3M646 659v3M646 695v6M646 719v6M646 737v3M680 213v4M680 229v8M680 269v4M680 285v4M680 329v4M680 737v3M680 749v6M714 237v8M714 253v4M714 269v4M714 289v4M714 297v4M714 689v3M714 725v6M714 734v6M714 752v3M748 181v4M748 241v4M748 269v8M748 281v4M748 743v6M748 752v6M748 767v3M782 225v4M782 249v8M782 265v4M782 273v12M782 293v4M782 305v8M782 329v4M782 365v4M782 425v3M782 479v3M782 680v3M782 707v3M782 731v6M782 743v3M816 185v4M816 237v4M816 245v4M816 253v4M816 317v4M816 325v4M816 647v3M816 713v6M816 731v3M850 217v4M850 249v4M850 281v8M850 719v3M850 755v3M884 185v4M884 217v4M884 225v8M884 253v4M884 261v4M884 281v4M884 317v4M884 710v6M884 728v6M918 181v4M918 201v4M918 209v8M918 253v4M918 725v3M918 734v6M918 788v3M952 173v4M952 201v4M952 209v8M952 225v4M952 241v8M952 253v4M952 265v4M952 689v6M952 728v6M952 743v3M986 205v4M986 225v4M986 237v8M986 265v4M986 285v4M986 758v3M986 764v3M1020 197v4M1020 221v4M1020 237v4M1020 265v4M1020 277v4M1020 293v4M1020 365v4M1020 686v3M1020 698v3M1020 710v3M1054 209v4M1054 241v4M1054 273v4M1054 289v8M1054 337v4M1054 719v3M1054 725v3M1054 773v3M1088 193v4M1088 225v4M1088 233v4M1088 245v4M1088 269v4M1088 325v4M1088 695v3M1088 704v3M1088 728v3M1122 209v12M1122 261v8M1122 277v4M1122 301v4M1122 692v3M1122 713v6M1122 725v3M1122 752v6M1156 163v5M1156 205v4M1156 213v4M1156 221v4M1156 257v8M1156 716v3M1156 731v3M1156 737v3M1156 761v3M1156 770v3M1190 181v4M1190 201v4M1190 221v4M1190 233v4M1190 245v4M1190 277v4M1190 719v3M1190 737v9M1190 758v3M1190 773v3M1224 229v4M1224 241v8M1224 253v4M1224 710v3M1224 740v3M1258 201v4M1258 213v4M1258 229v4M1258 249v4M1258 273v4M1258 710v3M1258 728v3M1258 749v3M1292 217v4M1292 241v4M1292 265v4M1292 301v4M1292 317v4M1292 329v4M1292 731v6M1326 201v4M1326 209v4M1326 237v4M1326 731v12M1360 241v4M1360 249v4M1360 261v4M1360 273v4M1360 281v4M1360 380v3M1360 677v3M1360 683v3M1360 701v3M1360 716v3M1360 743v3M1394 197v4M1394 205v4M1394 229v4M1394 253v8M1394 269v12M1394 767v3M1394 785v3M1428 225v4M1428 249v4M1428 293v4M1428 725v3M1428 737v12M1462 225v4M1462 269v8M1462 281v4M1462 725v6M1496 221v4M1496 241v4M1496 265v4M1496 305v4M1496 321v4M1496 353v4M1496 380v3M1496 389v3M1496 449v3M1496 461v3M1496 521v3M1496 542v3M1496 554v3M1496 560v3M1496 617v3M1496 659v3M1496 674v3M1496 713v3M1496 719v3M1496 725v3M1530 221v4M1530 229v4M1530 237v4M1530 273v4M1530 301v4M1530 313v4M1530 337v4M1530 398v3M1530 683v3M1530 692v3M1530 707v6M1564 249v8M1564 265v4M1564 273v4M1564 285v4M1564 313v4M1564 321v4M1564 353v8M1564 383v6M1564 392v3M1564 455v3M1564 464v3M1564 476v3M1564 494v3M1564 575v3M1564 623v3M1564 632v3M1564 674v3M1564 686v3M1564 704v3M1564 710v6M1564 725v3M1564 734v3M1598 213v4M1598 249v4M1598 281v4M1598 289v8M1598 305v4M1598 428v3M1598 500v3M1598 698v3M1598 710v3M1598 734v3M1632 201v4M1632 305v4M1632 349v4M1632 357v4M1632 389v3M1632 398v3M1632 419v3M1632 725v6M1632 743v6"/>
<path stroke="#ffc300" d="M34 189v4M0 189v4M34 209v4M0 209v4M34 237v4M0 237v4M34 257v8M0 257v8M34 273v4M0 273v4M34 289v4M0 289v4M34 716v3M0 716v3M34 731v6M0 731v6M34 740v3M0 740v3M34 749v6M0 749v6M68 209v4M68 217v4M68 245v4M68 716v3M68 734v6M68 767v3M102 237v8M102 293v4M102 716v3M102 728v3M102 737v3M102 743v6M102 752v3M136 245v8M136 301v4M136 764v3M136 773v3M136 782v3M136 788v3M136 795v4M136 895v1M170 225v8M170 253v8M170 277v4M170 773v3M170 795v4M204 173v4M204 197v4M204 209v4M204 237v4M204 839v4M238 158v19M238 185v4M238 855v4M272 68v10M272 88v10M272 108v5M272 118v5M306 233v4M306 253v4M306 261v4M306 269v4M306 313v4M306 635v3M306 665v3M306 710v6M306 719v3M306 737v3M340 201v4M340 213v4M340 225v8M340 253v4M340 261v4M340 269v4M340 357v4M340 389v3M340 689v3M340 701v3M340 707v3M340 716v3M340 728v3M374 249v4M374 277v4M374 285v4M374 309v4M374 410v3M374 731v3M408 201v4M408 253v4M408 265v4M408 325v4M408 341v4M408 357v4M408 380v3M408 668v6M408 701v3M408 713v3M408 722v9M408 755v3M442 185v4M442 261v4M442 683v3M442 695v3M442 722v3M442 746v3M442 755v3M476 253v4M476 281v4M476 293v4M476 458v3M476 704v3M476 716v3M476 722v3M476 737v6M476 749v3M510 193v4M510 241v8M510 253v4M510 273v4M510 281v4M510 293v4M510 305v4M510 596v3M510 680v3M510 716v3M510 737v3M510 743v3M544 209v4M544 233v4M544 269v4M544 305v4M544 321v4M544 333v4M544 341v4M544 452v3M544 488v3M544 527v3M544 662v3M544 689v3M544 704v3M544 710v3M544 743v3M578 173v4M578 217v4M578 241v4M578 277v4M578 297v4M578 515v3M578 701v3M578 719v3M578 740v3M612 261v4M612 309v4M612 719v6M612 743v3M646 261v4M646 281v4M646 289v8M646 305v4M646 325v4M646 337v4M646 345v4M646 365v4M646 395v3M646 407v3M646 431v3M646 437v3M646 473v3M646 593v3M646 608v3M646 665v3M646 689v3M646 704v6M646 716v3M680 209v4M680 241v4M680 261v8M680 277v8M680 293v4M680 313v4M680 361v4M680 419v3M680 701v3M680 707v3M680 719v3M680 734v3M680 761v3M714 217v4M714 233v4M714 265v4M714 281v4M714 301v4M714 695v3M714 710v3M714 731v3M714 746v3M748 221v4M748 229v8M748 249v4M748 293v4M748 333v4M748 653v3M748 686v3M748 701v3M748 713v3M748 725v3M748 734v3M782 221v4M782 285v4M782 313v4M782 321v4M782 345v8M782 369v4M782 395v3M782 407v3M782 428v3M782 551v3M782 578v3M782 587v3M782 650v3M782 662v3M782 689v6M782 704v3M782 713v6M816 221v4M816 265v4M816 293v12M816 321v4M816 329v4M816 692v3M816 698v3M816 707v3M850 261v4M850 407v3M850 713v3M884 249v4M884 265v4M884 325v4M884 707v3M884 716v9M884 734v3M884 746v3M918 237v16M918 257v8M918 281v4M918 728v6M918 746v6M918 758v3M952 217v4M952 261v4M952 273v8M952 321v4M952 698v3M952 719v6M952 737v3M986 185v4M986 201v4M986 229v8M986 261v4M986 317v4M986 668v3M986 704v6M986 713v3M986 725v3M1020 289v4M1020 321v4M1020 329v12M1020 345v4M1020 353v4M1020 361v4M1020 389v3M1020 407v3M1020 422v3M1020 449v3M1020 530v3M1020 665v3M1020 671v3M1020 683v3M1020 704v3M1020 713v3M1020 722v3M1020 731v3M1054 217v8M1054 245v4M1054 257v4M1054 269v4M1054 458v3M1054 620v3M1054 704v3M1054 710v3M1054 731v3M1054 752v3M1088 237v8M1088 257v4M1088 273v4M1088 281v4M1088 293v4M1088 309v4M1088 716v3M1088 722v6M1088 746v3M1122 253v4M1122 273v4M1122 289v8M1122 305v4M1122 707v6M1122 722v3M1122 728v3M1122 749v3M1156 237v4M1156 269v4M1156 277v8M1156 289v4M1156 341v4M1156 707v3M1156 725v3M1156 746v3M1190 213v4M1190 225v4M1190 249v4M1190 265v4M1190 273v4M1190 297v4M1190 313v4M1190 329v4M1190 704v6M1190 725v9M1224 225v4M1224 277v8M1224 365v4M1224 686v3M1224 701v3M1224 716v3M1224 743v3M1224 761v3M1258 241v4M1258 261v4M1258 281v4M1258 321v4M1258 345v4M1258 446v3M1258 659v3M1258 704v3M1258 713v3M1258 737v3M1292 197v4M1292 229v4M1292 245v4M1292 257v4M1292 289v4M1292 313v4M1292 341v4M1292 644v3M1292 707v3M1292 722v6M1326 257v12M1326 281v8M1326 297v4M1326 683v3M1326 716v3M1326 752v3M1360 217v4M1360 237v4M1360 269v4M1360 297v4M1360 309v4M1360 419v3M1360 707v3M1360 719v3M1394 225v4M1394 233v4M1394 241v4M1394 249v4M1394 261v8M1394 297v8M1394 325v4M1394 656v3M1394 680v3M1394 710v9M1394 725v3M1428 245v4M1428 261v8M1428 273v4M1428 305v4M1428 317v4M1428 689v3M1428 716v3M1428 761v3M1462 221v4M1462 249v4M1462 285v4M1462 301v4M1462 313v8M1462 365v4M1462 434v3M1462 713v3M1496 293v8M1496 341v4M1496 357v4M1496 369v11M1496 383v3M1496 395v9M1496 422v3M1496 428v3M1496 452v9M1496 464v3M1496 482v3M1496 488v3M1496 497v6M1496 527v3M1496 581v6M1496 593v3M1496 599v3M1496 608v6M1496 629v3M1496 644v3M1496 656v3M1496 668v3M1496 680v9M1496 701v3M1496 722v3M1530 253v4M1530 261v4M1530 277v4M1530 289v4M1530 428v3M1530 566v3M1530 701v3M1564 229v4M1564 325v4M1564 341v8M1564 361v16M1564 395v3M1564 419v3M1564 440v3M1564 446v9M1564 488v3M1564 536v3M1564 584v3M1564 620v3M1564 626v3M1564 659v3M1564 692v3M1564 701v3M1598 285v4M1598 297v8M1598 321v4M1598 333v4M1598 345v4M1598 357v4M1598 389v3M1598 398v6M1598 443v3M1598 449v3M1598 587v3M1598 593v3M1598 602v3M1598 683v6M1598 728v3M1632 229v4M1632 241v8M1632 261v4M1632 285v8M1632 383v3M1632 449v3M1632 482v3M1632 593v3M1632 677v3M1632 692v6M1632 710v3M1632 716v3"/>
<path stroke="#ffa800" d="M34 221v4M0 221v4M34 233v4M0 233v4M34 241v12M0 241v12M34 728v3M0 728v3M68 205v4M68 225v8M68 241v4M68 253v4M68 261v4M68 273v4M68 301v4M68 707v3M68 713v3M68 725v3M68 731v3M68 743v3M102 686v3M102 710v3M102 719v3M102 725v3M102 740v3M136 253v4M136 269v4M136 285v8M136 297v4M136 755v6M136 779v3M170 237v8M170 261v8M170 285v4M170 758v3M170 770v3M170 779v3M204 158v5M204 193v4M204 201v4M204 217v4M204 225v4M204 245v12M204 819v4M204 827v8M238 153v5M238 181v4M238 189v4M238 205v4M238 843v4M238 859v4M238 871v4M272 78v5M272 163v5M272 896v8M306 241v8M306 273v4M306 289v12M306 317v4M306 446v3M306 677v3M306 686v12M340 241v8M340 257v4M340 277v4M340 313v4M340 437v3M340 581v3M340 596v3M340 704v3M340 713v3M374 257v4M374 265v8M374 289v4M374 297v4M374 476v3M374 692v3M374 704v3M374 710v3M374 719v3M374 734v3M374 746v3M374 755v3M408 273v16M408 333v8M408 353v4M408 377v3M408 389v3M408 422v3M408 455v6M408 467v3M408 476v3M408 566v3M408 653v6M408 674v6M408 683v3M408 689v6M442 237v4M442 249v4M442 277v4M442 309v4M442 329v4M442 337v8M442 662v3M442 680v3M442 707v3M476 229v4M476 245v4M476 257v8M476 269v8M476 285v8M476 309v4M476 337v4M476 353v4M476 428v3M476 452v3M476 653v3M476 686v3M476 698v6M476 713v3M510 297v8M510 443v3M510 704v3M510 710v6M510 722v6M510 734v3M510 752v3M544 273v4M544 309v4M544 349v4M544 361v8M544 373v4M544 392v3M544 443v3M544 449v3M544 473v3M544 491v3M544 530v3M544 584v3M544 650v3M544 656v3M544 701v3M544 734v3M578 261v4M578 273v4M578 281v4M578 309v4M578 317v12M578 353v4M578 365v4M578 386v6M578 407v3M578 419v3M578 476v3M578 578v3M578 674v3M578 680v3M578 686v6M578 695v6M578 716v3M578 752v3M612 225v4M612 233v4M612 249v4M612 281v4M612 289v8M612 313v4M612 321v4M612 398v3M612 488v3M612 656v3M612 692v6M612 704v3M612 740v3M646 341v4M646 353v4M646 389v3M646 401v3M646 410v3M646 416v6M646 428v3M646 458v3M646 482v3M646 566v3M646 596v3M646 614v6M646 623v3M646 629v3M646 647v3M646 674v3M646 680v3M646 686v3M680 253v4M680 273v4M680 289v4M680 345v4M680 437v3M680 521v3M680 530v3M680 677v3M680 689v3M680 716v3M680 725v3M680 731v3M714 249v4M714 257v4M714 273v4M714 329v4M714 341v4M714 353v4M714 629v3M714 665v6M714 680v3M714 704v3M714 719v3M714 755v3M748 217v4M748 237v4M748 257v4M748 265v4M748 285v8M748 297v4M748 313v4M748 325v4M748 349v4M748 428v3M748 467v3M748 698v3M748 704v6M748 716v6M782 257v4M782 333v4M782 341v4M782 373v7M782 413v3M782 458v3M782 473v3M782 482v3M782 488v3M782 509v3M782 536v3M782 563v3M782 584v3M782 590v3M782 623v3M782 671v3M782 683v3M782 695v3M782 701v3M782 710v3M816 241v4M816 257v4M816 269v4M816 285v8M816 313v4M816 345v4M816 419v3M816 446v3M816 485v3M816 509v6M816 554v3M816 653v3M816 659v3M816 671v6M816 695v3M816 710v3M816 722v3M850 241v8M850 265v8M850 289v8M850 301v8M850 325v4M850 337v4M850 349v4M850 383v3M850 395v3M850 701v9M850 716v3M850 734v3M884 213v4M884 257v4M884 269v4M884 277v4M884 333v4M884 357v4M884 509v3M884 626v3M884 689v6M918 205v4M918 217v4M918 301v4M918 309v8M918 536v3M918 686v6M918 701v3M918 707v9M918 719v6M918 764v3M952 257v4M952 281v8M952 297v12M952 656v3M952 695v3M952 707v3M952 713v6M952 734v3M986 257v4M986 293v8M986 419v3M986 677v3M986 689v3M986 695v3M986 722v3M986 728v3M986 734v3M986 761v3M1020 245v4M1020 269v4M1020 325v4M1020 349v4M1020 383v6M1020 437v3M1020 467v6M1020 509v3M1020 524v3M1020 566v3M1020 674v9M1020 692v3M1020 725v3M1054 229v4M1054 281v4M1054 305v8M1054 321v4M1054 345v4M1054 357v4M1054 373v4M1054 395v3M1054 404v3M1054 452v3M1054 470v3M1054 674v3M1054 689v3M1054 701v3M1054 716v3M1054 734v3M1088 229v4M1088 249v4M1088 261v4M1088 277v4M1088 285v4M1088 305v4M1088 313v4M1088 337v4M1088 353v8M1088 380v3M1088 653v3M1088 677v3M1088 692v3M1088 701v3M1122 193v4M1122 285v4M1122 297v4M1122 321v8M1122 373v4M1122 389v3M1122 476v3M1122 680v3M1122 695v3M1122 719v3M1156 285v4M1156 301v4M1156 317v4M1156 333v4M1156 349v4M1156 455v3M1156 566v3M1156 650v3M1156 689v3M1156 695v3M1156 734v3M1156 740v3M1190 261v4M1190 269v4M1190 309v4M1190 449v3M1190 545v3M1190 638v3M1190 680v3M1190 713v6M1224 257v4M1224 269v4M1224 297v4M1224 309v4M1224 325v4M1224 341v4M1224 413v3M1224 479v3M1224 653v3M1224 671v3M1224 683v3M1224 704v3M1258 269v4M1258 285v4M1258 297v12M1258 313v4M1258 353v4M1258 377v3M1258 503v3M1258 542v3M1258 665v3M1258 689v6M1258 698v3M1258 707v3M1258 731v3M1258 746v3M1292 277v4M1292 309v4M1292 333v4M1292 380v3M1292 431v3M1292 455v3M1292 509v3M1292 626v3M1292 695v3M1292 704v3M1292 716v3M1292 755v3M1326 233v4M1326 269v4M1326 277v4M1326 301v4M1326 329v4M1326 345v4M1326 671v3M1326 680v3M1326 689v6M1326 701v3M1326 710v3M1326 719v3M1360 253v4M1360 289v4M1360 313v4M1360 325v4M1360 333v4M1360 581v3M1360 662v3M1360 710v6M1394 285v8M1394 333v4M1394 341v8M1394 380v3M1394 395v3M1394 704v6M1394 728v3M1428 277v4M1428 289v4M1428 297v4M1428 313v4M1428 392v3M1428 488v3M1428 698v6M1428 728v3M1462 289v8M1462 309v4M1462 325v4M1462 353v8M1462 380v3M1462 389v6M1462 398v3M1462 485v3M1462 551v3M1462 575v3M1462 614v3M1462 695v3M1462 704v3M1462 716v3M1462 734v3M1496 261v4M1496 333v8M1496 392v3M1496 407v9M1496 425v3M1496 446v3M1496 476v6M1496 485v3M1496 491v3M1496 503v12M1496 518v3M1496 545v6M1496 557v3M1496 563v9M1496 578v3M1496 596v3M1496 605v3M1496 647v3M1496 665v3M1496 677v3M1496 689v3M1496 698v3M1496 710v3M1530 305v8M1530 341v4M1530 349v4M1530 377v3M1530 395v3M1530 461v3M1530 521v3M1530 539v6M1530 575v3M1530 626v3M1530 668v3M1530 689v3M1530 698v3M1530 713v6M1564 297v4M1564 305v4M1564 317v4M1564 377v3M1564 398v3M1564 410v3M1564 416v3M1564 434v3M1564 467v3M1564 473v3M1564 491v3M1564 512v3M1564 518v3M1564 524v3M1564 545v3M1564 551v3M1564 560v6M1564 569v3M1564 581v3M1564 590v3M1564 596v6M1564 617v3M1564 629v3M1564 650v6M1564 668v3M1564 695v6M1564 716v3M1564 722v3M1598 313v4M1598 361v4M1598 369v11M1598 410v6M1598 431v3M1598 461v3M1598 473v3M1598 503v3M1598 512v3M1598 521v3M1598 557v3M1598 575v9M1598 641v3M1598 650v3M1598 656v9M1598 692v6M1598 701v3M1598 707v3M1632 293v4M1632 301v4M1632 309v8M1632 341v4M1632 353v4M1632 373v4M1632 392v3M1632 416v3M1632 422v3M1632 440v6M1632 458v9M1632 476v3M1632 500v9M1632 524v3M1632 542v3M1632 548v3M1632 575v3M1632 608v3M1632 632v3M1632 641v3M1632 656v6M1632 686v3M1632 698v3M1632 704v3"/>
<path stroke="#ff9300" d="M34 229v4M0 229v4M34 269v4M0 269v4M34 285v4M0 285v4M34 309v4M0 309v4M34 317v4M0 317v4M34 404v3M0 404v3M34 449v3M0 449v3M34 488v3M0 488v3M34 665v3M0 665v3M34 671v3M0 671v3M34 707v3M0 707v3M34 743v3M0 743v3M68 221v4M68 249v4M68 257v4M68 277v4M68 285v4M68 361v4M68 369v4M68 515v3M68 611v3M68 701v3M68 719v3M68 740v3M68 749v3M102 221v4M102 245v4M102 257v12M102 273v8M102 297v4M102 309v4M102 440v3M102 653v3M102 677v3M102 704v3M136 257v4M136 273v12M136 305v4M136 746v9M136 770v3M170 273v4M170 289v12M170 317v4M170 755v3M170 761v3M170 767v3M204 229v8M204 241v4M204 265v8M204 289v4M204 815v4M204 891v5M238 177v4M238 193v8M238 217v4M238 831v4M238 839v4M238 851v4M238 889v2M272 103v5M272 128v10M272 143v15M306 281v8M306 301v4M306 321v8M306 345v4M306 434v3M306 461v3M306 530v3M306 545v3M306 680v3M306 746v3M340 265v4M340 273v4M340 293v4M340 317v4M340 325v4M340 349v8M340 361v4M340 373v4M340 620v3M340 647v3M340 665v6M340 683v3M340 698v3M340 731v3M340 737v3M374 305v4M374 337v8M374 353v4M374 365v4M374 373v4M374 380v3M374 413v3M374 551v3M374 587v6M374 635v3M374 683v3M374 701v3M374 713v6M374 722v3M408 257v4M408 313v4M408 345v4M408 373v4M408 407v3M408 431v3M408 437v6M408 479v3M408 485v3M408 572v6M408 587v6M408 602v3M408 629v6M408 698v3M408 704v3M442 265v4M442 273v4M442 293v8M442 361v4M442 373v4M442 416v3M442 596v3M442 617v6M442 653v6M442 668v3M442 677v3M442 701v3M442 710v9M442 731v3M476 277v4M476 297v8M476 321v4M476 333v4M476 365v8M476 572v3M476 581v3M476 677v3M476 689v3M476 728v3M510 269v4M510 285v4M510 313v4M510 325v4M510 337v8M510 357v4M510 440v3M510 455v3M510 602v3M510 638v3M510 656v3M510 665v3M510 671v3M510 695v9M510 707v3M544 277v4M544 313v4M544 329v4M544 337v4M544 383v6M544 398v3M544 404v3M544 455v3M544 485v3M544 509v3M544 524v3M544 566v3M544 590v3M544 599v3M544 626v3M544 641v3M544 659v3M544 671v12M544 692v3M544 713v9M578 345v4M578 377v6M578 410v3M578 422v6M578 437v3M578 446v3M578 452v3M578 461v3M578 473v3M578 479v3M578 554v3M578 590v3M578 617v3M578 635v3M578 665v3M578 671v3M578 692v3M612 229v4M612 241v4M612 285v4M612 301v4M612 317v4M612 325v4M612 365v4M612 373v4M612 383v3M612 392v3M612 416v6M612 440v3M612 446v3M612 473v3M612 494v3M612 560v3M612 578v6M612 590v3M612 596v3M612 629v3M612 647v3M612 665v3M612 671v3M612 677v3M612 689v3M612 698v3M612 716v3M612 728v3M646 309v4M646 321v4M646 333v4M646 386v3M646 392v3M646 404v3M646 422v3M646 443v3M646 452v3M646 467v3M646 476v3M646 485v3M646 491v6M646 503v3M646 509v6M646 518v6M646 542v3M646 557v6M646 569v3M646 578v9M646 590v3M646 605v3M646 611v3M646 620v3M646 632v6M646 650v3M646 662v3M646 671v3M646 701v3M646 713v3M680 297v4M680 337v4M680 383v3M680 410v3M680 461v3M680 587v3M680 617v3M680 635v3M680 647v3M680 698v3M680 704v3M680 710v6M680 728v3M714 245v4M714 309v20M714 333v4M714 357v4M714 373v4M714 392v6M714 407v3M714 434v3M714 476v3M714 503v3M714 560v3M714 617v3M714 686v3M748 253v4M748 301v4M748 309v4M748 317v4M748 329v4M748 373v4M748 470v3M748 569v3M748 575v3M748 659v3M748 710v3M748 740v3M782 337v4M782 383v6M782 392v3M782 437v3M782 446v3M782 461v3M782 470v3M782 476v3M782 491v3M782 506v3M782 521v6M782 530v6M782 560v3M782 566v3M782 572v6M782 605v6M782 614v3M782 626v3M782 635v9M782 653v9M782 665v6M782 674v3M782 686v3M782 698v3M816 273v4M816 333v8M816 349v4M816 365v4M816 373v4M816 398v3M816 404v3M816 431v3M816 458v12M816 548v6M816 587v3M816 596v3M816 608v3M816 626v3M816 638v3M816 665v3M816 677v3M816 686v3M850 233v4M850 257v4M850 273v8M850 329v4M850 341v4M850 380v3M850 410v3M850 425v3M850 482v3M850 545v3M850 551v3M850 656v3M850 668v3M850 692v3M850 698v3M850 710v3M850 725v3M850 731v3M884 273v4M884 289v4M884 305v8M884 341v4M884 361v4M884 377v3M884 386v3M884 392v3M884 401v3M884 407v6M884 419v3M884 473v6M884 545v3M884 590v3M884 659v3M884 674v9M884 704v3M918 229v4M918 265v8M918 277v4M918 293v4M918 317v4M918 337v4M918 349v4M918 527v3M918 620v3M918 692v6M952 237v4M952 293v4M952 313v4M952 361v4M952 389v3M952 407v3M952 449v3M952 488v3M952 521v6M952 539v3M952 566v3M952 614v3M952 623v3M952 686v3M952 710v3M952 725v3M986 245v4M986 277v4M986 289v4M986 301v4M986 313v4M986 341v4M986 349v4M986 369v4M986 380v3M986 422v3M986 494v3M986 512v3M986 548v3M986 635v3M986 644v3M986 650v3M986 674v3M986 692v3M986 701v3M986 716v3M986 737v3M1020 297v4M1020 305v4M1020 317v4M1020 341v4M1020 357v4M1020 373v4M1020 395v3M1020 404v3M1020 410v3M1020 416v3M1020 440v6M1020 452v3M1020 482v3M1020 503v3M1020 521v3M1020 527v3M1020 542v3M1020 551v3M1020 560v6M1020 569v3M1020 611v3M1020 647v3M1020 707v3M1020 719v3M1054 265v4M1054 329v4M1054 341v4M1054 353v4M1054 365v4M1054 392v3M1054 407v3M1054 455v3M1054 464v3M1054 527v3M1054 614v3M1054 653v3M1054 665v3M1054 686v3M1054 695v6M1054 713v3M1054 722v3M1088 265v4M1088 289v4M1088 301v4M1088 317v4M1088 416v3M1088 479v3M1088 494v3M1088 503v3M1088 512v3M1088 542v3M1088 665v9M1088 680v3M1088 686v3M1088 698v3M1088 710v6M1122 249v4M1122 269v4M1122 281v4M1122 329v8M1122 341v4M1122 349v4M1122 361v12M1122 425v3M1122 470v3M1122 575v3M1122 590v3M1122 623v3M1122 689v3M1122 701v3M1156 253v4M1156 265v4M1156 293v8M1156 305v8M1156 329v4M1156 337v4M1156 345v4M1156 380v3M1156 392v3M1156 398v3M1156 542v3M1156 569v3M1156 668v6M1156 701v3M1156 710v6M1156 719v3M1190 281v8M1190 321v4M1190 353v4M1190 365v4M1190 443v3M1190 461v3M1190 482v3M1190 587v3M1190 665v6M1190 692v6M1190 722v3M1224 261v8M1224 293v4M1224 301v8M1224 357v4M1224 416v3M1224 422v3M1224 446v3M1224 470v3M1224 476v3M1224 500v3M1224 557v3M1224 563v3M1224 575v3M1224 584v3M1224 659v6M1224 692v3M1224 719v6M1224 746v3M1258 257v4M1258 293v4M1258 325v4M1258 341v4M1258 349v4M1258 357v4M1258 365v4M1258 386v6M1258 422v3M1258 437v3M1258 449v3M1258 458v3M1258 494v3M1258 512v3M1258 533v3M1258 599v3M1258 632v3M1258 638v3M1258 653v3M1258 683v3M1258 695v3M1258 701v3M1292 209v4M1292 281v8M1292 293v4M1292 305v4M1292 321v4M1292 345v4M1292 383v3M1292 392v3M1292 413v3M1292 419v3M1292 428v3M1292 506v3M1292 680v3M1292 692v3M1292 710v3M1292 719v3M1326 245v12M1326 273v4M1326 305v4M1326 313v4M1326 369v4M1326 419v3M1326 461v3M1326 479v3M1326 596v3M1326 650v3M1326 659v3M1326 674v3M1326 686v3M1326 695v3M1326 704v3M1326 713v3M1326 722v3M1360 277v4M1360 301v8M1360 317v4M1360 329v4M1360 341v4M1360 353v8M1360 383v6M1360 410v3M1360 422v3M1360 554v3M1360 605v3M1360 614v3M1360 647v3M1360 653v3M1360 659v3M1360 668v3M1360 686v3M1360 692v3M1360 698v3M1360 722v3M1394 293v4M1394 305v4M1394 313v8M1394 357v8M1394 369v4M1394 461v3M1394 494v3M1394 500v3M1394 536v3M1394 611v3M1394 653v3M1394 695v3M1394 701v3M1394 719v3M1428 281v4M1428 325v4M1428 333v4M1428 341v4M1428 422v3M1428 467v3M1428 473v3M1428 521v3M1428 647v3M1428 707v9M1462 305v4M1462 341v4M1462 349v4M1462 373v4M1462 407v3M1462 446v3M1462 452v3M1462 497v3M1462 527v3M1462 560v6M1462 578v3M1462 641v3M1462 668v3M1462 677v3M1462 683v3M1462 692v3M1462 701v3M1462 707v6M1496 309v4M1496 345v4M1496 386v3M1496 419v3M1496 467v3M1496 473v3M1496 494v3M1496 515v3M1496 524v3M1496 530v12M1496 551v3M1496 575v3M1496 587v3M1496 602v3M1496 635v3M1496 650v6M1530 265v4M1530 285v4M1530 297v4M1530 325v12M1530 353v4M1530 361v4M1530 373v4M1530 380v3M1530 386v3M1530 404v6M1530 413v3M1530 440v3M1530 449v3M1530 455v3M1530 494v3M1530 527v6M1530 548v3M1530 599v3M1530 617v3M1530 623v3M1530 629v3M1530 644v6M1530 656v3M1530 677v3M1530 686v3M1530 704v3M1564 289v4M1564 422v3M1564 470v3M1564 479v3M1564 485v3M1564 497v3M1564 506v6M1564 515v3M1564 521v3M1564 527v3M1564 533v3M1564 542v3M1564 566v3M1564 578v3M1564 611v3M1564 635v15M1564 656v3M1564 677v3M1564 683v3M1564 689v3M1564 707v3M1598 273v4M1598 309v4M1598 337v4M1598 353v4M1598 365v4M1598 380v3M1598 395v3M1598 404v6M1598 416v3M1598 452v9M1598 476v6M1598 485v6M1598 497v3M1598 527v6M1598 539v3M1598 554v3M1598 572v3M1598 584v3M1598 605v3M1598 617v9M1598 629v6M1598 638v3M1598 677v6M1598 689v3M1632 269v4M1632 281v4M1632 317v4M1632 329v4M1632 337v4M1632 345v4M1632 361v4M1632 386v3M1632 401v3M1632 428v3M1632 434v3M1632 446v3M1632 455v3M1632 470v3M1632 485v3M1632 491v3M1632 530v3M1632 536v3M1632 551v3M1632 566v3M1632 584v3M1632 590v3M1632 599v3M1632 629v3M1632 644v3M1632 650v3M1632 665v6M1632 680v6"/>
<path stroke="#ff8100" d="M34 253v4M0 253v4M34 265v4M0 265v4M34 277v4M0 277v4M34 293v12M0 293v12M34 321v4M0 321v4M34 611v3M0 611v3M34 695v3M0 695v3M34 722v3M0 722v3M68 269v4M68 297v4M68 305v4M68 321v4M68 349v8M68 389v3M68 407v3M68 416v3M68 425v6M68 674v3M68 686v3M68 695v3M68 710v3M68 722v3M102 229v4M102 281v8M102 321v20M102 377v3M102 395v3M102 413v3M102 572v3M102 608v3M102 668v3M102 713v3M136 293v4M136 317v8M136 329v4M136 695v6M136 707v6M136 716v3M136 734v6M170 281v4M170 737v3M170 749v3M170 764v3M204 257v4M204 273v4M204 285v4M204 799v16M238 213v4M238 241v4M238 847v4M272 83v5M272 98v5M272 138v5M306 277v4M306 309v4M306 333v4M306 357v12M306 373v4M306 398v3M306 404v3M306 410v3M306 416v3M306 425v3M306 431v3M306 488v3M306 566v3M306 584v3M306 611v3M306 650v3M306 668v3M306 674v3M306 698v6M306 716v3M340 301v4M340 309v4M340 337v4M340 383v3M340 428v3M340 476v3M340 533v3M340 554v3M340 569v6M340 578v3M340 587v3M340 623v3M340 659v6M340 677v3M340 692v3M374 317v4M374 325v4M374 333v4M374 345v8M374 357v4M374 377v3M374 392v3M374 428v3M374 449v3M374 485v3M374 506v3M374 524v3M374 542v3M374 557v3M374 593v3M374 641v6M374 665v3M374 671v6M374 695v6M408 297v8M408 309v4M408 321v4M408 329v4M408 392v9M408 416v6M408 428v3M408 443v3M408 449v3M408 464v3M408 497v3M408 503v3M408 512v3M408 521v3M408 536v3M408 548v3M408 593v3M408 599v3M408 608v3M408 614v6M408 623v3M408 650v3M408 680v3M408 695v3M442 301v8M442 321v8M442 345v4M442 353v8M442 369v4M442 386v3M442 419v6M442 506v3M442 515v3M442 521v3M442 527v3M442 560v3M442 638v6M442 647v3M442 674v3M442 698v3M442 704v3M442 719v3M442 725v3M476 313v4M476 325v8M476 345v8M476 383v3M476 389v3M476 431v6M476 524v3M476 548v3M476 578v3M476 620v3M476 629v3M476 635v3M476 644v6M476 668v9M476 680v3M476 710v3M510 309v4M510 317v4M510 386v3M510 404v3M510 413v3M510 515v3M510 533v6M510 548v3M510 575v3M510 584v3M510 623v3M510 632v3M510 650v6M510 668v3M510 683v3M510 689v6M544 325v4M544 369v4M544 380v3M544 401v3M544 419v3M544 440v3M544 464v3M544 476v3M544 506v3M544 536v3M544 551v3M544 557v3M544 593v3M544 602v3M544 611v3M544 617v3M544 683v3M544 707v3M578 285v12M578 313v4M578 349v4M578 373v4M578 383v3M578 395v3M578 434v3M578 443v3M578 470v3M578 488v3M578 509v3M578 527v3M578 536v6M578 581v3M578 587v3M578 593v6M578 623v3M578 629v6M578 641v3M578 656v3M578 668v3M578 677v3M578 713v3M612 273v4M612 297v4M612 345v20M612 377v6M612 389v3M612 395v3M612 410v3M612 431v3M612 452v3M612 464v3M612 470v3M612 476v3M612 512v9M612 533v3M612 548v3M612 572v6M612 584v3M612 599v6M612 635v3M612 641v3M612 662v3M612 683v6M612 701v3M612 710v3M646 369v8M646 380v3M646 398v3M646 413v3M646 425v3M646 440v3M646 446v3M646 455v3M646 464v3M646 470v3M646 500v3M646 515v3M646 530v3M646 539v3M646 545v12M646 563v3M646 575v3M646 599v6M646 626v3M646 653v6M646 668v3M646 692v3M680 305v8M680 333v4M680 349v4M680 373v4M680 386v3M680 395v3M680 401v3M680 422v15M680 458v3M680 476v3M680 500v3M680 506v3M680 542v3M680 569v3M680 620v6M680 644v3M680 650v3M680 671v6M680 686v3M680 695v3M680 722v3M714 277v4M714 285v4M714 293v4M714 305v4M714 337v4M714 361v8M714 401v6M714 416v3M714 479v3M714 488v3M714 545v3M714 563v3M714 572v6M714 596v3M714 614v3M714 653v3M714 662v3M714 677v3M714 701v3M714 713v6M748 261v4M748 361v12M748 380v6M748 392v3M748 398v3M748 407v3M748 455v6M748 482v3M748 500v3M748 506v3M748 599v3M748 656v3M748 680v3M748 692v6M782 353v4M782 361v4M782 389v3M782 416v3M782 434v3M782 443v3M782 464v6M782 500v3M782 515v3M782 527v3M782 539v6M782 548v3M782 554v3M782 581v3M782 602v3M782 617v3M782 629v6M816 305v4M816 353v8M816 369v4M816 377v6M816 386v9M816 413v6M816 425v3M816 443v3M816 449v3M816 470v3M816 524v9M816 539v3M816 557v3M816 563v9M816 599v3M816 611v3M816 629v3M816 635v3M816 650v3M816 656v3M816 668v3M816 680v3M850 297v4M850 333v4M850 345v4M850 361v8M850 389v3M850 398v6M850 419v3M850 446v3M850 470v3M850 509v3M850 524v3M850 548v3M850 557v3M850 587v3M850 608v3M850 614v3M850 626v3M850 650v6M850 677v6M850 695v3M884 293v4M884 301v4M884 313v4M884 321v4M884 329v4M884 337v4M884 349v4M884 365v12M884 383v3M884 395v6M884 404v3M884 416v3M884 422v3M884 440v6M884 449v3M884 464v3M884 482v6M884 512v3M884 518v3M884 533v3M884 539v3M884 563v9M884 578v3M884 593v3M884 614v3M884 638v3M884 656v3M884 671v3M884 683v3M884 695v6M918 233v4M918 273v4M918 297v4M918 329v4M918 341v4M918 357v4M918 365v8M918 380v3M918 386v3M918 404v3M918 413v3M918 506v3M918 524v3M918 548v3M918 668v3M918 674v6M918 698v3M918 716v3M952 269v4M952 289v4M952 317v4M952 325v4M952 337v4M952 383v3M952 395v3M952 413v3M952 425v3M952 458v6M952 476v3M952 500v3M952 575v6M952 590v3M952 605v3M952 620v3M952 644v3M952 671v3M952 701v6M986 253v4M986 273v4M986 305v8M986 337v4M986 373v4M986 383v3M986 404v3M986 410v3M986 428v3M986 458v3M986 470v3M986 530v6M986 584v6M986 641v3M986 647v3M986 659v3M986 680v3M986 740v3M1020 377v3M1020 401v3M1020 434v3M1020 446v3M1020 458v3M1020 476v6M1020 494v3M1020 500v3M1020 506v3M1020 512v3M1020 533v3M1020 545v3M1020 554v6M1020 578v3M1020 590v3M1020 599v6M1020 608v3M1020 614v6M1020 626v6M1020 644v3M1020 650v6M1020 668v3M1020 689v3M1020 695v3M1054 313v4M1054 369v4M1054 383v9M1054 416v9M1054 446v3M1054 479v3M1054 491v3M1054 506v3M1054 515v6M1054 542v3M1054 557v3M1054 575v3M1054 596v3M1054 656v3M1054 683v3M1088 297v4M1088 321v4M1088 329v8M1088 345v8M1088 373v7M1088 392v3M1088 398v3M1088 407v3M1088 425v3M1088 431v6M1088 443v3M1088 452v3M1088 461v3M1088 467v3M1088 485v3M1088 491v3M1088 509v3M1088 521v6M1088 539v3M1088 560v3M1088 581v3M1088 608v3M1088 614v6M1088 689v3M1088 707v3M1122 309v8M1122 377v6M1122 386v3M1122 407v3M1122 446v6M1122 455v3M1122 491v3M1122 503v3M1122 524v3M1122 539v3M1122 593v3M1122 614v3M1122 641v3M1122 662v3M1122 671v3M1122 677v3M1122 683v3M1122 704v3M1156 313v4M1156 353v8M1156 410v3M1156 419v3M1156 446v3M1156 524v3M1156 548v3M1156 560v3M1156 617v3M1156 635v6M1156 659v3M1156 674v3M1156 680v3M1156 686v3M1156 698v3M1190 293v4M1190 301v4M1190 317v4M1190 325v4M1190 333v4M1190 369v4M1190 386v3M1190 395v3M1190 401v9M1190 413v3M1190 425v3M1190 440v3M1190 467v3M1190 500v3M1190 560v3M1190 614v3M1190 626v3M1190 641v3M1190 659v3M1190 686v3M1190 710v3M1224 289v4M1224 321v4M1224 329v4M1224 361v4M1224 369v17M1224 392v3M1224 407v6M1224 431v3M1224 437v6M1224 455v3M1224 467v3M1224 473v3M1224 503v3M1224 509v3M1224 530v6M1224 545v3M1224 551v6M1224 605v3M1224 611v3M1224 647v3M1224 665v6M1224 677v3M1224 689v3M1258 289v4M1258 309v4M1258 317v4M1258 329v12M1258 373v4M1258 380v3M1258 392v3M1258 398v3M1258 416v3M1258 425v3M1258 434v3M1258 476v9M1258 497v3M1258 539v3M1258 584v3M1258 593v3M1258 602v3M1258 611v3M1258 617v3M1258 635v3M1258 641v3M1258 650v3M1258 677v3M1292 225v4M1292 349v4M1292 357v4M1292 365v8M1292 386v3M1292 395v6M1292 404v3M1292 416v3M1292 452v3M1292 458v3M1292 476v3M1292 488v6M1292 530v6M1292 548v3M1292 557v3M1292 563v3M1292 590v3M1292 602v3M1292 632v3M1292 653v3M1292 665v3M1292 689v3M1292 713v3M1326 309v4M1326 317v8M1326 349v8M1326 386v3M1326 416v3M1326 443v3M1326 548v3M1326 557v3M1326 632v3M1326 662v6M1326 698v3M1326 707v3M1360 337v4M1360 345v4M1360 361v4M1360 369v4M1360 416v3M1360 425v3M1360 440v3M1360 452v3M1360 461v3M1360 467v3M1360 473v3M1360 488v3M1360 494v3M1360 533v3M1360 566v6M1360 638v3M1360 656v3M1360 680v3M1360 689v3M1394 281v4M1394 337v4M1394 349v4M1394 373v4M1394 383v3M1394 389v3M1394 398v9M1394 416v3M1394 425v3M1394 431v3M1394 443v3M1394 452v3M1394 467v9M1394 554v3M1394 560v3M1394 581v3M1394 587v3M1394 677v3M1394 686v3M1394 692v3M1394 698v3M1428 285v4M1428 301v4M1428 329v4M1428 337v4M1428 353v4M1428 365v4M1428 377v6M1428 389v3M1428 413v3M1428 443v3M1428 461v3M1428 476v3M1428 497v3M1428 503v3M1428 524v6M1428 545v3M1428 560v3M1428 578v3M1428 593v3M1428 599v6M1428 680v3M1428 695v3M1428 719v3M1462 297v4M1462 333v4M1462 361v4M1462 369v4M1462 377v3M1462 386v3M1462 395v3M1462 425v3M1462 431v3M1462 467v3M1462 476v3M1462 494v3M1462 506v6M1462 521v3M1462 539v6M1462 557v3M1462 581v6M1462 590v3M1462 611v3M1462 617v6M1462 638v3M1462 653v6M1462 680v3M1462 698v3M1496 404v3M1496 434v9M1496 470v3M1496 590v3M1496 614v3M1496 632v3M1496 638v6M1530 281v4M1530 317v8M1530 345v4M1530 357v4M1530 365v8M1530 389v6M1530 401v3M1530 416v9M1530 434v6M1530 443v6M1530 458v3M1530 464v3M1530 476v3M1530 482v3M1530 491v3M1530 518v3M1530 524v3M1530 533v3M1530 551v3M1530 584v3M1530 596v3M1530 605v3M1530 620v3M1530 638v3M1530 650v3M1530 659v6M1530 671v6M1530 680v3M1530 695v3M1530 719v3M1564 337v4M1564 380v3M1564 389v3M1564 413v3M1564 428v3M1564 437v3M1564 458v3M1564 482v3M1564 503v3M1564 530v3M1564 539v3M1564 548v3M1564 554v6M1564 572v3M1564 587v3M1564 593v3M1564 602v9M1564 662v3M1598 317v4M1598 349v4M1598 419v9M1598 434v9M1598 470v3M1598 482v3M1598 494v3M1598 518v3M1598 533v6M1598 542v12M1598 560v3M1598 566v6M1598 590v3M1598 599v3M1598 608v6M1598 635v3M1598 647v3M1598 665v3M1598 674v3M1598 719v6M1632 365v4M1632 377v3M1632 395v3M1632 404v3M1632 413v3M1632 425v3M1632 431v3M1632 437v3M1632 467v3M1632 479v3M1632 497v3M1632 509v6M1632 527v3M1632 554v12M1632 569v6M1632 581v3M1632 605v3M1632 620v3M1632 635v6M1632 671v3"/>
<path stroke="#ff7000" d="M34 407v3M0 407v3M34 473v3M0 473v3M34 494v3M0 494v3M34 500v3M0 500v3M34 557v6M0 557v6M34 572v3M0 572v3M34 680v6M0 680v6M34 689v3M0 689v3M34 710v3M0 710v3M68 289v8M68 309v4M68 333v12M68 365v4M68 373v4M68 401v3M68 431v3M68 437v3M68 458v3M68 464v6M68 479v6M68 524v3M68 533v3M68 569v3M68 578v3M68 647v3M68 653v3M68 698v3M102 305v4M102 345v12M102 365v4M102 386v3M102 518v3M102 524v3M102 563v3M102 590v3M102 599v6M102 647v3M102 659v3M102 692v9M102 707v3M102 722v3M136 325v4M136 341v4M136 373v7M136 665v3M136 689v6M136 704v3M136 719v6M136 731v3M136 743v3M170 305v12M170 321v12M170 337v4M170 349v4M170 369v4M170 731v3M170 740v3M170 746v3M170 752v3M204 261v4M204 293v4M204 317v4M238 201v4M238 209v4M238 221v8M238 233v4M238 245v4M238 799v4M238 819v8M238 891v4M272 168v9M272 181v4M272 205v4M306 349v4M306 369v4M306 377v3M306 386v6M306 395v3M306 443v3M306 449v12M306 464v3M306 473v6M306 509v3M306 515v3M306 524v6M306 539v3M306 563v3M306 569v3M306 578v3M306 599v3M306 617v3M306 647v3M306 653v3M306 659v3M306 671v3M306 707v3M340 297v4M340 305v4M340 329v4M340 341v4M340 365v4M340 392v6M340 407v3M340 422v6M340 434v3M340 443v3M340 452v9M340 464v3M340 506v3M340 512v3M340 521v3M340 566v3M340 575v3M340 590v3M340 602v3M340 608v3M340 632v3M340 653v6M340 680v3M374 293v4M374 301v4M374 329v4M374 369v4M374 383v3M374 389v3M374 398v3M374 419v3M374 425v3M374 443v3M374 452v9M374 464v3M374 470v3M374 479v3M374 509v6M374 518v3M374 530v3M374 560v3M374 569v3M374 578v3M374 599v9M374 623v3M374 629v6M374 638v3M374 689v3M408 349v4M408 369v4M408 383v3M408 401v3M408 434v3M408 452v3M408 470v3M408 482v3M408 494v3M408 500v3M408 506v6M408 524v3M408 533v3M408 557v3M408 578v3M408 584v3M408 596v3M408 611v3M408 620v3M408 638v3M408 647v3M408 662v6M408 707v3M442 313v8M442 333v4M442 349v4M442 365v4M442 377v3M442 383v3M442 395v6M442 434v3M442 458v3M442 464v3M442 476v3M442 518v3M442 530v3M442 539v3M442 563v3M442 572v6M442 602v6M442 614v3M442 635v3M442 659v3M442 671v3M442 686v6M476 305v4M476 317v4M476 357v4M476 395v3M476 407v6M476 416v3M476 455v3M476 464v6M476 473v3M476 488v3M476 494v3M476 527v3M476 566v6M476 593v3M476 617v3M476 632v3M476 659v3M476 695v3M510 329v8M510 349v8M510 365v4M510 380v6M510 428v6M510 449v6M510 464v3M510 479v3M510 500v3M510 509v3M510 524v3M510 557v3M510 563v3M510 608v9M510 620v3M510 626v3M510 644v3M510 677v3M510 686v3M544 297v4M544 317v4M544 353v8M544 377v3M544 389v3M544 410v3M544 416v3M544 425v9M544 437v3M544 467v6M544 479v3M544 494v12M544 515v3M544 542v3M544 554v3M544 560v3M544 578v6M544 620v3M544 635v6M544 647v3M544 686v3M544 698v3M578 301v4M578 329v4M578 337v8M578 357v4M578 398v9M578 413v3M578 428v6M578 440v3M578 449v3M578 467v3M578 482v3M578 491v6M578 500v3M578 512v3M578 518v6M578 542v3M578 548v3M578 569v9M578 584v3M578 599v9M578 611v6M578 644v3M578 650v3M578 662v3M612 337v8M612 369v4M612 386v3M612 404v3M612 422v6M612 443v3M612 461v3M612 482v3M612 503v3M612 509v3M612 521v3M612 530v3M612 536v12M612 551v9M612 587v3M612 611v15M612 632v3M612 653v3M612 668v3M612 674v3M612 680v3M612 707v3M646 383v3M646 449v3M646 488v3M646 506v3M646 527v3M646 533v6M646 572v3M646 587v3M646 644v3M680 301v4M680 317v8M680 365v4M680 380v3M680 407v3M680 416v3M680 449v3M680 455v3M680 479v6M680 491v3M680 497v3M680 566v3M680 578v3M680 599v3M680 611v3M680 638v3M680 653v6M680 692v3M714 345v4M714 369v4M714 377v9M714 389v3M714 410v6M714 419v3M714 431v3M714 455v3M714 461v3M714 470v3M714 482v3M714 497v3M714 524v3M714 533v3M714 548v6M714 587v6M714 656v6M714 671v6M714 683v3M748 277v4M748 321v4M748 337v8M748 389v3M748 395v3M748 410v3M748 416v3M748 446v3M748 485v6M748 518v3M748 533v3M748 548v3M748 572v3M748 581v3M748 602v3M748 629v9M748 641v3M748 662v3M748 677v3M748 683v3M748 689v3M782 380v3M782 398v9M782 419v3M782 431v3M782 497v3M782 503v3M782 512v3M782 593v3M782 599v3M782 611v3M782 620v3M782 647v3M816 361v4M816 383v3M816 395v3M816 401v3M816 407v3M816 422v3M816 428v3M816 434v3M816 440v3M816 452v6M816 473v3M816 479v3M816 494v3M816 500v3M816 518v3M816 533v6M816 560v3M816 572v3M816 581v3M816 593v3M816 602v6M816 620v3M816 641v3M816 689v3M850 313v12M850 353v8M850 373v7M850 392v3M850 413v6M850 422v3M850 437v3M850 449v6M850 461v6M850 473v3M850 488v3M850 503v6M850 527v3M850 554v3M850 572v3M850 596v3M850 605v3M850 611v3M850 638v3M850 665v3M850 686v3M884 285v4M884 297v4M884 353v4M884 389v3M884 413v3M884 425v3M884 431v6M884 452v3M884 467v3M884 497v9M884 521v3M884 530v3M884 551v3M884 572v3M884 581v3M884 596v3M884 602v3M884 617v3M884 629v3M884 644v3M884 650v6M884 686v3M918 285v4M918 321v8M918 333v4M918 345v4M918 353v4M918 373v7M918 383v3M918 401v3M918 410v3M918 422v6M918 431v6M918 446v3M918 452v3M918 473v3M918 482v3M918 488v3M918 551v3M918 572v3M918 578v6M918 629v3M918 644v3M918 665v3M918 671v3M918 680v3M952 329v4M952 341v8M952 357v4M952 369v4M952 380v3M952 401v6M952 410v3M952 416v3M952 440v3M952 446v3M952 473v3M952 485v3M952 503v6M952 542v3M952 554v6M952 572v3M952 581v3M952 593v3M952 602v3M952 608v6M952 638v3M952 653v3M952 659v3M952 674v9M986 269v4M986 281v4M986 321v8M986 353v4M986 377v3M986 392v6M986 416v3M986 446v3M986 452v3M986 488v3M986 497v3M986 503v3M986 527v3M986 542v3M986 557v3M986 563v3M986 569v3M986 605v3M986 629v6M986 638v3M986 671v3M986 686v3M986 698v3M1020 380v3M1020 392v3M1020 398v3M1020 413v3M1020 419v3M1020 455v3M1020 461v3M1020 473v3M1020 488v3M1020 497v3M1020 515v3M1020 539v3M1020 584v6M1020 596v3M1020 623v3M1020 635v3M1020 656v6M1054 297v8M1054 317v4M1054 333v4M1054 377v6M1054 410v3M1054 425v6M1054 443v3M1054 473v6M1054 485v3M1054 494v12M1054 512v3M1054 530v3M1054 554v3M1054 563v6M1054 581v6M1054 593v3M1054 599v3M1054 605v3M1054 611v3M1054 623v6M1054 644v3M1054 650v3M1054 662v3M1054 671v3M1054 677v6M1054 692v3M1088 341v4M1088 361v4M1088 369v4M1088 386v3M1088 413v3M1088 419v3M1088 428v3M1088 437v3M1088 449v3M1088 470v6M1088 482v3M1088 569v3M1088 584v3M1088 599v6M1088 611v3M1088 623v6M1088 632v3M1088 644v3M1088 659v3M1088 674v3M1088 683v3M1122 317v4M1122 353v4M1122 398v6M1122 410v6M1122 422v3M1122 431v3M1122 437v3M1122 494v9M1122 506v3M1122 527v3M1122 545v3M1122 557v3M1122 566v3M1122 578v3M1122 587v3M1122 608v3M1122 620v3M1122 629v3M1122 644v6M1122 674v3M1122 686v3M1122 698v3M1156 321v8M1156 361v19M1156 404v6M1156 413v6M1156 431v3M1156 458v3M1156 479v3M1156 488v6M1156 527v12M1156 554v6M1156 572v3M1156 584v3M1156 596v3M1156 608v3M1156 614v3M1156 632v3M1156 641v3M1156 653v6M1156 662v3M1156 677v3M1156 692v3M1156 704v3M1156 722v3M1190 305v4M1190 337v12M1190 361v4M1190 373v7M1190 383v3M1190 392v3M1190 416v9M1190 437v3M1190 446v3M1190 464v3M1190 473v3M1190 485v3M1190 491v3M1190 512v3M1190 542v3M1190 554v6M1190 563v3M1190 584v3M1190 590v9M1190 602v3M1190 608v3M1190 623v3M1190 632v3M1190 650v3M1190 662v3M1190 671v3M1190 677v3M1190 683v3M1190 689v3M1190 698v6M1224 313v4M1224 333v8M1224 345v12M1224 386v6M1224 395v6M1224 404v3M1224 428v3M1224 434v3M1224 443v3M1224 449v6M1224 485v3M1224 491v6M1224 524v3M1224 536v6M1224 560v3M1224 572v3M1224 578v3M1224 590v6M1224 602v3M1224 632v3M1224 674v3M1224 695v3M1224 707v3M1258 369v4M1258 383v3M1258 401v12M1258 419v3M1258 428v3M1258 452v3M1258 461v3M1258 467v3M1258 473v3M1258 500v3M1258 506v3M1258 515v6M1258 530v3M1258 548v6M1258 557v3M1258 566v9M1258 578v6M1258 587v3M1258 596v3M1258 605v3M1258 614v3M1258 629v3M1258 644v3M1258 656v3M1258 674v3M1258 680v3M1258 686v3M1258 716v3M1292 337v4M1292 373v7M1292 389v3M1292 401v3M1292 410v3M1292 422v3M1292 437v6M1292 461v6M1292 470v3M1292 479v6M1292 494v3M1292 500v6M1292 512v6M1292 536v3M1292 545v3M1292 569v9M1292 587v3M1292 599v3M1292 611v3M1292 635v6M1292 662v3M1292 668v6M1292 677v3M1292 701v3M1326 289v8M1326 337v8M1326 377v3M1326 383v3M1326 398v6M1326 428v9M1326 455v3M1326 467v3M1326 491v3M1326 503v3M1326 527v3M1326 539v3M1326 563v3M1326 569v3M1326 575v3M1326 608v3M1326 617v3M1326 629v3M1326 641v6M1326 653v6M1326 677v3M1360 389v3M1360 395v6M1360 404v3M1360 428v3M1360 449v3M1360 455v6M1360 464v3M1360 482v3M1360 500v6M1360 512v3M1360 527v6M1360 542v3M1360 551v3M1360 590v3M1360 596v6M1360 608v3M1360 617v3M1360 632v3M1360 641v3M1360 650v3M1360 665v3M1360 671v3M1360 695v3M1360 704v3M1394 309v4M1394 365v4M1394 386v3M1394 392v3M1394 446v6M1394 464v3M1394 479v6M1394 503v9M1394 572v3M1394 578v3M1394 590v3M1394 599v3M1394 605v3M1394 620v6M1394 629v12M1394 665v12M1394 683v3M1394 689v3M1428 309v4M1428 321v4M1428 349v4M1428 357v4M1428 369v8M1428 383v6M1428 395v3M1428 401v3M1428 410v3M1428 419v3M1428 428v6M1428 446v3M1428 452v6M1428 500v3M1428 518v3M1428 530v6M1428 551v3M1428 590v3M1428 608v6M1428 620v3M1428 638v3M1428 659v3M1428 665v6M1428 674v6M1428 686v3M1428 722v3M1462 329v4M1462 345v4M1462 383v3M1462 401v6M1462 416v9M1462 437v6M1462 461v3M1462 482v3M1462 503v3M1462 512v3M1462 533v3M1462 554v3M1462 593v3M1462 602v3M1462 626v3M1462 632v6M1462 644v9M1462 659v6M1462 671v6M1462 686v3M1496 572v3M1496 626v3M1530 383v3M1530 410v3M1530 467v3M1530 497v3M1530 503v3M1530 509v3M1530 560v6M1530 569v6M1530 578v6M1530 593v3M1530 608v3M1530 632v6M1530 641v3M1530 653v3M1564 401v3M1564 431v3M1564 443v3M1564 500v3M1564 614v3M1564 665v3M1598 383v6M1598 464v6M1598 509v3M1598 515v3M1598 524v3M1598 596v3M1598 614v3M1598 626v3M1598 668v6M1632 333v4M1632 369v4M1632 380v3M1632 407v3M1632 452v3M1632 473v3M1632 494v3M1632 521v3M1632 545v3M1632 578v3M1632 614v6M1632 626v3M1632 653v3M1632 662v3M1632 674v3M1632 689v3"/>
<path stroke="#ff6700" d="M34 281v4M0 281v4M34 305v4M0 305v4M34 313v4M0 313v4M34 325v4M0 325v4M34 337v12M0 337v12M34 353v8M0 353v8M34 365v4M0 365v4M34 383v6M0 383v6M34 395v3M0 395v3M34 419v3M0 419v3M34 428v3M0 428v3M34 437v3M0 437v3M34 458v3M0 458v3M34 536v3M0 536v3M34 566v6M0 566v6M34 584v3M0 584v3M34 590v3M0 590v3M34 599v3M0 599v3M34 620v3M0 620v3M34 632v3M0 632v3M34 647v3M0 647v3M34 662v3M0 662v3M34 668v3M0 668v3M34 677v3M0 677v3M34 698v3M0 698v3M34 704v3M0 704v3M68 265v4M68 313v8M68 325v8M68 345v4M68 357v4M68 383v6M68 404v3M68 434v3M68 461v3M68 497v3M68 509v3M68 518v3M68 551v3M68 566v3M68 575v3M68 584v3M68 593v3M68 614v3M68 662v6M68 671v3M68 677v9M68 704v3M102 269v4M102 289v4M102 313v4M102 341v4M102 361v4M102 373v4M102 410v3M102 422v3M102 434v3M102 443v3M102 452v3M102 461v3M102 476v3M102 494v6M102 503v3M102 527v6M102 614v3M102 620v9M102 632v3M102 650v3M102 662v3M102 671v6M102 680v3M102 689v3M102 701v3M136 313v4M136 337v4M136 349v4M136 369v4M136 380v3M136 404v3M136 686v3M136 701v3M136 713v3M136 725v3M136 740v3M170 301v4M170 341v8M170 701v3M170 725v3M170 734v3M204 281v4M204 305v12M204 325v4M204 333v4M204 785v14M238 229v4M238 237v4M238 269v4M238 807v4M238 815v4M238 827v4M238 835v4M272 158v5M272 177v4M272 185v4M272 193v12M272 879v10M306 329v4M306 337v8M306 353v4M306 380v3M306 392v3M306 437v6M306 479v3M306 491v6M306 518v3M306 533v6M306 548v9M306 572v3M306 590v6M306 602v6M306 614v3M306 626v9M306 641v6M306 683v3M340 345v4M340 380v3M340 416v6M340 440v3M340 446v3M340 461v3M340 467v3M340 473v3M340 509v3M340 536v3M340 542v3M340 551v3M340 560v6M340 611v9M340 626v3M340 638v6M340 650v3M340 695v3M374 361v4M374 386v3M374 395v3M374 401v9M374 416v3M374 434v3M374 440v3M374 467v3M374 482v3M374 491v3M374 503v3M374 515v3M374 533v3M374 539v3M374 548v3M374 554v3M374 566v3M374 575v3M374 581v6M374 611v3M374 626v3M374 650v3M374 656v9M374 668v3M374 677v3M374 686v3M408 365v4M408 386v3M408 410v6M408 425v3M408 473v3M408 488v6M408 515v3M408 527v6M408 542v6M408 551v6M408 560v3M408 569v3M408 581v3M408 626v3M408 641v6M408 659v3M408 686v3M442 401v3M442 407v3M442 413v3M442 425v6M442 437v9M442 449v3M442 467v9M442 482v3M442 512v3M442 524v3M442 536v3M442 542v15M442 566v6M442 578v3M442 584v6M442 593v3M442 599v3M442 611v3M442 623v6M442 632v3M442 644v3M476 341v4M476 361v4M476 373v4M476 386v3M476 392v3M476 398v3M476 404v3M476 413v3M476 419v6M476 443v6M476 461v3M476 470v3M476 479v6M476 503v3M476 515v6M476 551v12M476 587v3M476 602v9M476 641v3M476 650v3M476 656v3M476 665v3M476 683v3M476 692v3M510 289v4M510 345v4M510 361v4M510 377v3M510 389v9M510 401v3M510 407v3M510 416v12M510 446v3M510 458v6M510 485v3M510 494v3M510 530v3M510 542v3M510 551v3M510 569v3M510 587v3M510 599v3M510 605v3M510 617v3M510 629v3M510 641v3M510 662v3M544 345v4M544 413v3M544 434v3M544 461v3M544 512v3M544 518v3M544 539v3M544 545v3M544 563v3M544 575v3M544 587v3M544 596v3M544 605v3M544 623v3M544 629v3M544 653v3M544 665v3M578 369v4M578 416v3M578 455v6M578 464v3M578 497v3M578 506v3M578 524v3M578 530v3M578 545v3M578 551v3M578 557v3M578 566v3M578 608v3M578 626v3M578 638v3M578 647v3M578 659v3M578 683v3M612 329v4M612 413v3M612 428v3M612 437v3M612 455v6M612 467v3M612 479v3M612 491v3M612 500v3M612 524v3M612 563v9M612 593v3M612 605v3M612 638v3M612 644v3M612 659v3M646 377v3M646 479v3M646 524v3M646 638v6M646 677v3M646 683v3M680 341v4M680 357v4M680 377v3M680 404v3M680 413v3M680 443v6M680 452v3M680 464v3M680 470v3M680 503v3M680 518v3M680 527v3M680 533v3M680 548v9M680 581v3M680 596v3M680 605v6M680 614v3M680 629v3M680 668v3M680 680v6M714 398v3M714 422v9M714 437v3M714 449v6M714 473v3M714 494v3M714 512v9M714 527v3M714 536v6M714 557v3M714 569v3M714 578v3M714 602v6M714 611v3M714 620v6M714 635v3M714 644v9M714 692v3M714 698v3M748 305v4M748 345v4M748 357v4M748 377v3M748 386v3M748 422v6M748 434v12M748 452v3M748 461v6M748 476v3M748 509v6M748 524v9M748 551v6M748 560v3M748 578v3M748 587v6M748 605v3M748 611v9M748 623v6M748 644v6M748 665v3M782 410v3M782 485v3M782 494v3M782 518v3M782 545v3M782 644v3M816 341v4M816 491v3M816 497v3M816 506v3M816 542v6M816 575v6M816 584v3M816 590v3M816 617v3M816 632v3M816 683v3M850 309v4M850 369v4M850 404v3M850 428v3M850 434v3M850 443v3M850 455v3M850 467v3M850 500v3M850 521v3M850 530v6M850 542v3M850 560v6M850 578v3M850 590v3M850 599v6M850 620v3M850 629v6M850 662v3M850 683v3M850 689v3M884 380v3M884 428v3M884 437v3M884 446v3M884 455v3M884 470v3M884 479v3M884 491v3M884 506v3M884 515v3M884 524v6M884 548v3M884 575v3M884 608v3M884 623v3M884 632v6M884 662v9M884 701v3M918 305v4M918 361v4M918 395v6M918 407v3M918 416v6M918 428v3M918 437v3M918 455v3M918 467v6M918 476v6M918 500v6M918 512v3M918 518v3M918 542v6M918 557v3M918 563v3M918 575v3M918 584v3M918 596v6M918 605v3M918 623v3M918 638v6M918 650v3M918 659v3M918 683v3M918 704v3M952 309v4M952 333v4M952 349v4M952 365v4M952 373v7M952 386v3M952 392v3M952 398v3M952 419v3M952 437v3M952 452v6M952 467v3M952 479v3M952 491v9M952 512v3M952 518v3M952 536v3M952 551v3M952 596v3M952 617v3M952 635v3M952 641v3M952 650v3M952 668v3M952 683v3M986 333v4M986 357v8M986 389v3M986 398v6M986 425v3M986 455v3M986 461v3M986 467v3M986 479v3M986 491v3M986 515v3M986 521v3M986 539v3M986 572v3M986 581v3M986 596v3M986 602v3M986 608v9M986 626v3M986 665v3M986 683v3M1020 425v3M1020 431v3M1020 464v3M1020 485v3M1020 491v3M1020 518v3M1020 581v3M1020 593v3M1020 605v3M1020 620v3M1020 641v3M1020 662v3M1054 325v4M1054 398v6M1054 434v6M1054 461v3M1054 488v3M1054 509v3M1054 521v3M1054 533v3M1054 545v3M1054 551v3M1054 560v3M1054 578v3M1054 602v3M1054 641v3M1054 659v3M1054 668v3M1088 365v4M1088 383v3M1088 395v3M1088 401v3M1088 410v3M1088 422v3M1088 440v3M1088 464v3M1088 476v3M1088 488v3M1088 500v3M1088 527v3M1088 545v3M1088 551v6M1088 572v9M1088 587v12M1088 620v3M1088 629v3M1088 635v3M1088 641v3M1088 650v3M1088 662v3M1122 337v4M1122 345v4M1122 392v6M1122 404v3M1122 428v3M1122 440v6M1122 461v3M1122 479v6M1122 521v3M1122 530v3M1122 560v6M1122 569v3M1122 584v3M1122 596v3M1122 602v6M1122 617v3M1122 638v3M1122 653v3M1122 659v3M1122 665v6M1156 383v3M1156 395v3M1156 401v3M1156 422v9M1156 434v3M1156 443v3M1156 461v12M1156 476v3M1156 482v3M1156 494v9M1156 512v9M1156 551v3M1156 563v3M1156 581v3M1156 587v3M1156 602v3M1156 611v3M1156 620v3M1156 629v3M1156 644v6M1156 665v3M1190 349v4M1190 357v4M1190 428v6M1190 455v6M1190 479v3M1190 494v6M1190 506v3M1190 536v3M1190 551v3M1190 566v6M1190 575v3M1190 605v3M1190 620v3M1190 656v3M1190 674v3M1224 317v4M1224 401v3M1224 419v3M1224 461v3M1224 488v3M1224 506v3M1224 566v6M1224 581v3M1224 596v6M1224 614v3M1224 629v3M1224 635v6M1224 644v3M1224 656v3M1224 680v3M1258 361v4M1258 395v3M1258 431v3M1258 440v3M1258 455v3M1258 470v3M1258 491v3M1258 509v3M1258 524v6M1258 545v3M1258 554v3M1258 560v3M1258 575v3M1258 590v3M1258 608v3M1258 620v9M1258 647v3M1258 668v6M1292 325v4M1292 353v4M1292 407v3M1292 425v3M1292 434v3M1292 443v6M1292 467v3M1292 521v6M1292 581v3M1292 608v3M1292 617v6M1292 629v3M1292 641v3M1292 647v3M1292 656v6M1292 674v3M1292 686v3M1326 325v4M1326 333v4M1326 357v12M1326 392v3M1326 407v3M1326 440v3M1326 449v3M1326 458v3M1326 470v3M1326 482v3M1326 506v6M1326 518v6M1326 530v3M1326 542v6M1326 560v3M1326 566v3M1326 587v9M1326 602v6M1326 611v3M1326 728v3M1360 349v4M1360 377v3M1360 431v9M1360 470v3M1360 476v6M1360 485v3M1360 497v3M1360 515v6M1360 536v3M1360 545v6M1360 563v3M1360 572v6M1360 587v3M1360 593v3M1360 611v3M1360 623v9M1360 635v3M1394 321v4M1394 377v3M1394 413v3M1394 422v3M1394 428v3M1394 434v3M1394 455v3M1394 515v3M1394 521v6M1394 542v3M1394 548v3M1394 569v3M1394 584v3M1394 602v3M1394 608v3M1394 617v3M1394 644v9M1394 662v3M1394 722v3M1428 361v4M1428 398v3M1428 416v3M1428 425v3M1428 434v6M1428 449v3M1428 464v3M1428 470v3M1428 485v3M1428 494v3M1428 506v9M1428 536v3M1428 542v3M1428 548v3M1428 554v3M1428 575v3M1428 584v6M1428 623v3M1428 641v6M1428 653v3M1428 662v3M1428 671v3M1428 683v3M1428 692v3M1428 704v3M1462 321v4M1462 337v4M1462 410v3M1462 428v3M1462 443v3M1462 455v6M1462 464v3M1462 473v3M1462 530v3M1462 536v3M1462 545v3M1462 566v9M1462 596v3M1462 605v3M1530 431v3M1530 470v6M1530 506v3M1530 512v3M1530 536v3M1530 545v3M1530 557v3M1530 587v6M1530 602v3M1530 614v3M1530 665v3M1564 461v3M1564 671v3M1598 392v3M1598 446v3M1598 506v3M1598 563v3M1598 644v3M1598 653v3M1632 488v3M1632 518v3M1632 539v3M1632 587v3M1632 596v3M1632 602v3M1632 611v3M1632 623v3M1632 647v3"/>
<path stroke="#ff5c00" d="M34 329v8M0 329v8M34 349v4M0 349v4M34 361v4M0 361v4M34 369v8M0 369v8M34 380v3M0 380v3M34 389v3M0 389v3M34 398v3M0 398v3M34 410v3M0 410v3M34 416v3M0 416v3M34 425v3M0 425v3M34 440v9M0 440v9M34 452v3M0 452v3M34 461v3M0 461v3M34 476v6M0 476v6M34 509v3M0 509v3M34 521v3M0 521v3M34 530v3M0 530v3M34 542v3M0 542v3M34 587v3M0 587v3M34 608v3M0 608v3M34 617v3M0 617v3M34 644v3M0 644v3M34 653v6M0 653v6M34 674v3M0 674v3M34 686v3M0 686v3M34 692v3M0 692v3M34 701v3M0 701v3M68 281v4M68 377v6M68 395v3M68 419v3M68 440v6M68 470v6M68 485v12M68 506v3M68 512v3M68 521v3M68 530v3M68 536v6M68 548v3M68 554v6M68 572v3M68 581v3M68 587v3M68 599v3M68 605v3M68 617v3M68 626v3M68 641v6M68 656v3M68 689v6M102 357v4M102 369v4M102 383v3M102 392v3M102 401v3M102 407v3M102 419v3M102 425v6M102 437v3M102 455v3M102 470v3M102 479v9M102 512v3M102 533v3M102 539v6M102 551v3M102 575v3M102 587v3M102 593v3M102 605v3M102 611v3M102 629v3M102 635v3M102 665v3M102 683v3M136 309v4M136 333v4M136 345v4M136 353v16M136 383v3M136 617v3M136 671v3M136 677v6M136 728v3M170 333v4M170 365v4M170 401v3M170 419v3M170 680v3M170 686v3M170 695v3M170 707v6M170 719v6M170 728v3M204 277v4M204 297v4M204 337v4M238 249v4M238 257v8M238 273v4M238 289v4M238 803v4M238 811v4M238 895v1M272 189v4M272 209v12M272 229v4M272 863v4M272 871v8M272 889v2M306 383v3M306 401v3M306 407v3M306 419v6M306 482v6M306 503v3M306 521v3M306 542v3M306 557v3M306 575v3M306 581v3M306 587v3M306 608v3M306 620v3M306 638v3M306 656v3M306 662v3M340 289v4M340 377v3M340 410v6M340 482v15M340 500v3M340 515v6M340 524v3M340 539v3M340 545v3M340 557v3M340 593v3M340 605v3M340 635v3M340 644v3M340 674v3M374 446v3M374 461v3M374 473v3M374 488v3M374 497v6M374 536v3M374 545v3M374 563v3M374 608v3M374 617v3M374 647v3M374 653v3M374 680v3M408 361v4M408 404v3M408 446v3M408 461v3M408 539v3M408 605v3M442 380v3M442 389v3M442 410v3M442 461v3M442 485v3M442 491v3M442 533v3M442 590v3M442 608v3M442 629v3M442 650v3M442 692v3M476 377v6M476 401v3M476 437v3M476 449v3M476 491v3M476 500v3M476 506v3M476 530v6M476 542v6M476 563v3M476 584v3M476 590v3M476 599v3M476 611v3M476 623v6M476 638v3M510 321v4M510 373v4M510 398v3M510 467v3M510 482v3M510 491v3M510 497v3M510 503v3M510 512v3M510 518v6M510 539v3M510 554v3M510 560v3M510 566v3M510 578v3M510 593v3M510 635v3M510 674v3M544 395v3M544 407v3M544 422v3M544 482v3M544 521v3M544 569v6M544 614v3M544 644v3M544 668v3M578 392v3M578 485v3M578 503v3M578 533v3M578 560v6M612 401v3M612 434v3M612 497v3M612 527v3M680 325v4M680 369v4M680 389v6M680 398v3M680 440v3M680 467v3M680 494v3M680 512v3M680 524v3M680 545v3M680 557v9M680 584v3M680 590v3M680 626v3M680 632v3M680 659v9M714 349v4M714 386v3M714 440v9M714 458v3M714 467v3M714 491v3M714 500v3M714 506v3M714 521v3M714 530v3M714 542v3M714 608v3M714 641v3M748 401v6M748 413v3M748 431v3M748 449v3M748 473v3M748 491v3M748 515v3M748 536v9M748 557v3M748 563v6M748 584v3M748 596v3M748 620v3M748 638v3M748 650v3M748 671v6M782 422v3M782 452v3M782 557v3M782 596v3M816 410v3M816 437v3M816 476v3M816 482v3M816 488v3M816 515v3M816 521v3M816 614v3M816 623v3M816 644v3M850 431v3M850 440v3M850 458v3M850 476v6M850 485v3M850 494v3M850 512v9M850 536v3M850 575v3M850 581v3M850 617v3M850 623v3M850 635v3M850 641v3M850 659v3M850 671v6M884 345v4M884 458v6M884 488v3M884 494v3M884 560v3M884 599v3M884 611v3M884 620v3M884 647v3M918 389v6M918 440v6M918 464v3M918 497v3M918 509v3M918 515v3M918 521v3M918 530v3M918 560v3M918 590v3M918 602v3M918 614v6M918 647v3M918 656v3M952 353v4M952 422v3M952 428v3M952 434v3M952 470v3M952 509v3M952 515v3M952 527v9M952 545v3M952 563v3M952 599v3M952 629v3M952 647v3M952 662v6M986 329v4M986 365v4M986 407v3M986 440v3M986 464v3M986 482v3M986 500v3M986 506v6M986 524v3M986 545v3M986 560v3M986 578v3M986 593v3M986 620v6M986 656v3M1020 548v3M1020 572v6M1020 632v3M1054 349v4M1054 361v4M1054 431v3M1054 440v3M1054 467v3M1054 482v3M1054 524v3M1054 536v6M1054 548v3M1054 572v3M1054 590v3M1054 608v3M1054 629v9M1054 647v3M1088 389v3M1088 404v3M1088 446v3M1088 455v6M1088 506v3M1088 518v3M1088 533v6M1088 548v3M1088 563v6M1088 605v3M1088 656v3M1122 357v4M1122 419v3M1122 434v3M1122 458v3M1122 464v6M1122 473v3M1122 485v6M1122 509v3M1122 515v3M1122 533v3M1122 542v3M1122 548v6M1122 572v3M1122 599v3M1122 626v3M1122 632v6M1122 650v3M1122 656v3M1156 386v6M1156 440v3M1156 449v6M1156 509v3M1156 545v3M1156 590v6M1156 599v3M1156 623v3M1156 683v3M1190 380v3M1190 398v3M1190 410v3M1190 434v3M1190 470v3M1190 476v3M1190 509v3M1190 524v6M1190 533v3M1190 539v3M1190 548v3M1190 572v3M1190 578v6M1190 611v3M1190 617v3M1190 653v3M1224 425v3M1224 458v3M1224 464v3M1224 512v12M1224 527v3M1224 542v3M1224 548v3M1224 587v3M1224 608v3M1224 617v6M1224 626v3M1224 650v3M1258 413v3M1258 464v3M1258 485v6M1258 536v3M1258 563v3M1258 662v3M1292 361v4M1292 449v3M1292 473v3M1292 497v3M1292 527v3M1292 542v3M1292 551v6M1292 566v3M1292 578v3M1292 584v3M1292 614v3M1292 698v3M1326 373v4M1326 380v3M1326 395v3M1326 404v3M1326 422v6M1326 446v3M1326 452v3M1326 464v3M1326 473v3M1326 485v3M1326 494v6M1326 524v3M1326 551v6M1326 578v6M1326 620v3M1326 635v6M1326 668v3M1360 365v4M1360 373v4M1360 392v3M1360 413v3M1360 446v3M1360 509v3M1360 524v3M1360 539v3M1360 557v3M1360 602v3M1360 674v3M1394 407v3M1394 419v3M1394 437v6M1394 458v3M1394 485v6M1394 497v3M1394 527v9M1394 539v3M1394 545v3M1394 551v3M1394 566v3M1394 575v3M1394 596v3M1394 614v3M1394 659v3M1428 345v4M1428 407v3M1428 479v3M1428 491v3M1428 515v3M1428 557v3M1428 563v3M1428 596v3M1428 605v3M1428 614v3M1428 626v12M1428 650v3M1428 656v3M1462 413v3M1462 449v3M1462 488v6M1462 500v3M1462 515v6M1462 524v3M1462 548v3M1462 623v3M1462 629v3M1462 665v3M1462 689v3M1530 425v3M1530 452v3M1530 479v3M1530 485v6M1530 500v3M1530 515v3M1530 554v3M1530 611v3M1632 533v3"/>
<path stroke="#ff4700" d="M34 392v3M0 392v3M34 413v3M0 413v3M34 422v3M0 422v3M34 434v3M0 434v3M34 482v3M0 482v3M34 503v3M0 503v3M34 512v3M0 512v3M34 518v3M0 518v3M34 545v3M0 545v3M34 551v3M0 551v3M34 563v3M0 563v3M34 623v6M0 623v6M34 650v3M0 650v3M68 398v3M68 410v6M68 422v3M68 446v6M68 476v3M68 500v6M68 527v3M68 542v6M68 560v6M68 590v3M68 620v3M68 632v9M68 650v3M68 668v3M102 317v4M102 380v3M102 389v3M102 404v3M102 416v3M102 431v3M102 446v3M102 464v3M102 500v3M102 506v6M102 515v3M102 521v3M102 545v3M102 554v3M102 560v3M102 578v3M102 584v3M102 617v3M102 638v6M136 386v6M136 395v9M136 407v3M136 446v6M136 473v3M136 488v3M136 497v3M136 548v3M136 575v3M136 587v3M136 593v3M136 608v3M136 623v6M136 635v3M136 653v6M136 662v3M136 668v3M136 674v3M170 353v4M170 361v4M170 373v4M170 392v3M170 407v3M170 416v3M170 431v3M170 461v3M170 530v3M170 671v9M170 698v3M170 713v6M170 743v3M204 301v4M204 321v4M204 345v4M204 357v4M204 369v4M204 383v3M204 767v3M204 782v3M238 253v4M238 285v4M238 313v4M238 795v4M272 253v8M272 867v4M306 413v3M306 428v3M306 467v6M306 497v6M306 506v3M306 512v3M306 560v3M306 623v3M340 369v4M340 386v3M340 398v6M340 431v3M340 449v3M340 497v3M340 503v3M340 530v3M340 548v3M340 584v3M340 599v3M340 629v3M340 671v3M374 431v3M374 437v3M374 494v3M374 527v3M374 614v3M374 620v3M408 563v3M408 635v3M442 392v3M442 431v3M442 452v6M442 479v3M442 494v9M442 557v3M442 581v3M442 665v3M476 425v3M476 476v3M476 497v3M476 509v6M476 521v3M476 575v3M476 662v3M510 369v4M510 410v3M510 434v6M510 473v6M510 488v3M510 506v3M510 545v3M510 581v3M510 647v3M510 659v3M544 446v3M544 458v3M544 533v3M544 608v3M544 632v3M578 361v4M578 653v3M612 407v3M612 449v3M612 485v3M612 506v3M612 608v3M612 650v3M680 353v4M680 473v3M680 485v6M680 509v3M680 515v3M680 536v6M680 572v6M680 641v3M714 554v3M714 581v6M714 599v3M714 626v3M714 632v3M714 638v3M748 353v4M748 419v3M748 494v6M748 503v3M748 521v3M748 593v3M748 608v3M816 503v3M816 662v3M816 704v3M850 386v3M850 491v3M850 539v3M850 566v6M850 584v3M850 593v3M850 644v6M884 542v3M884 554v3M884 584v6M884 605v3M884 641v3M918 449v3M918 458v3M918 485v3M918 494v3M918 533v3M918 554v3M918 569v3M918 587v3M918 593v3M918 632v6M918 653v3M952 431v3M952 443v3M952 482v3M952 548v3M952 560v3M952 569v3M952 626v3M952 632v3M986 386v3M986 413v3M986 434v3M986 443v3M986 449v3M986 473v6M986 485v3M986 566v3M986 575v3M986 590v3M986 599v3M986 653v3M986 662v3M1020 428v3M1020 638v3M1054 413v3M1054 569v3M1054 587v3M1054 617v3M1054 638v3M1088 515v3M1088 557v3M1088 638v3M1088 647v3M1122 383v3M1122 416v3M1122 512v3M1122 518v3M1122 536v3M1122 554v3M1122 611v3M1156 473v3M1156 503v6M1156 521v3M1156 539v3M1156 575v3M1156 605v3M1156 626v3M1190 389v3M1190 452v3M1190 488v3M1190 515v9M1190 530v3M1190 629v3M1190 635v3M1190 644v6M1224 482v3M1224 497v3M1224 623v3M1258 443v3M1258 521v3M1292 518v3M1292 539v3M1292 560v3M1292 596v3M1292 605v3M1292 623v3M1292 650v3M1326 410v6M1326 476v3M1326 488v3M1326 500v3M1326 512v6M1326 533v6M1326 572v3M1326 584v3M1326 623v6M1326 647v3M1360 321v4M1360 401v3M1360 407v3M1360 443v3M1360 506v3M1360 521v3M1360 578v3M1360 584v3M1360 620v3M1360 644v3M1394 329v4M1394 353v4M1394 410v3M1394 476v3M1394 491v3M1394 518v3M1394 557v3M1394 563v3M1394 641v3M1428 404v3M1428 458v3M1428 482v3M1428 539v3M1428 569v6M1428 617v3M1462 470v3M1462 587v3M1462 599v3M1462 608v3M1598 491v3M1632 515v3"/>
<path stroke="#ff2f00" d="M34 377v3M0 377v3M34 455v3M0 455v3M34 464v6M0 464v6M34 485v3M0 485v3M34 491v3M0 491v3M34 497v3M0 497v3M34 506v3M0 506v3M34 515v3M0 515v3M34 527v3M0 527v3M34 539v3M0 539v3M34 548v3M0 548v3M34 554v3M0 554v3M34 575v6M0 575v6M34 593v3M0 593v3M34 605v3M0 605v3M34 614v3M0 614v3M34 629v3M0 629v3M34 635v9M0 635v9M34 659v3M0 659v3M68 392v3M68 452v6M68 602v3M68 608v3M68 629v3M68 659v3M102 398v3M102 449v3M102 458v3M102 467v3M102 473v3M102 488v3M102 536v3M102 557v3M102 581v3M102 596v3M102 644v3M102 656v3M136 392v3M136 410v12M136 425v3M136 434v3M136 440v6M136 458v3M136 476v3M136 485v3M136 491v6M136 503v6M136 518v3M136 539v3M136 551v3M136 557v6M136 584v3M136 590v3M136 596v3M136 602v3M136 614v3M136 620v3M136 629v3M136 638v3M136 647v6M136 659v3M136 683v3M170 357v4M170 377v9M170 404v3M170 410v3M170 443v3M170 467v3M170 482v3M170 491v3M170 506v6M170 521v3M170 533v3M170 548v3M170 554v3M170 587v3M170 596v3M170 602v3M170 614v3M170 635v6M170 662v3M170 689v3M170 704v3M204 329v4M204 341v4M204 353v4M204 395v3M204 401v3M204 410v3M204 773v3M204 779v3M238 265v4M238 277v8M238 301v4M238 325v4M238 333v4M238 773v3M238 785v6M272 221v8M272 233v20M272 285v4M272 855v4M306 596v3M340 404v3M340 479v3M374 422v3M374 572v3M374 596v3M408 518v3M442 446v3M442 488v3M442 503v3M442 509v3M476 440v3M476 536v6M476 596v3M476 614v3M510 470v3M510 527v3M510 572v3M510 590v3M612 626v3M680 593v3M680 602v3M714 464v3M714 485v3M714 509v3M714 566v3M714 593v3M748 545v3M748 668v3M850 497v3M884 536v3M884 557v3M918 491v3M918 539v3M918 608v6M918 662v3M952 464v3M952 584v3M986 345v4M986 431v3M986 437v3M986 518v3M986 551v6M1020 536v3M1088 530v3M1122 452v3M1122 581v3M1156 437v3M1156 485v3M1156 578v3M1190 503v3M1190 599v3M1292 485v3M1292 593v3M1326 389v3M1326 437v3M1326 614v3M1360 491v3M1360 560v3M1394 512v3M1394 593v3M1428 440v3M1428 566v3M1428 581v3M1462 479v3"/>
<path stroke="#ff0a00" d="M34 401v3M0 401v3M34 470v3M0 470v3M34 524v3M0 524v3M34 581v3M0 581v3M34 596v3M0 596v3M34 602v3M0 602v3M68 623v3M102 548v3M102 569v3M136 422v3M136 428v6M136 461v3M136 467v3M136 479v3M136 515v3M136 521v3M136 527v3M136 533v6M136 542v3M136 554v3M136 563v3M136 569v6M136 581v3M136 599v3M136 605v3M136 632v3M136 644v3M170 386v6M170 395v6M170 413v3M170 425v3M170 446v6M170 458v3M170 470v6M170 485v3M170 494v3M170 512v6M170 536v9M170 557v3M170 563v6M170 572v6M170 581v3M170 593v3M170 623v6M170 632v3M170 641v9M170 653v6M170 683v3M170 692v3M204 349v4M204 361v4M204 386v6M204 398v3M204 428v6M204 464v3M204 575v3M204 602v3M204 689v3M204 701v3M204 770v3M204 776v3M238 297v4M238 305v4M238 764v3M238 782v3M272 261v4M272 269v16M272 301v4M272 309v4M272 843v4M272 851v4M272 859v4M340 470v3M340 527v3M374 521v3M442 404v3M476 485v3M544 548v3M748 479v3M918 461v3M918 566v3M918 626v3M952 587v3M986 617v3M1054 449v3M1088 497v3M1224 641v3M1326 599v3M1394 626v3"/>
<path stroke="#f00" d="M34 431v3M0 431v3M68 596v3M102 491v3M102 566v3M136 437v3M136 452v6M136 464v3M136 470v3M136 482v3M136 500v3M136 512v3M136 524v3M136 530v3M136 545v3M136 611v3M136 641v3M170 422v3M170 428v3M170 434v3M170 452v6M170 464v3M170 479v3M170 497v9M170 524v6M170 545v3M170 551v3M170 560v3M170 578v3M170 584v3M170 590v3M170 608v3M170 617v3M170 659v3M170 665v3M204 365v4M204 377v6M204 404v6M204 413v3M204 425v3M204 434v3M204 449v3M204 461v3M204 467v3M204 473v6M204 494v3M204 500v3M204 596v3M204 632v6M204 683v6M204 710v6M204 728v3M204 749v3M204 755v6M204 764v3M238 293v4M238 309v4M238 349v4M238 770v3M238 779v3M238 791v4M272 265v4M272 293v8M272 827v12M272 847v4M272 895v1M986 536v3"/>
<path stroke="#f00" d="M34 533v3M0 533v3M136 509v3M136 566v3M136 578v3M170 437v6M170 476v3M170 488v3M170 569v3M170 599v3M170 605v3M170 611v3M170 620v3M170 650v3M170 668v3M204 373v4M204 392v3M204 416v3M204 422v3M204 437v6M204 446v3M204 458v3M204 479v6M204 515v3M204 527v12M204 551v6M204 563v3M204 569v3M204 599v3M204 614v6M204 641v6M204 653v3M204 671v3M204 704v6M204 722v3M204 731v18M204 761v3M238 317v8M238 329v4M238 341v4M238 353v4M238 361v8M238 377v3M238 728v3M238 749v6M238 758v3M238 767v3M238 776v3M272 289v4M272 325v4M272 333v4M272 791v4M272 803v4M272 839v4M272 891v4"/>
<path stroke="#fa0000" d="M170 518v3M170 629v3M204 419v3M204 443v3M204 452v6M204 470v3M204 485v6M204 497v3M204 503v12M204 521v6M204 539v3M204 545v3M204 557v6M204 578v9M204 590v6M204 608v6M204 626v3M204 638v3M204 647v3M204 656v9M204 674v6M204 692v9M204 716v6M204 725v3M238 337v4M238 369v8M238 404v3M238 731v3M238 755v3M238 761v3M272 305v4M272 317v4M272 329v4M272 337v12M272 353v8M272 807v20"/>
<path stroke="#e60000" d="M204 491v3M204 518v3M204 548v3M204 572v3M204 587v3M204 605v3M204 629v3M204 665v3M204 680v3M204 752v3M238 345v4M238 357v4M238 380v9M238 392v3M238 398v3M238 410v9M238 422v6M238 437v3M238 506v6M238 521v3M238 599v3M238 629v6M238 638v3M238 644v3M238 650v3M238 656v3M238 674v6M238 683v3M238 692v6M238 701v3M238 710v6M238 719v3M238 725v3M238 734v15M272 313v4M272 361v12M272 380v3M272 785v6M272 795v8"/>
<path stroke="#ce0000" d="M204 566v3M204 620v6M204 668v3M238 395v3M238 401v3M238 407v3M238 419v3M238 428v9M238 440v66M238 512v6M238 524v18M238 545v6M238 554v18M238 575v3M238 581v18M238 602v9M238 614v12M238 635v3M238 641v3M238 647v3M238 653v3M238 659v15M238 680v3M238 686v6M238 698v3M238 704v6M238 716v3M238 722v3M272 321v4M272 349v4M272 373v7M272 383v6M272 392v3M272 398v9M272 416v3M272 428v3M272 434v3M272 440v3M272 452v3M272 461v3M272 467v3M272 482v9M272 494v6M272 503v9M272 518v6M272 527v3M272 536v3M272 548v6M272 557v12M272 572v6M272 581v6M272 593v3M272 614v21M272 641v3M272 647v15M272 668v3M272 677v18M272 701v9M272 716v3M272 722v3M272 728v9M272 740v6M272 749v6M272 764v3M272 770v6M272 782v3"/>
<path stroke="#b00" d="M204 542v3M204 650v3M238 389v3M238 518v3M238 542v3M238 551v3M238 572v3M238 578v3M238 611v3M238 626v3M272 389v3M272 395v3M272 407v9M272 419v9M272 431v3M272 437v3M272 443v9M272 455v6M272 464v3M272 470v12M272 491v3M272 500v3M272 512v6M272 524v3M272 530v6M272 539v9M272 554v3M272 569v3M272 578v3M272 587v6M272 596v18M272 635v6M272 644v3M272 662v6M272 671v6M272 695v6M272 710v6M272 719v3M272 725v3M272 737v3M272 746v3M272 755v9M272 767v3M272 776v6"/>
</g></g>
</g>
<g shape-rendering="crispEdges"><rect x="166" y="186" width="4" height="609" fill="#000"/><rect x="1186" y="186" width="4" height="609" fill="#000"/><rect x="148" y="197" width="1061" height="3" fill="#000"/><rect x="148" y="782" width="1061" height="3" fill="#000"/><rect x="166" y="186" width="4" height="11" fill="#000"/><rect x="166" y="785" width="4" height="10" fill="#000"/><rect x="251" y="192" width="4" height="5" fill="#000"/><rect x="251" y="785" width="4" height="4" fill="#000"/><rect x="336" y="192" width="4" height="5" fill="#000"/><rect x="336" y="785" width="4" height="4" fill="#000"/><rect x="421" y="186" width="4" height="11" fill="#000"/><rect x="421" y="785" width="4" height="10" fill="#000"/><rect x="506" y="192" width="4" height="5" fill="#000"/><rect x="506" y="785" width="4" height="4" fill="#000"/><rect x="591" y="192" width="4" height="5" fill="#000"/><rect x="591" y="785" width="4" height="4" fill="#000"/><rect x="676" y="186" width="4" height="11" fill="#000"/><rect x="676" y="785" width="4" height="10" fill="#000"/><rect x="761" y="192" width="4" height="5" fill="#000"/><rect x="761" y="785" width="4" height="4" fill="#000"/><rect x="846" y="192" width="4" height="5" fill="#000"/><rect x="846" y="785" width="4" height="4" fill="#000"/><rect x="931" y="186" width="4" height="11" fill="#000"/><rect x="931" y="785" width="4" height="10" fill="#000"/><rect x="1016" y="192" width="4" height="5" fill="#000"/><rect x="1016" y="785" width="4" height="4" fill="#000"/><rect x="1101" y="192" width="4" height="5" fill="#000"/><rect x="1101" y="785" width="4" height="4" fill="#000"/><rect x="1186" y="186" width="4" height="11" fill="#000"/><rect x="1186" y="785" width="4" height="10" fill="#000"/><rect x="148" y="281" width="18" height="3" fill="#000"/><rect x="1190" y="281" width="19" height="3" fill="#000"/><rect x="148" y="364" width="18" height="3" fill="#000"/><rect x="1190" y="364" width="19" height="3" fill="#000"/><rect x="148" y="448" width="18" height="3" fill="#000"/><rect x="1190" y="448" width="19" height="3" fill="#000"/><rect x="148" y="531" width="18" height="3" fill="#000"/><rect x="1190" y="531" width="19" height="3" fill="#000"/><rect x="148" y="615" width="18" height="3" fill="#000"/><rect x="1190" y="615" width="19" height="3" fill="#000"/><rect x="148" y="698" width="18" height="3" fill="#000"/><rect x="1190" y="698" width="19" height="3" fill="#000"/></g>
<g shape-rendering="crispEdges"><rect x="1364" y="226" width="28" height="530" fill="#000"/><rect x="1368" y="750.95" width="20" height="2.35" fill="#0b0009"/><rect x="1368" y="748.91" width="20" height="2.35" fill="#0d000b"/><rect x="1368" y="746.86" width="20" height="2.35" fill="#0f000d"/><rect x="1368" y="744.81" width="20" height="2.35" fill="#11000f"/><rect x="1368" y="742.77" width="20" height="2.35" fill="#130011"/><rect x="1368" y="740.72" width="20" height="2.35" fill="#150013"/><rect x="1368" y="738.67" width="20" height="2.35" fill="#180016"/><rect x="1368" y="736.62" width="20" height="2.35" fill="#1a0018"/><rect x="1368" y="734.58" width="20" height="2.35" fill="#1d001b"/><rect x="1368" y="732.53" width="20" height="2.35" fill="#20001e"/><rect x="1368" y="730.48" width="20" height="2.35" fill="#230022"/><rect x="1368" y="728.44" width="20" height="2.35" fill="#260026"/><rect x="1368" y="726.39" width="20" height="2.35" fill="#290029"/><rect x="1368" y="724.34" width="20" height="2.35" fill="#2d002f"/><rect x="1368" y="722.3" width="20" height="2.35" fill="#35003d"/><rect x="1368" y="720.25" width="20" height="2.35" fill="#3d004b"/><rect x="1368" y="718.2" width="20" height="2.35" fill="#410052"/><rect x="1368" y="716.16" width="20" height="2.35" fill="#430056"/><rect x="1368" y="714.11" width="20" height="2.35" fill="#44005a"/><rect x="1368" y="712.06" width="20" height="2.35" fill="#46005e"/><rect x="1368" y="710.02" width="20" height="2.35" fill="#480062"/><rect x="1368" y="707.97" width="20" height="2.35" fill="#490066"/><rect x="1368" y="705.92" width="20" height="2.35" fill="#4b006a"/><rect x="1368" y="703.88" width="20" height="2.35" fill="#4c006d"/><rect x="1368" y="701.83" width="20" height="2.35" fill="#4d0070"/><rect x="1368" y="699.78" width="20" height="2.35" fill="#4d0072"/><rect x="1368" y="697.73" width="20" height="2.35" fill="#4e0074"/><rect x="1368" y="695.69" width="20" height="2.35" fill="#4e0077"/><rect x="1368" y="693.64" width="20" height="2.35" fill="#4f0079"/><rect x="1368" y="691.59" width="20" height="2.35" fill="#4f007c"/><rect x="1368" y="689.55" width="20" height="2.35" fill="#50007e"/><rect x="1368" y="687.5" width="20" height="2.35" fill="#4f0085"/><rect x="1368" y="685.45" width="20" height="2.35" fill="#4c0098"/><rect x="1368" y="683.41" width="20" height="2.35" fill="#4900ab"/><rect x="1368" y="681.36" width="20" height="2.35" fill="#4700b2"/><rect x="1368" y="679.31" width="20" height="2.35" fill="#4600b6"/><rect x="1368" y="677.27" width="20" height="2.35" fill="#4500b9"/><rect x="1368" y="675.22" width="20" height="2.35" fill="#4400bc"/><rect x="1368" y="673.17" width="20" height="2.35" fill="#4300c0"/><rect x="1368" y="671.12" width="20" height="2.35" fill="#4200c3"/><rect x="1368" y="669.08" width="20" height="2.35" fill="#4100c6"/><rect x="1368" y="667.03" width="20" height="2.35" fill="#3e00ca"/><rect x="1368" y="664.98" width="20" height="2.35" fill="#3b00cd"/><rect x="1368" y="662.94" width="20" height="2.35" fill="#3800d0"/><rect x="1368" y="660.89" width="20" height="2.35" fill="#3500d3"/><rect x="1368" y="658.84" width="20" height="2.35" fill="#3200d6"/><rect x="1368" y="656.8" width="20" height="2.35" fill="#2f00d9"/><rect x="1368" y="654.75" width="20" height="2.35" fill="#2c00dc"/><rect x="1368" y="652.7" width="20" height="2.35" fill="#2800e0"/><rect x="1368" y="650.66" width="20" height="2.35" fill="#2300e4"/><rect x="1368" y="648.61" width="20" height="2.35" fill="#1d00e9"/><rect x="1368" y="646.56" width="20" height="2.35" fill="#1800ee"/><rect x="1368" y="644.52" width="20" height="2.35" fill="#1200f3"/><rect x="1368" y="642.47" width="20" height="2.35" fill="#0c00f8"/><rect x="1368" y="640.42" width="20" height="2.35" fill="#0800fc"/><rect x="1368" y="638.38" width="20" height="2.35" fill="#0600fd"/><rect x="1368" y="636.33" width="20" height="2.35" fill="#0500fd"/><rect x="1368" y="634.28" width="20" height="2.35" fill="#0400fe"/><rect x="1368" y="632.23" width="20" height="2.35" fill="#0200fe"/><rect x="1368" y="630.19" width="20" height="2.35" fill="#0100ff"/><rect x="1368" y="628.14" width="20" height="2.35" fill="#0002ff"/><rect x="1368" y="626.09" width="20" height="2.35" fill="#0008ff"/><rect x="1368" y="624.05" width="20" height="2.35" fill="#000fff"/><rect x="1368" y="622" width="20" height="2.35" fill="#0015ff"/><rect x="1368" y="619.95" width="20" height="2.35" fill="#001fff"/><rect x="1368" y="617.91" width="20" height="2.35" fill="#002dff"/><rect x="1368" y="615.86" width="20" height="2.35" fill="#0039ff"/><rect x="1368" y="613.81" width="20" height="2.35" fill="#003fff"/><rect x="1368" y="611.77" width="20" height="2.35" fill="#0046ff"/><rect x="1368" y="609.72" width="20" height="2.35" fill="#004cff"/><rect x="1368" y="607.67" width="20" height="2.35" fill="#0052ff"/><rect x="1368" y="605.62" width="20" height="2.35" fill="#0058ff"/><rect x="1368" y="603.58" width="20" height="2.35" fill="#005fff"/><rect x="1368" y="601.53" width="20" height="2.35" fill="#0065ff"/><rect x="1368" y="599.48" width="20" height="2.35" fill="#006cff"/><rect x="1368" y="597.44" width="20" height="2.35" fill="#0073ff"/><rect x="1368" y="595.39" width="20" height="2.35" fill="#0079ff"/><rect x="1368" y="593.34" width="20" height="2.35" fill="#0080ff"/><rect x="1368" y="591.3" width="20" height="2.35" fill="#0087ff"/><rect x="1368" y="589.25" width="20" height="2.35" fill="#008eff"/><rect x="1368" y="587.2" width="20" height="2.35" fill="#0094ff"/><rect x="1368" y="585.16" width="20" height="2.35" fill="#009bff"/><rect x="1368" y="583.11" width="20" height="2.35" fill="#00a2ff"/><rect x="1368" y="581.06" width="20" height="2.35" fill="#00a8ff"/><rect x="1368" y="579.02" width="20" height="2.35" fill="#00afff"/><rect x="1368" y="576.97" width="20" height="2.35" fill="#00b6ff"/><rect x="1368" y="574.92" width="20" height="2.35" fill="#00bcff"/><rect x="1368" y="572.88" width="20" height="2.35" fill="#00c2ff"/><rect x="1368" y="570.83" width="20" height="2.35" fill="#00c8ff"/><rect x="1368" y="568.78" width="20" height="2.35" fill="#00cdff"/><rect x="1368" y="566.73" width="20" height="2.35" fill="#00d3ff"/><rect x="1368" y="564.69" width="20" height="2.35" fill="#00d8ff"/><rect x="1368" y="562.64" width="20" height="2.35" fill="#0df"/><rect x="1368" y="560.59" width="20" height="2.35" fill="#00e3ff"/><rect x="1368" y="558.55" width="20" height="2.35" fill="#00e8ff"/><rect x="1368" y="556.5" width="20" height="2.35" fill="#00effd"/><rect x="1368" y="554.45" width="20" height="2.35" fill="#00f6fb"/><rect x="1368" y="552.41" width="20" height="2.35" fill="#00fdf9"/><rect x="1368" y="550.36" width="20" height="2.35" fill="#00fff4"/><rect x="1368" y="548.31" width="20" height="2.35" fill="#00ffed"/><rect x="1368" y="546.27" width="20" height="2.35" fill="#00ffe7"/><rect x="1368" y="544.22" width="20" height="2.35" fill="#00ffe1"/><rect x="1368" y="542.17" width="20" height="2.35" fill="#00ffdb"/><rect x="1368" y="540.12" width="20" height="2.35" fill="#00ffd4"/><rect x="1368" y="538.08" width="20" height="2.35" fill="#00ffce"/><rect x="1368" y="536.03" width="20" height="2.35" fill="#00ffc7"/><rect x="1368" y="533.98" width="20" height="2.35" fill="#00ffc1"/><rect x="1368" y="531.94" width="20" height="2.35" fill="#00ffba"/><rect x="1368" y="529.89" width="20" height="2.35" fill="#00ffb3"/><rect x="1368" y="527.84" width="20" height="2.35" fill="#00ffac"/><rect x="1368" y="525.8" width="20" height="2.35" fill="#00ffa6"/><rect x="1368" y="523.75" width="20" height="2.35" fill="#00ff9f"/><rect x="1368" y="521.7" width="20" height="2.35" fill="#0f9"/><rect x="1368" y="519.66" width="20" height="2.35" fill="#00ff92"/><rect x="1368" y="517.61" width="20" height="2.35" fill="#00ff8c"/><rect x="1368" y="515.56" width="20" height="2.35" fill="#00ff85"/><rect x="1368" y="513.52" width="20" height="2.35" fill="#00ff7f"/><rect x="1368" y="511.47" width="20" height="2.35" fill="#00ff78"/><rect x="1368" y="509.42" width="20" height="2.35" fill="#00ff72"/><rect x="1368" y="507.38" width="20" height="2.35" fill="#00ff6a"/><rect x="1368" y="505.33" width="20" height="2.35" fill="#00ff61"/><rect x="1368" y="503.28" width="20" height="2.35" fill="#00ff58"/><rect x="1368" y="501.23" width="20" height="2.35" fill="#00ff4f"/><rect x="1368" y="499.19" width="20" height="2.35" fill="#00ff46"/><rect x="1368" y="497.14" width="20" height="2.35" fill="#00ff3d"/><rect x="1368" y="495.09" width="20" height="2.35" fill="#00ff34"/><rect x="1368" y="493.05" width="20" height="2.35" fill="#00ff29"/><rect x="1368" y="491" width="20" height="2.35" fill="#00ff1d"/><rect x="1368" y="488.95" width="20" height="2.35" fill="#00ff10"/><rect x="1368" y="486.91" width="20" height="2.35" fill="#07ff09"/><rect x="1368" y="484.86" width="20" height="2.35" fill="#0eff02"/><rect x="1368" y="482.81" width="20" height="2.35" fill="#14ff00"/><rect x="1368" y="480.77" width="20" height="2.35" fill="#1bff00"/><rect x="1368" y="478.72" width="20" height="2.35" fill="#21ff00"/><rect x="1368" y="476.67" width="20" height="2.35" fill="#28ff00"/><rect x="1368" y="474.62" width="20" height="2.35" fill="#2eff00"/><rect x="1368" y="472.58" width="20" height="2.35" fill="#35ff00"/><rect x="1368" y="470.53" width="20" height="2.35" fill="#3bff00"/><rect x="1368" y="468.48" width="20" height="2.35" fill="#42ff00"/><rect x="1368" y="466.44" width="20" height="2.35" fill="#48ff00"/><rect x="1368" y="464.39" width="20" height="2.35" fill="#4fff00"/><rect x="1368" y="462.34" width="20" height="2.35" fill="#56ff00"/><rect x="1368" y="460.3" width="20" height="2.35" fill="#5dff00"/><rect x="1368" y="458.25" width="20" height="2.35" fill="#63ff00"/><rect x="1368" y="456.2" width="20" height="2.35" fill="#6aff00"/><rect x="1368" y="454.16" width="20" height="2.35" fill="#71ff00"/><rect x="1368" y="452.11" width="20" height="2.35" fill="#7f0"/><rect x="1368" y="450.06" width="20" height="2.35" fill="#7eff00"/><rect x="1368" y="448.02" width="20" height="2.35" fill="#84ff00"/><rect x="1368" y="445.97" width="20" height="2.35" fill="#8aff00"/><rect x="1368" y="443.92" width="20" height="2.35" fill="#91ff00"/><rect x="1368" y="441.88" width="20" height="2.35" fill="#97ff00"/><rect x="1368" y="439.83" width="20" height="2.35" fill="#9eff00"/><rect x="1368" y="437.78" width="20" height="2.35" fill="#a5ff00"/><rect x="1368" y="435.73" width="20" height="2.35" fill="#abff00"/><rect x="1368" y="433.69" width="20" height="2.35" fill="#b2ff00"/><rect x="1368" y="431.64" width="20" height="2.35" fill="#b9ff00"/><rect x="1368" y="429.59" width="20" height="2.35" fill="#c0ff00"/><rect x="1368" y="427.55" width="20" height="2.35" fill="#c7ff00"/><rect x="1368" y="425.5" width="20" height="2.35" fill="#d6ff00"/><rect x="1368" y="423.45" width="20" height="2.35" fill="#e7ff00"/><rect x="1368" y="421.41" width="20" height="2.35" fill="#f1ff00"/><rect x="1368" y="419.36" width="20" height="2.35" fill="#f2ff00"/><rect x="1368" y="417.31" width="20" height="2.35" fill="#f4ff00"/><rect x="1368" y="415.27" width="20" height="2.35" fill="#f5ff00"/><rect x="1368" y="413.22" width="20" height="2.35" fill="#f7ff00"/><rect x="1368" y="411.17" width="20" height="2.35" fill="#f9ff00"/><rect x="1368" y="409.12" width="20" height="2.35" fill="#faff00"/><rect x="1368" y="407.08" width="20" height="2.35" fill="#fbfd00"/><rect x="1368" y="405.03" width="20" height="2.35" fill="#fbfb00"/><rect x="1368" y="402.98" width="20" height="2.35" fill="#fcf900"/><rect x="1368" y="400.94" width="20" height="2.35" fill="#fcf800"/><rect x="1368" y="398.89" width="20" height="2.35" fill="#fdf600"/><rect x="1368" y="396.84" width="20" height="2.35" fill="#fef400"/><rect x="1368" y="394.8" width="20" height="2.35" fill="#fef200"/><rect x="1368" y="392.75" width="20" height="2.35" fill="#fff000"/><rect x="1368" y="390.7" width="20" height="2.35" fill="#fe0"/><rect x="1368" y="388.66" width="20" height="2.35" fill="#ffec00"/><rect x="1368" y="386.61" width="20" height="2.35" fill="#ffe900"/><rect x="1368" y="384.56" width="20" height="2.35" fill="#ffe700"/><rect x="1368" y="382.52" width="20" height="2.35" fill="#ffe500"/><rect x="1368" y="380.47" width="20" height="2.35" fill="#ffe200"/><rect x="1368" y="378.42" width="20" height="2.35" fill="#ffe000"/><rect x="1368" y="376.38" width="20" height="2.35" fill="#ffdb00"/><rect x="1368" y="374.33" width="20" height="2.35" fill="#ffd600"/><rect x="1368" y="372.28" width="20" height="2.35" fill="#ffd100"/><rect x="1368" y="370.23" width="20" height="2.35" fill="#ffcb00"/><rect x="1368" y="368.19" width="20" height="2.35" fill="#ffc600"/><rect x="1368" y="366.14" width="20" height="2.35" fill="#ffc100"/><rect x="1368" y="364.09" width="20" height="2.35" fill="#ffba00"/><rect x="1368" y="362.05" width="20" height="2.35" fill="#ffb300"/><rect x="1368" y="360" width="20" height="2.35" fill="#ffab00"/><rect x="1368" y="357.95" width="20" height="2.35" fill="#ffa400"/><rect x="1368" y="355.91" width="20" height="2.35" fill="#ff9e00"/><rect x="1368" y="353.86" width="20" height="2.35" fill="#f90"/><rect x="1368" y="351.81" width="20" height="2.35" fill="#ff9500"/><rect x="1368" y="349.77" width="20" height="2.35" fill="#ff9000"/><rect x="1368" y="347.72" width="20" height="2.35" fill="#ff8c00"/><rect x="1368" y="345.67" width="20" height="2.35" fill="#f80"/><rect x="1368" y="343.62" width="20" height="2.35" fill="#ff8300"/><rect x="1368" y="341.58" width="20" height="2.35" fill="#ff7f00"/><rect x="1368" y="339.53" width="20" height="2.35" fill="#ff7a00"/><rect x="1368" y="337.48" width="20" height="2.35" fill="#ff7600"/><rect x="1368" y="335.44" width="20" height="2.35" fill="#ff7100"/><rect x="1368" y="333.39" width="20" height="2.35" fill="#ff6e00"/><rect x="1368" y="331.34" width="20" height="2.35" fill="#ff6c00"/><rect x="1368" y="329.3" width="20" height="2.35" fill="#ff6a00"/><rect x="1368" y="327.25" width="20" height="2.35" fill="#ff6800"/><rect x="1368" y="325.2" width="20" height="2.35" fill="#f60"/><rect x="1368" y="323.16" width="20" height="2.35" fill="#ff6400"/><rect x="1368" y="321.11" width="20" height="2.35" fill="#ff6200"/><rect x="1368" y="319.06" width="20" height="2.35" fill="#ff5e00"/><rect x="1368" y="317.02" width="20" height="2.35" fill="#ff5900"/><rect x="1368" y="314.97" width="20" height="2.35" fill="#ff5400"/><rect x="1368" y="312.92" width="20" height="2.35" fill="#ff4f00"/><rect x="1368" y="310.88" width="20" height="2.35" fill="#ff4a00"/><rect x="1368" y="308.83" width="20" height="2.35" fill="#f40"/><rect x="1368" y="306.78" width="20" height="2.35" fill="#ff3f00"/><rect x="1368" y="304.73" width="20" height="2.35" fill="#ff3800"/><rect x="1368" y="302.69" width="20" height="2.35" fill="#ff3200"/><rect x="1368" y="300.64" width="20" height="2.35" fill="#ff2b00"/><rect x="1368" y="298.59" width="20" height="2.35" fill="#ff2500"/><rect x="1368" y="296.55" width="20" height="2.35" fill="#ff1c00"/><rect x="1368" y="294.5" width="20" height="2.35" fill="#ff1000"/><rect x="1368" y="292.45" width="20" height="2.35" fill="#ff0300"/><rect x="1368" y="290.41" width="20" height="2.35" fill="#f00"/><rect x="1368" y="288.36" width="20" height="2.35" fill="#f00"/><rect x="1368" y="286.31" width="20" height="2.35" fill="#f00"/><rect x="1368" y="284.27" width="20" height="2.35" fill="#f00"/><rect x="1368" y="282.22" width="20" height="2.35" fill="#f00"/><rect x="1368" y="280.17" width="20" height="2.35" fill="#f00"/><rect x="1368" y="278.12" width="20" height="2.35" fill="#f00"/><rect x="1368" y="276.08" width="20" height="2.35" fill="#f00"/><rect x="1368" y="274.03" width="20" height="2.35" fill="#f00"/><rect x="1368" y="271.98" width="20" height="2.35" fill="#fd0000"/><rect x="1368" y="269.94" width="20" height="2.35" fill="#fb0000"/><rect x="1368" y="267.89" width="20" height="2.35" fill="#f90000"/><rect x="1368" y="265.84" width="20" height="2.35" fill="#f50000"/><rect x="1368" y="263.8" width="20" height="2.35" fill="#ef0000"/><rect x="1368" y="261.75" width="20" height="2.35" fill="#e90000"/><rect x="1368" y="259.7" width="20" height="2.35" fill="#e20000"/><rect x="1368" y="257.66" width="20" height="2.35" fill="#d00"/><rect x="1368" y="255.61" width="20" height="2.35" fill="#d70000"/><rect x="1368" y="253.56" width="20" height="2.35" fill="#d10000"/><rect x="1368" y="251.52" width="20" height="2.35" fill="#cb0000"/><rect x="1368" y="249.47" width="20" height="2.35" fill="#c50000"/><rect x="1368" y="247.42" width="20" height="2.35" fill="#c10000"/><rect x="1368" y="245.38" width="20" height="2.35" fill="#bd0000"/><rect x="1368" y="243.33" width="20" height="2.35" fill="#b90000"/><rect x="1368" y="241.28" width="20" height="2.35" fill="#b50000"/><rect x="1368" y="239.23" width="20" height="2.35" fill="#b10000"/><rect x="1368" y="237.19" width="20" height="2.35" fill="#af0000"/><rect x="1368" y="235.14" width="20" height="2.35" fill="#ad0000"/><rect x="1368" y="233.09" width="20" height="2.35" fill="#ac0000"/><rect x="1368" y="231.05" width="20" height="2.35" fill="#a00"/><rect x="1368" y="229" width="20" height="2.35" fill="#a90000"/><rect x="1364" y="292" width="28" height="3" fill="#000"/><rect x="1364" y="358" width="28" height="3" fill="#000"/><rect x="1364" y="424" width="28" height="3" fill="#000"/><rect x="1364" y="490" width="28" height="3" fill="#000"/><rect x="1364" y="555" width="28" height="3" fill="#000"/><rect x="1364" y="621" width="28" height="3" fill="#000"/><rect x="1364" y="687" width="28" height="3" fill="#000"/></g>
<g opacity="0.999">
<text transform="translate(182.5,90) scale(0.931,1)" font-size="50" font-style="italic" stroke-width="0.8">NYA6 6300 A</text>
<path fill-rule="evenodd" stroke="none" d="M443.2 48.9a6.1 4.95 0 1 0 12.2 0a6.1 4.95 0 1 0 -12.2 0zM447.3 48.7a2.3 2.75 0 1 0 4.6 0a2.3 2.75 0 1 0 -4.6 0z"/>
<text x="184" y="120" font-size="32" text-anchor="start" font-style="italic" letter-spacing="-0.25" stroke-width="0.5">2018-01-08 15:00-16:00 UT</text>
<text x="169.25" y="168" font-size="32" text-anchor="middle">17.8</text>
<text x="424.25" y="168" font-size="32" text-anchor="middle">18.0</text>
<text x="679.25" y="168" font-size="32" text-anchor="middle">18.2</text>
<text x="934.25" y="168" font-size="32" text-anchor="middle">18.4</text>
<text x="1189.25" y="168" font-size="32" text-anchor="middle">18.7</text>
<text x="679.2" y="132" font-size="32" text-anchor="middle" letter-spacing="1.2">MLT</text>
<text x="168.5" y="849" font-size="32" text-anchor="middle">15:00</text>
<text x="423.5" y="849" font-size="32" text-anchor="middle">15:15</text>
<text x="678.5" y="849" font-size="32" text-anchor="middle">15:30</text>
<text x="933.5" y="849" font-size="32" text-anchor="middle">15:45</text>
<text x="1188.5" y="849" font-size="32" text-anchor="middle">16:00</text>
<text x="678.5" y="895" font-size="32" text-anchor="middle">Time UT</text>
<text x="137" y="223" font-size="32" text-anchor="end">19.3</text>
<text x="1221" y="223" font-size="32" text-anchor="start">82.8</text>
<text x="137" y="296.07" font-size="32" text-anchor="end">41.7</text>
<text x="1221" y="296.07" font-size="32" text-anchor="start">79.0</text>
<text x="137" y="379.64" font-size="32" text-anchor="end">62.2</text>
<text x="1221" y="379.64" font-size="32" text-anchor="start">77.7</text>
<text x="137" y="463.21" font-size="32" text-anchor="end">80.9</text>
<text x="1221" y="463.21" font-size="32" text-anchor="start">76.9</text>
<text x="137" y="546.79" font-size="32" text-anchor="end">80.9</text>
<text x="1221" y="546.79" font-size="32" text-anchor="start">76.2</text>
<text x="137" y="630.36" font-size="32" text-anchor="end">62.6</text>
<text x="1221" y="630.36" font-size="32" text-anchor="start">75.4</text>
<text x="137" y="713.93" font-size="32" text-anchor="end">41.9</text>
<text x="1221" y="713.93" font-size="32" text-anchor="start">74.1</text>
<text x="137" y="783.5" font-size="32" text-anchor="end">19.0</text>
<text x="1221" y="783.5" font-size="32" text-anchor="start">70.1</text>
<text transform="translate(39,490) rotate(-90)" font-size="32" text-anchor="middle">Elevation</text>
<text transform="translate(1324,489.5) rotate(-90)" font-size="32" text-anchor="middle">MLAT</text>
<text transform="translate(1505,490) rotate(-90)" font-size="32" text-anchor="middle" letter-spacing="0.35">Brightness [kR]</text>
<text x="1402.5" y="307" font-size="32" text-anchor="start">0.91</text>
<text x="1402.5" y="372.83" font-size="32" text-anchor="start">0.76</text>
<text x="1402.5" y="438.67" font-size="32" text-anchor="start">0.62</text>
<text x="1402.5" y="504.5" font-size="32" text-anchor="start">0.52</text>
<text x="1402.5" y="570.33" font-size="32" text-anchor="start">0.43</text>
<text x="1402.5" y="636.17" font-size="32" text-anchor="start">0.35</text>
<text x="1402.5" y="702" font-size="32" text-anchor="start">0.29</text>
</g>
</svg>
</body></html>
